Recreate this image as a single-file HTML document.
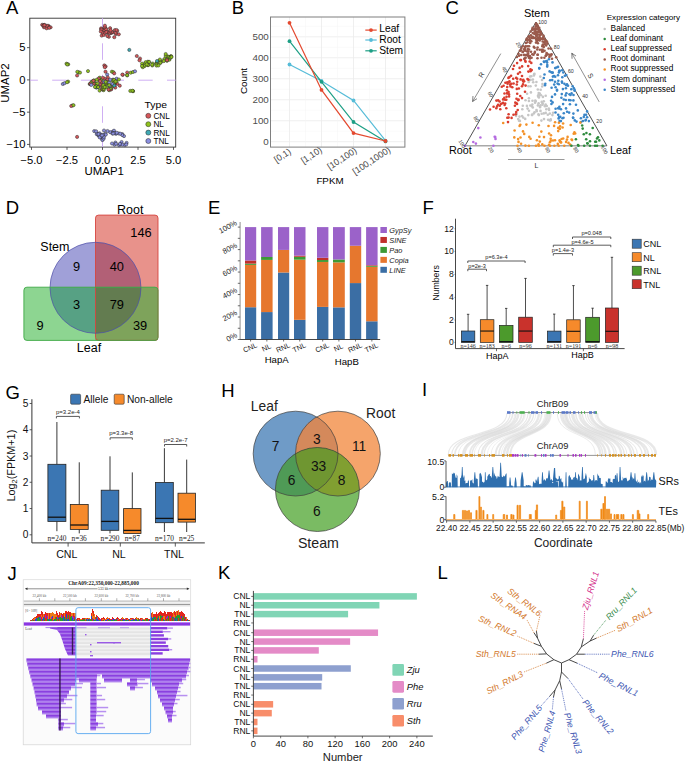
<!DOCTYPE html>
<html><head><meta charset="utf-8"><style>
html,body{margin:0;padding:0;background:#fff;}
svg{display:block;}
text{font-family:"Liberation Sans",sans-serif;}
</style></head><body>
<svg width="685" height="762" viewBox="0 0 685 762">
<text x="6.00" y="13.90" font-size="18.5" text-anchor="start" fill="#000" >A</text>
<text x="231.80" y="13.80" font-size="18.5" text-anchor="start" fill="#000" >B</text>
<text x="445.60" y="13.80" font-size="18.5" text-anchor="start" fill="#000" >C</text>
<text x="5.80" y="213.90" font-size="18.5" text-anchor="start" fill="#000" >D</text>
<text x="208.10" y="214.30" font-size="18.5" text-anchor="start" fill="#000" >E</text>
<text x="422.40" y="214.30" font-size="18.5" text-anchor="start" fill="#000" >F</text>
<text x="5.40" y="398.50" font-size="18.5" text-anchor="start" fill="#000" >G</text>
<text x="221.20" y="397.10" font-size="18.5" text-anchor="start" fill="#000" >H</text>
<text x="422.00" y="396.30" font-size="18.5" text-anchor="start" fill="#000" >I</text>
<text x="7.60" y="579.50" font-size="18.5" text-anchor="start" fill="#000" >J</text>
<text x="218.00" y="579.40" font-size="18.5" text-anchor="start" fill="#000" >K</text>
<text x="437.60" y="579.40" font-size="18.5" text-anchor="start" fill="#000" >L</text>
<rect x="29.8" y="18.2" width="145.89999999999998" height="128.9" fill="none" stroke="#333" stroke-width="0.9"/>
<line x1="29.80" y1="80.20" x2="175.70" y2="80.20" stroke="#c9a6f2" stroke-width="0.9" stroke-dasharray="14.4 14.3" stroke-dashoffset="6.3"/>
<line x1="102.50" y1="147.10" x2="102.50" y2="18.20" stroke="#c9a6f2" stroke-width="0.9" stroke-dasharray="16.5 15" stroke-dashoffset="7.2"/>
<g stroke="#2a2a2a" stroke-width="0.5">
<circle cx="48.5" cy="25.9" r="1.6" fill="#d5575a"/>
<circle cx="48.8" cy="27.2" r="1.6" fill="#d5575a"/>
<circle cx="42.2" cy="24.8" r="1.6" fill="#d5575a"/>
<circle cx="48.7" cy="26.8" r="1.6" fill="#d5575a"/>
<circle cx="46.6" cy="28.3" r="1.6" fill="#d5575a"/>
<circle cx="46.9" cy="25.7" r="1.6" fill="#d5575a"/>
<circle cx="44.4" cy="24.9" r="1.6" fill="#d5575a"/>
<circle cx="44.4" cy="25.7" r="1.6" fill="#d5575a"/>
<circle cx="50.6" cy="27.3" r="1.6" fill="#d5575a"/>
<circle cx="44.0" cy="27.3" r="1.6" fill="#d5575a"/>
<circle cx="43.3" cy="25.6" r="1.6" fill="#d5575a"/>
<circle cx="43.7" cy="25.3" r="1.6" fill="#d5575a"/>
<circle cx="49.2" cy="27.8" r="1.6" fill="#d5575a"/>
<circle cx="44.5" cy="25.2" r="1.6" fill="#d5575a"/>
<circle cx="110.1" cy="28.2" r="1.6" fill="#d5575a"/>
<circle cx="116.0" cy="34.0" r="1.6" fill="#d5575a"/>
<circle cx="103.7" cy="29.5" r="1.6" fill="#d5575a"/>
<circle cx="108.4" cy="32.9" r="1.6" fill="#d5575a"/>
<circle cx="112.6" cy="32.5" r="1.6" fill="#d5575a"/>
<circle cx="101.7" cy="35.6" r="1.6" fill="#d5575a"/>
<circle cx="118.8" cy="34.3" r="1.6" fill="#d5575a"/>
<circle cx="114.8" cy="30.1" r="1.6" fill="#d5575a"/>
<circle cx="104.3" cy="30.2" r="1.6" fill="#d5575a"/>
<circle cx="102.6" cy="32.7" r="1.6" fill="#d5575a"/>
<circle cx="101.5" cy="29.1" r="1.6" fill="#d5575a"/>
<circle cx="110.5" cy="32.8" r="1.6" fill="#d5575a"/>
<circle cx="114.3" cy="37.2" r="1.6" fill="#d5575a"/>
<circle cx="105.6" cy="28.3" r="1.6" fill="#d5575a"/>
<circle cx="103.8" cy="34.9" r="1.6" fill="#d5575a"/>
<circle cx="115.8" cy="32.7" r="1.6" fill="#d5575a"/>
<circle cx="107.4" cy="31.6" r="1.6" fill="#d5575a"/>
<circle cx="106.1" cy="29.3" r="1.6" fill="#d5575a"/>
<circle cx="117.2" cy="30.8" r="1.6" fill="#d5575a"/>
<circle cx="105.2" cy="32.9" r="1.6" fill="#d5575a"/>
<circle cx="101.1" cy="28.4" r="1.6" fill="#d5575a"/>
<circle cx="101.3" cy="29.7" r="1.6" fill="#d5575a"/>
<circle cx="104.7" cy="27.1" r="1.6" fill="#d5575a"/>
<circle cx="110.9" cy="33.1" r="1.6" fill="#d5575a"/>
<circle cx="116.5" cy="30.0" r="1.6" fill="#d5575a"/>
<circle cx="106.3" cy="32.0" r="1.6" fill="#d5575a"/>
<circle cx="108.9" cy="36.8" r="1.6" fill="#d5575a"/>
<circle cx="109.6" cy="32.6" r="1.6" fill="#d5575a"/>
<circle cx="100.8" cy="31.5" r="1.6" fill="#d5575a"/>
<circle cx="112.0" cy="32.0" r="1.6" fill="#d5575a"/>
<circle cx="104.9" cy="25.7" r="1.6" fill="#d5575a"/>
<circle cx="110.4" cy="31.4" r="1.6" fill="#d5575a"/>
<circle cx="110.5" cy="30.3" r="1.6" fill="#d5575a"/>
<circle cx="107.3" cy="36.0" r="1.6" fill="#d5575a"/>
<circle cx="129.3" cy="49.9" r="1.6" fill="#3fa9b4"/>
<circle cx="136.8" cy="56.0" r="1.6" fill="#d5575a"/>
<circle cx="140.0" cy="58.5" r="1.6" fill="#d5575a"/>
<circle cx="139.5" cy="60.3" r="1.6" fill="#d5575a"/>
<circle cx="156.4" cy="63.2" r="1.6" fill="#8fc21e"/>
<circle cx="148.2" cy="62.3" r="1.6" fill="#8fc21e"/>
<circle cx="170.6" cy="56.4" r="1.6" fill="#8fc21e"/>
<circle cx="169.4" cy="59.7" r="1.6" fill="#8fc21e"/>
<circle cx="164.7" cy="59.8" r="1.6" fill="#8fc21e"/>
<circle cx="144.7" cy="65.6" r="1.6" fill="#8fc21e"/>
<circle cx="167.4" cy="56.3" r="1.6" fill="#8fc21e"/>
<circle cx="152.7" cy="63.5" r="1.6" fill="#8fc21e"/>
<circle cx="148.7" cy="62.3" r="1.6" fill="#8fc21e"/>
<circle cx="161.1" cy="61.6" r="1.6" fill="#8fc21e"/>
<circle cx="160.4" cy="62.8" r="1.6" fill="#8fc21e"/>
<circle cx="147.9" cy="61.7" r="1.6" fill="#8fc21e"/>
<circle cx="149.2" cy="61.9" r="1.6" fill="#8fc21e"/>
<circle cx="148.0" cy="65.2" r="1.6" fill="#8fc21e"/>
<circle cx="156.8" cy="63.3" r="1.6" fill="#8fc21e"/>
<circle cx="165.7" cy="56.0" r="1.6" fill="#8fc21e"/>
<circle cx="156.2" cy="64.4" r="1.6" fill="#8fc21e"/>
<circle cx="152.3" cy="65.5" r="1.6" fill="#8fc21e"/>
<circle cx="166.3" cy="59.4" r="1.6" fill="#8fc21e"/>
<circle cx="171.2" cy="56.2" r="1.6" fill="#8fc21e"/>
<circle cx="144.4" cy="65.0" r="1.6" fill="#8fc21e"/>
<circle cx="152.1" cy="64.7" r="1.6" fill="#8fc21e"/>
<circle cx="156.5" cy="65.6" r="1.6" fill="#8fc21e"/>
<circle cx="142.1" cy="63.6" r="1.6" fill="#8fc21e"/>
<circle cx="169.3" cy="57.2" r="1.6" fill="#8fc21e"/>
<circle cx="167.0" cy="60.8" r="1.6" fill="#8fc21e"/>
<circle cx="145.6" cy="62.2" r="1.6" fill="#8fc21e"/>
<circle cx="148.0" cy="65.1" r="1.6" fill="#8fc21e"/>
<circle cx="168.7" cy="56.9" r="1.6" fill="#8fc21e"/>
<circle cx="144.6" cy="64.5" r="1.6" fill="#8fc21e"/>
<circle cx="170.4" cy="57.5" r="1.6" fill="#8fc21e"/>
<circle cx="164.3" cy="59.1" r="1.6" fill="#8fc21e"/>
<circle cx="144.5" cy="66.0" r="1.6" fill="#8fc21e"/>
<circle cx="142.8" cy="67.2" r="1.6" fill="#8fc21e"/>
<circle cx="159.7" cy="60.7" r="1.6" fill="#8fc21e"/>
<circle cx="160.3" cy="62.7" r="1.6" fill="#8fc21e"/>
<circle cx="159.9" cy="59.5" r="1.6" fill="#8fc21e"/>
<circle cx="146.7" cy="64.3" r="1.6" fill="#8fc21e"/>
<circle cx="158.4" cy="65.5" r="1.6" fill="#8fc21e"/>
<circle cx="163.8" cy="61.1" r="1.6" fill="#8fc21e"/>
<circle cx="142.0" cy="66.0" r="1.6" fill="#8fc21e"/>
<circle cx="157.0" cy="61.0" r="1.6" fill="#3fa9b4"/>
<circle cx="167.0" cy="60.2" r="1.6" fill="#d5575a"/>
<circle cx="165.7" cy="54.0" r="1.6" fill="#8fc21e"/>
<circle cx="170.5" cy="57.5" r="1.6" fill="#8fc21e"/>
<circle cx="171.5" cy="57.0" r="1.6" fill="#8fc21e"/>
<circle cx="122.8" cy="74.8" r="1.6" fill="#d5575a"/>
<circle cx="127.2" cy="72.5" r="1.6" fill="#d5575a"/>
<circle cx="127.2" cy="75.3" r="1.6" fill="#8fc21e"/>
<circle cx="130.7" cy="72.7" r="1.6" fill="#8fc21e"/>
<circle cx="133.0" cy="72.0" r="1.6" fill="#8fc21e"/>
<circle cx="135.0" cy="71.3" r="1.6" fill="#8b8fe0"/>
<circle cx="130.3" cy="90.9" r="1.6" fill="#8fc21e"/>
<circle cx="133.0" cy="91.1" r="1.6" fill="#8fc21e"/>
<circle cx="133.0" cy="91.2" r="1.6" fill="#8fc21e"/>
<circle cx="132.5" cy="90.7" r="1.6" fill="#8fc21e"/>
<circle cx="66.5" cy="63.7" r="1.6" fill="#8fc21e"/>
<circle cx="68.2" cy="64.3" r="1.6" fill="#8fc21e"/>
<circle cx="67.2" cy="64.5" r="1.6" fill="#8fc21e"/>
<circle cx="78.6" cy="72.3" r="1.6" fill="#8fc21e"/>
<circle cx="80.0" cy="72.6" r="1.6" fill="#8fc21e"/>
<circle cx="77.3" cy="71.8" r="1.6" fill="#8fc21e"/>
<circle cx="77.1" cy="75.5" r="1.6" fill="#d5575a"/>
<circle cx="88.0" cy="71.1" r="1.6" fill="#8fc21e"/>
<circle cx="62.8" cy="84.0" r="1.6" fill="#8b8fe0"/>
<circle cx="64.5" cy="83.2" r="1.6" fill="#8b8fe0"/>
<circle cx="68.1" cy="81.6" r="1.6" fill="#8fc21e"/>
<circle cx="67.0" cy="82.2" r="1.6" fill="#8fc21e"/>
<circle cx="72.4" cy="105.5" r="1.6" fill="#8fc21e"/>
<circle cx="71.2" cy="106.0" r="1.6" fill="#d5575a"/>
<circle cx="73.5" cy="105.2" r="1.6" fill="#8fc21e"/>
<circle cx="77.1" cy="136.9" r="1.6" fill="#d5575a"/>
<circle cx="104.3" cy="65.4" r="1.6" fill="#d5575a"/>
<circle cx="105.6" cy="66.4" r="1.6" fill="#d5575a"/>
<circle cx="104.8" cy="67.2" r="1.6" fill="#d5575a"/>
<circle cx="105.5" cy="71.7" r="1.6" fill="#d5575a"/>
<circle cx="107.2" cy="74.6" r="1.6" fill="#8b8fe0"/>
<circle cx="107.8" cy="77.5" r="1.6" fill="#d5575a"/>
<circle cx="104.5" cy="78.5" r="1.6" fill="#d5575a"/>
<circle cx="111.9" cy="71.7" r="1.6" fill="#8fc21e"/>
<circle cx="113.4" cy="72.2" r="1.6" fill="#8fc21e"/>
<circle cx="114.2" cy="73.4" r="1.6" fill="#d5575a"/>
<circle cx="122.4" cy="74.6" r="1.6" fill="#d5575a"/>
<circle cx="127.1" cy="75.2" r="1.6" fill="#8fc21e"/>
<circle cx="116.6" cy="78.7" r="1.6" fill="#8b8fe0"/>
<circle cx="118.9" cy="79.5" r="1.6" fill="#8fc21e"/>
<circle cx="119.8" cy="85.7" r="1.6" fill="#d5575a"/>
<circle cx="113.9" cy="82.2" r="1.6" fill="#8fc21e"/>
<circle cx="106.2" cy="84.2" r="1.6" fill="#8fc21e"/>
<circle cx="109.2" cy="90.2" r="1.6" fill="#8fc21e"/>
<circle cx="103.4" cy="82.1" r="1.6" fill="#8b8fe0"/>
<circle cx="105.3" cy="81.4" r="1.6" fill="#8b8fe0"/>
<circle cx="96.0" cy="84.3" r="1.6" fill="#8fc21e"/>
<circle cx="106.3" cy="83.1" r="1.6" fill="#8fc21e"/>
<circle cx="99.7" cy="77.7" r="1.6" fill="#8fc21e"/>
<circle cx="102.7" cy="77.8" r="1.6" fill="#d5575a"/>
<circle cx="111.3" cy="89.1" r="1.6" fill="#d5575a"/>
<circle cx="113.1" cy="79.6" r="1.6" fill="#8b8fe0"/>
<circle cx="111.2" cy="86.8" r="1.6" fill="#8fc21e"/>
<circle cx="117.3" cy="83.8" r="1.6" fill="#d5575a"/>
<circle cx="89.7" cy="84.0" r="1.6" fill="#8fc21e"/>
<circle cx="96.8" cy="87.4" r="1.6" fill="#8fc21e"/>
<circle cx="109.5" cy="88.9" r="1.6" fill="#8fc21e"/>
<circle cx="103.6" cy="90.2" r="1.6" fill="#8fc21e"/>
<circle cx="101.4" cy="83.2" r="1.6" fill="#d5575a"/>
<circle cx="114.5" cy="84.7" r="1.6" fill="#8b8fe0"/>
<circle cx="101.0" cy="80.2" r="1.6" fill="#8fc21e"/>
<circle cx="102.3" cy="85.3" r="1.6" fill="#8b8fe0"/>
<circle cx="96.2" cy="87.5" r="1.6" fill="#3fa9b4"/>
<circle cx="95.5" cy="84.3" r="1.6" fill="#8fc21e"/>
<circle cx="112.3" cy="80.3" r="1.6" fill="#8fc21e"/>
<circle cx="99.6" cy="90.6" r="1.6" fill="#8fc21e"/>
<circle cx="94.4" cy="83.8" r="1.6" fill="#d5575a"/>
<circle cx="92.0" cy="81.6" r="1.6" fill="#8fc21e"/>
<circle cx="107.5" cy="79.7" r="1.6" fill="#d5575a"/>
<circle cx="96.5" cy="84.0" r="1.6" fill="#8fc21e"/>
<circle cx="113.6" cy="84.8" r="1.6" fill="#8fc21e"/>
<circle cx="105.0" cy="87.4" r="1.6" fill="#8fc21e"/>
<circle cx="114.1" cy="79.9" r="1.6" fill="#8fc21e"/>
<circle cx="97.5" cy="86.5" r="1.6" fill="#8fc21e"/>
<circle cx="100.5" cy="84.9" r="1.6" fill="#d5575a"/>
<circle cx="114.2" cy="83.3" r="1.6" fill="#8fc21e"/>
<circle cx="114.2" cy="86.3" r="1.6" fill="#8fc21e"/>
<circle cx="102.8" cy="89.5" r="1.6" fill="#8fc21e"/>
<circle cx="110.9" cy="89.5" r="1.6" fill="#d5575a"/>
<circle cx="90.2" cy="84.0" r="1.6" fill="#d5575a"/>
<circle cx="106.4" cy="87.4" r="1.6" fill="#8fc21e"/>
<circle cx="114.3" cy="82.7" r="1.6" fill="#8fc21e"/>
<circle cx="99.1" cy="80.3" r="1.6" fill="#8fc21e"/>
<circle cx="94.0" cy="80.9" r="1.6" fill="#8fc21e"/>
<circle cx="101.8" cy="89.0" r="1.6" fill="#d5575a"/>
<circle cx="110.4" cy="88.4" r="1.6" fill="#8fc21e"/>
<circle cx="97.3" cy="83.6" r="1.6" fill="#8fc21e"/>
<circle cx="95.9" cy="86.3" r="1.6" fill="#8fc21e"/>
<circle cx="108.6" cy="89.6" r="1.6" fill="#d5575a"/>
<circle cx="107.2" cy="82.5" r="1.6" fill="#8fc21e"/>
<circle cx="98.6" cy="78.6" r="1.6" fill="#d5575a"/>
<circle cx="91.2" cy="82.5" r="1.6" fill="#8fc21e"/>
<circle cx="102.7" cy="88.8" r="1.6" fill="#8fc21e"/>
<circle cx="115.3" cy="87.6" r="1.6" fill="#d5575a"/>
<circle cx="112.5" cy="84.0" r="1.6" fill="#8b8fe0"/>
<circle cx="101.9" cy="86.4" r="1.6" fill="#d5575a"/>
<circle cx="100.1" cy="81.1" r="1.6" fill="#d5575a"/>
<circle cx="103.8" cy="88.7" r="1.6" fill="#8fc21e"/>
<circle cx="116.3" cy="81.7" r="1.6" fill="#8fc21e"/>
<circle cx="108.4" cy="82.3" r="1.6" fill="#8fc21e"/>
<circle cx="103.4" cy="86.7" r="1.6" fill="#8fc21e"/>
<circle cx="115.6" cy="81.5" r="1.6" fill="#8fc21e"/>
<circle cx="103.1" cy="86.6" r="1.6" fill="#8fc21e"/>
<circle cx="90.4" cy="83.8" r="1.6" fill="#d5575a"/>
<circle cx="96.1" cy="86.1" r="1.6" fill="#8fc21e"/>
<circle cx="93.9" cy="80.4" r="1.6" fill="#8fc21e"/>
<circle cx="103.3" cy="85.1" r="1.6" fill="#8fc21e"/>
<circle cx="109.9" cy="86.0" r="1.6" fill="#8fc21e"/>
<circle cx="114.3" cy="85.6" r="1.6" fill="#3fa9b4"/>
<circle cx="96.8" cy="79.7" r="1.6" fill="#8fc21e"/>
<circle cx="105.7" cy="81.8" r="1.6" fill="#8fc21e"/>
<circle cx="98.2" cy="87.1" r="1.6" fill="#3fa9b4"/>
<circle cx="109.3" cy="82.6" r="1.6" fill="#8b8fe0"/>
<circle cx="98.1" cy="87.1" r="1.6" fill="#8fc21e"/>
<circle cx="109.8" cy="86.0" r="1.6" fill="#8b8fe0"/>
<circle cx="95.0" cy="87.0" r="1.6" fill="#8fc21e"/>
<circle cx="109.2" cy="85.2" r="1.6" fill="#8fc21e"/>
<circle cx="110.2" cy="79.7" r="1.6" fill="#8b8fe0"/>
<circle cx="104.7" cy="87.0" r="1.6" fill="#8fc21e"/>
<circle cx="91.2" cy="84.9" r="1.6" fill="#8b8fe0"/>
<circle cx="93.4" cy="80.8" r="1.6" fill="#d5575a"/>
<circle cx="94.2" cy="131.1" r="1.6" fill="#8b8fe0"/>
<circle cx="97.9" cy="134.3" r="1.6" fill="#8b8fe0"/>
<circle cx="97.6" cy="133.8" r="1.6" fill="#8b8fe0"/>
<circle cx="101.2" cy="137.4" r="1.6" fill="#8b8fe0"/>
<circle cx="102.0" cy="137.7" r="1.6" fill="#8b8fe0"/>
<circle cx="96.8" cy="134.2" r="1.6" fill="#8b8fe0"/>
<circle cx="102.3" cy="139.6" r="1.6" fill="#8b8fe0"/>
<circle cx="98.4" cy="135.1" r="1.6" fill="#8b8fe0"/>
<circle cx="96.1" cy="131.3" r="1.6" fill="#8b8fe0"/>
<circle cx="102.5" cy="140.0" r="1.6" fill="#8b8fe0"/>
<circle cx="99.4" cy="136.3" r="1.6" fill="#8b8fe0"/>
<circle cx="103.7" cy="138.6" r="1.6" fill="#8b8fe0"/>
<circle cx="101.7" cy="135.7" r="1.6" fill="#8b8fe0"/>
<circle cx="99.3" cy="135.7" r="1.6" fill="#8b8fe0"/>
<circle cx="103.6" cy="135.7" r="1.6" fill="#8b8fe0"/>
<circle cx="103.8" cy="136.9" r="1.6" fill="#8b8fe0"/>
<circle cx="99.6" cy="133.3" r="1.6" fill="#8b8fe0"/>
<circle cx="105.3" cy="133.8" r="1.6" fill="#8b8fe0"/>
<circle cx="101.2" cy="135.1" r="1.6" fill="#8b8fe0"/>
<circle cx="99.7" cy="137.4" r="1.6" fill="#8b8fe0"/>
<circle cx="105.8" cy="134.6" r="1.6" fill="#8b8fe0"/>
<circle cx="102.9" cy="134.8" r="1.6" fill="#8b8fe0"/>
<circle cx="102.0" cy="135.4" r="1.6" fill="#8b8fe0"/>
<circle cx="98.5" cy="134.0" r="1.6" fill="#8b8fe0"/>
<circle cx="112.7" cy="131.7" r="1.6" fill="#8b8fe0"/>
<circle cx="114.0" cy="130.7" r="1.6" fill="#8b8fe0"/>
<circle cx="116.0" cy="133.8" r="1.6" fill="#8b8fe0"/>
<circle cx="110.2" cy="132.2" r="1.6" fill="#8b8fe0"/>
<circle cx="112.5" cy="133.6" r="1.6" fill="#8b8fe0"/>
<circle cx="122.3" cy="134.1" r="1.6" fill="#8b8fe0"/>
<circle cx="114.6" cy="133.0" r="1.6" fill="#8b8fe0"/>
<circle cx="114.5" cy="133.1" r="1.6" fill="#8b8fe0"/>
<circle cx="124.0" cy="136.1" r="1.6" fill="#8b8fe0"/>
<circle cx="118.7" cy="133.5" r="1.6" fill="#8b8fe0"/>
<circle cx="113.1" cy="133.5" r="1.6" fill="#8b8fe0"/>
<circle cx="116.8" cy="132.8" r="1.6" fill="#8b8fe0"/>
<circle cx="122.2" cy="135.0" r="1.6" fill="#8b8fe0"/>
<circle cx="120.2" cy="133.7" r="1.6" fill="#8b8fe0"/>
<circle cx="121.6" cy="142.0" r="1.6" fill="#8b8fe0"/>
<circle cx="119.1" cy="145.2" r="1.6" fill="#8b8fe0"/>
<circle cx="124.7" cy="145.0" r="1.6" fill="#8b8fe0"/>
<circle cx="126.6" cy="142.9" r="1.6" fill="#8b8fe0"/>
<circle cx="115.4" cy="142.5" r="1.6" fill="#8b8fe0"/>
<circle cx="120.8" cy="144.4" r="1.6" fill="#8b8fe0"/>
<circle cx="126.2" cy="144.5" r="1.6" fill="#8b8fe0"/>
<circle cx="122.4" cy="144.7" r="1.6" fill="#8b8fe0"/>
<circle cx="119.9" cy="143.9" r="1.6" fill="#8b8fe0"/>
<circle cx="114.5" cy="144.7" r="1.6" fill="#8b8fe0"/>
<circle cx="112.0" cy="143.5" r="1.6" fill="#8b8fe0"/>
<circle cx="116.0" cy="143.8" r="1.6" fill="#8b8fe0"/>
<circle cx="104.0" cy="130.5" r="1.6" fill="#8b8fe0"/>
<circle cx="107.5" cy="131.0" r="1.6" fill="#8b8fe0"/>
</g>
<line x1="31.50" y1="147.10" x2="31.50" y2="149.90" stroke="#333" stroke-width="0.8" />
<text x="0" y="0" font-size="10.2" text-anchor="middle" fill="#000" transform="translate(31.50,163.60) scale(1.1,1)" >−5.0</text>
<line x1="67.00" y1="147.10" x2="67.00" y2="149.90" stroke="#333" stroke-width="0.8" />
<text x="0" y="0" font-size="10.2" text-anchor="middle" fill="#000" transform="translate(67.00,163.60) scale(1.1,1)" >−2.5</text>
<line x1="102.50" y1="147.10" x2="102.50" y2="149.90" stroke="#333" stroke-width="0.8" />
<text x="0" y="0" font-size="10.2" text-anchor="middle" fill="#000" transform="translate(102.50,163.60) scale(1.1,1)" >0.0</text>
<line x1="138.00" y1="147.10" x2="138.00" y2="149.90" stroke="#333" stroke-width="0.8" />
<text x="0" y="0" font-size="10.2" text-anchor="middle" fill="#000" transform="translate(138.00,163.60) scale(1.1,1)" >2.5</text>
<line x1="173.50" y1="147.10" x2="173.50" y2="149.90" stroke="#333" stroke-width="0.8" />
<text x="0" y="0" font-size="10.2" text-anchor="middle" fill="#000" transform="translate(173.50,163.60) scale(1.1,1)" >5.0</text>
<line x1="27.00" y1="47.64" x2="29.80" y2="47.64" stroke="#333" stroke-width="0.8" />
<text x="0" y="0" font-size="10.2" text-anchor="end" fill="#000" transform="translate(25.60,51.24) scale(1.1,1)" >5</text>
<line x1="27.00" y1="79.90" x2="29.80" y2="79.90" stroke="#333" stroke-width="0.8" />
<text x="0" y="0" font-size="10.2" text-anchor="end" fill="#000" transform="translate(25.60,83.50) scale(1.1,1)" >0</text>
<line x1="27.00" y1="112.16" x2="29.80" y2="112.16" stroke="#333" stroke-width="0.8" />
<text x="0" y="0" font-size="10.2" text-anchor="end" fill="#000" transform="translate(25.60,115.76) scale(1.1,1)" >−5</text>
<line x1="27.00" y1="144.42" x2="29.80" y2="144.42" stroke="#333" stroke-width="0.8" />
<text x="0" y="0" font-size="10.2" text-anchor="end" fill="#000" transform="translate(25.60,148.02) scale(1.1,1)" >−10</text>
<text x="0" y="0" font-size="10.4" text-anchor="middle" fill="#000" transform="translate(104.20,174.80) scale(1.1,1)" >UMAP1</text>
<text x="0.00" y="0.00" font-size="10.4" text-anchor="middle" fill="#000" transform="translate(9.0,83) rotate(-90) scale(1.1,1)">UMAP2</text>
<text x="0" y="0" font-size="9.8" text-anchor="start" fill="#000" transform="translate(144.60,107.90) scale(1.06,1)" >Type</text>
<circle cx="148.3" cy="115.8" r="2.5" fill="#d5575a" stroke="#222" stroke-width="0.5"/>
<text x="153.40" y="118.70" font-size="8.2" text-anchor="start" fill="#000" >CNL</text>
<circle cx="148.3" cy="124.2" r="2.5" fill="#8fc21e" stroke="#222" stroke-width="0.5"/>
<text x="153.40" y="127.10" font-size="8.2" text-anchor="start" fill="#000" >NL</text>
<circle cx="148.3" cy="132.6" r="2.5" fill="#3fa9b4" stroke="#222" stroke-width="0.5"/>
<text x="153.40" y="135.50" font-size="8.2" text-anchor="start" fill="#000" >RNL</text>
<circle cx="148.3" cy="141.0" r="2.5" fill="#8b8fe0" stroke="#222" stroke-width="0.5"/>
<text x="153.40" y="143.90" font-size="8.2" text-anchor="start" fill="#000" >TNL</text>
<rect x="270.50" y="17.00" width="134.40" height="130.10" fill="#fff" />
<line x1="270.50" y1="131.21" x2="404.90" y2="131.21" stroke="#f4f4f4" stroke-width="0.5" />
<line x1="270.50" y1="110.23" x2="404.90" y2="110.23" stroke="#f4f4f4" stroke-width="0.5" />
<line x1="270.50" y1="89.25" x2="404.90" y2="89.25" stroke="#f4f4f4" stroke-width="0.5" />
<line x1="270.50" y1="68.27" x2="404.90" y2="68.27" stroke="#f4f4f4" stroke-width="0.5" />
<line x1="270.50" y1="47.29" x2="404.90" y2="47.29" stroke="#f4f4f4" stroke-width="0.5" />
<line x1="270.50" y1="26.31" x2="404.90" y2="26.31" stroke="#f4f4f4" stroke-width="0.5" />
<line x1="270.50" y1="141.70" x2="404.90" y2="141.70" stroke="#ebebeb" stroke-width="0.8" />
<line x1="270.50" y1="120.72" x2="404.90" y2="120.72" stroke="#ebebeb" stroke-width="0.8" />
<line x1="270.50" y1="99.74" x2="404.90" y2="99.74" stroke="#ebebeb" stroke-width="0.8" />
<line x1="270.50" y1="78.76" x2="404.90" y2="78.76" stroke="#ebebeb" stroke-width="0.8" />
<line x1="270.50" y1="57.78" x2="404.90" y2="57.78" stroke="#ebebeb" stroke-width="0.8" />
<line x1="270.50" y1="36.80" x2="404.90" y2="36.80" stroke="#ebebeb" stroke-width="0.8" />
<line x1="305.50" y1="17.00" x2="305.50" y2="147.10" stroke="#f4f4f4" stroke-width="0.5" />
<line x1="337.50" y1="17.00" x2="337.50" y2="147.10" stroke="#f4f4f4" stroke-width="0.5" />
<line x1="369.50" y1="17.00" x2="369.50" y2="147.10" stroke="#f4f4f4" stroke-width="0.5" />
<line x1="289.50" y1="17.00" x2="289.50" y2="147.10" stroke="#ebebeb" stroke-width="0.8" />
<line x1="321.50" y1="17.00" x2="321.50" y2="147.10" stroke="#ebebeb" stroke-width="0.8" />
<line x1="353.50" y1="17.00" x2="353.50" y2="147.10" stroke="#ebebeb" stroke-width="0.8" />
<line x1="385.50" y1="17.00" x2="385.50" y2="147.10" stroke="#ebebeb" stroke-width="0.8" />
<rect x="270.5" y="17.0" width="134.39999999999998" height="130.1" fill="none" stroke="#7f7f7f" stroke-width="1"/>
<polyline points="289.5,64.5 321.5,81.0 353.5,100.5 385.5,140.6" fill="none" stroke="#56bcd8" stroke-width="1.2"/>
<circle cx="289.5" cy="64.5" r="1.9" fill="#56bcd8"/>
<circle cx="321.5" cy="81.0" r="1.9" fill="#56bcd8"/>
<circle cx="353.5" cy="100.5" r="1.9" fill="#56bcd8"/>
<circle cx="385.5" cy="140.6" r="1.9" fill="#56bcd8"/>
<polyline points="289.5,41.2 321.5,81.8 353.5,122.0 385.5,141.4" fill="none" stroke="#1d9f85" stroke-width="1.2"/>
<circle cx="289.5" cy="41.2" r="1.9" fill="#1d9f85"/>
<circle cx="321.5" cy="81.8" r="1.9" fill="#1d9f85"/>
<circle cx="353.5" cy="122.0" r="1.9" fill="#1d9f85"/>
<circle cx="385.5" cy="141.4" r="1.9" fill="#1d9f85"/>
<polyline points="289.5,22.8 321.5,89.9 353.5,133.1 385.5,141.0" fill="none" stroke="#e4492f" stroke-width="1.2"/>
<circle cx="289.5" cy="22.8" r="1.9" fill="#e4492f"/>
<circle cx="321.5" cy="89.9" r="1.9" fill="#e4492f"/>
<circle cx="353.5" cy="133.1" r="1.9" fill="#e4492f"/>
<circle cx="385.5" cy="141.0" r="1.9" fill="#e4492f"/>
<text x="268.80" y="145.20" font-size="9.8" text-anchor="end" fill="#4d4d4d" >0</text>
<text x="268.80" y="124.22" font-size="9.8" text-anchor="end" fill="#4d4d4d" >100</text>
<text x="268.80" y="103.24" font-size="9.8" text-anchor="end" fill="#4d4d4d" >200</text>
<text x="268.80" y="82.26" font-size="9.8" text-anchor="end" fill="#4d4d4d" >300</text>
<text x="268.80" y="61.28" font-size="9.8" text-anchor="end" fill="#4d4d4d" >400</text>
<text x="268.80" y="40.30" font-size="9.8" text-anchor="end" fill="#4d4d4d" >500</text>
<text x="0.00" y="0.00" font-size="9" text-anchor="end" fill="#4d4d4d" transform="translate(291.7,153.1) rotate(-33)">[0,1)</text>
<text x="0.00" y="0.00" font-size="9" text-anchor="end" fill="#4d4d4d" transform="translate(322.7,151.5) rotate(-33)">[1,10)</text>
<text x="0.00" y="0.00" font-size="9" text-anchor="end" fill="#4d4d4d" transform="translate(357.5,152.1) rotate(-33)">[10,100)</text>
<text x="0.00" y="0.00" font-size="9" text-anchor="end" fill="#4d4d4d" transform="translate(391.2,151.5) rotate(-33)">[100,1000)</text>
<text x="330.00" y="184.10" font-size="9.8" text-anchor="middle" fill="#000" >FPKM</text>
<text x="0.00" y="0.00" font-size="9.8" text-anchor="middle" fill="#000" transform="translate(247.2,81) rotate(-90)">Count</text>
<line x1="365.30" y1="30.10" x2="376.70" y2="30.10" stroke="#e4492f" stroke-width="1.2" />
<circle cx="371" cy="30.1" r="1.9" fill="#e4492f"/>
<text x="379.30" y="32.10" font-size="10.2" text-anchor="start" fill="#000" >Leaf</text>
<line x1="365.30" y1="40.00" x2="376.70" y2="40.00" stroke="#56bcd8" stroke-width="1.2" />
<circle cx="371" cy="40.0" r="1.9" fill="#56bcd8"/>
<text x="379.30" y="42.90" font-size="10.2" text-anchor="start" fill="#000" >Root</text>
<line x1="365.30" y1="50.80" x2="376.70" y2="50.80" stroke="#1d9f85" stroke-width="1.2" />
<circle cx="371" cy="50.8" r="1.9" fill="#1d9f85"/>
<text x="379.30" y="54.00" font-size="10.2" text-anchor="start" fill="#000" >Stem</text>
<line x1="465.00" y1="145.80" x2="606.90" y2="145.80" stroke="#a8a8a8" stroke-width="1.5" />
<line x1="536.00" y1="22.00" x2="465.00" y2="145.80" stroke="#222" stroke-width="0.8" />
<line x1="536.00" y1="22.00" x2="606.90" y2="145.80" stroke="#222" stroke-width="0.8" />
<circle cx="545.7" cy="112.9" r="1.3" fill="#c6c6c6"/>
<circle cx="536.4" cy="82.0" r="1.3" fill="#c6c6c6"/>
<circle cx="528.9" cy="101.0" r="1.3" fill="#c6c6c6"/>
<circle cx="533.8" cy="113.5" r="1.3" fill="#c6c6c6"/>
<circle cx="525.2" cy="118.9" r="1.3" fill="#c6c6c6"/>
<circle cx="544.0" cy="119.1" r="1.3" fill="#c6c6c6"/>
<circle cx="546.3" cy="109.2" r="1.3" fill="#c6c6c6"/>
<circle cx="535.7" cy="101.2" r="1.3" fill="#c6c6c6"/>
<circle cx="531.9" cy="106.2" r="1.3" fill="#c6c6c6"/>
<circle cx="548.1" cy="119.7" r="1.3" fill="#c6c6c6"/>
<circle cx="532.5" cy="100.8" r="1.3" fill="#c6c6c6"/>
<circle cx="538.6" cy="95.2" r="1.3" fill="#c6c6c6"/>
<circle cx="542.6" cy="103.3" r="1.3" fill="#c6c6c6"/>
<circle cx="549.1" cy="110.0" r="1.3" fill="#c6c6c6"/>
<circle cx="516.1" cy="116.0" r="1.3" fill="#c6c6c6"/>
<circle cx="534.5" cy="112.2" r="1.3" fill="#c6c6c6"/>
<circle cx="516.8" cy="114.0" r="1.3" fill="#c6c6c6"/>
<circle cx="530.6" cy="79.9" r="1.3" fill="#c6c6c6"/>
<circle cx="542.0" cy="80.0" r="1.3" fill="#c6c6c6"/>
<circle cx="549.7" cy="120.4" r="1.3" fill="#c6c6c6"/>
<circle cx="548.8" cy="108.6" r="1.3" fill="#c6c6c6"/>
<circle cx="522.1" cy="116.1" r="1.3" fill="#c6c6c6"/>
<circle cx="522.8" cy="105.8" r="1.3" fill="#c6c6c6"/>
<circle cx="540.1" cy="106.9" r="1.3" fill="#c6c6c6"/>
<circle cx="541.4" cy="120.6" r="1.3" fill="#c6c6c6"/>
<circle cx="538.4" cy="114.4" r="1.3" fill="#c6c6c6"/>
<circle cx="541.7" cy="101.9" r="1.3" fill="#c6c6c6"/>
<circle cx="538.2" cy="96.4" r="1.3" fill="#c6c6c6"/>
<circle cx="552.4" cy="115.1" r="1.3" fill="#c6c6c6"/>
<circle cx="538.6" cy="103.3" r="1.3" fill="#c6c6c6"/>
<circle cx="530.1" cy="76.5" r="1.3" fill="#c6c6c6"/>
<circle cx="543.8" cy="113.4" r="1.3" fill="#c6c6c6"/>
<circle cx="537.9" cy="105.4" r="1.3" fill="#c6c6c6"/>
<circle cx="519.9" cy="120.9" r="1.3" fill="#c6c6c6"/>
<circle cx="545.7" cy="95.8" r="1.3" fill="#c6c6c6"/>
<circle cx="530.3" cy="105.5" r="1.3" fill="#c6c6c6"/>
<circle cx="535.3" cy="100.5" r="1.3" fill="#c6c6c6"/>
<circle cx="542.2" cy="86.5" r="1.3" fill="#c6c6c6"/>
<circle cx="533.2" cy="82.2" r="1.3" fill="#c6c6c6"/>
<circle cx="535.1" cy="102.8" r="1.3" fill="#c6c6c6"/>
<circle cx="546.8" cy="106.0" r="1.3" fill="#c6c6c6"/>
<circle cx="538.7" cy="93.1" r="1.3" fill="#c6c6c6"/>
<circle cx="538.9" cy="97.4" r="1.3" fill="#c6c6c6"/>
<circle cx="542.6" cy="104.8" r="1.3" fill="#c6c6c6"/>
<circle cx="543.8" cy="101.3" r="1.3" fill="#c6c6c6"/>
<circle cx="545.6" cy="104.6" r="1.3" fill="#c6c6c6"/>
<circle cx="534.1" cy="74.6" r="1.3" fill="#c6c6c6"/>
<circle cx="532.8" cy="107.5" r="1.3" fill="#c6c6c6"/>
<circle cx="519.0" cy="120.8" r="1.3" fill="#c6c6c6"/>
<circle cx="530.5" cy="86.3" r="1.3" fill="#c6c6c6"/>
<circle cx="540.5" cy="110.9" r="1.3" fill="#c6c6c6"/>
<circle cx="540.5" cy="105.3" r="1.3" fill="#c6c6c6"/>
<circle cx="522.3" cy="109.3" r="1.3" fill="#c6c6c6"/>
<circle cx="526.9" cy="105.9" r="1.3" fill="#c6c6c6"/>
<circle cx="547.8" cy="114.7" r="1.3" fill="#c6c6c6"/>
<circle cx="533.9" cy="75.5" r="1.3" fill="#c6c6c6"/>
<circle cx="540.3" cy="76.6" r="1.3" fill="#c6c6c6"/>
<circle cx="540.0" cy="107.1" r="1.3" fill="#c6c6c6"/>
<circle cx="545.8" cy="105.9" r="1.3" fill="#c6c6c6"/>
<circle cx="523.2" cy="117.6" r="1.3" fill="#c6c6c6"/>
<circle cx="537.8" cy="89.5" r="1.3" fill="#c6c6c6"/>
<circle cx="539.1" cy="95.3" r="1.3" fill="#c6c6c6"/>
<circle cx="518.2" cy="119.0" r="1.3" fill="#c6c6c6"/>
<circle cx="534.4" cy="73.8" r="1.3" fill="#c6c6c6"/>
<circle cx="542.9" cy="96.9" r="1.3" fill="#c6c6c6"/>
<circle cx="532.0" cy="114.9" r="1.3" fill="#c6c6c6"/>
<circle cx="536.7" cy="111.3" r="1.3" fill="#c6c6c6"/>
<circle cx="541.0" cy="95.2" r="1.3" fill="#c6c6c6"/>
<circle cx="531.3" cy="76.3" r="1.3" fill="#c6c6c6"/>
<circle cx="538.9" cy="115.1" r="1.3" fill="#c6c6c6"/>
<circle cx="550.7" cy="120.3" r="1.3" fill="#c6c6c6"/>
<circle cx="550.7" cy="119.3" r="1.3" fill="#c6c6c6"/>
<circle cx="544.9" cy="106.3" r="1.3" fill="#c6c6c6"/>
<circle cx="519.5" cy="116.6" r="1.3" fill="#c6c6c6"/>
<circle cx="549.8" cy="113.6" r="1.3" fill="#c6c6c6"/>
<circle cx="541.7" cy="113.8" r="1.3" fill="#c6c6c6"/>
<circle cx="553.1" cy="112.8" r="1.3" fill="#c6c6c6"/>
<circle cx="528.3" cy="115.1" r="1.3" fill="#c6c6c6"/>
<circle cx="539.8" cy="93.6" r="1.3" fill="#c6c6c6"/>
<circle cx="530.9" cy="92.4" r="1.3" fill="#c6c6c6"/>
<circle cx="536.5" cy="110.1" r="1.3" fill="#c6c6c6"/>
<circle cx="532.9" cy="79.6" r="1.3" fill="#c6c6c6"/>
<circle cx="532.3" cy="104.5" r="1.3" fill="#c6c6c6"/>
<circle cx="538.1" cy="95.5" r="1.3" fill="#c6c6c6"/>
<circle cx="540.7" cy="89.7" r="1.3" fill="#c6c6c6"/>
<circle cx="528.7" cy="81.9" r="1.3" fill="#c6c6c6"/>
<circle cx="532.1" cy="114.9" r="1.3" fill="#c6c6c6"/>
<circle cx="528.9" cy="98.3" r="1.3" fill="#c6c6c6"/>
<circle cx="527.1" cy="93.8" r="1.3" fill="#c6c6c6"/>
<circle cx="527.6" cy="108.6" r="1.3" fill="#c6c6c6"/>
<circle cx="525.5" cy="100.3" r="1.3" fill="#c6c6c6"/>
<circle cx="535.8" cy="85.6" r="1.3" fill="#c6c6c6"/>
<circle cx="528.4" cy="86.2" r="1.3" fill="#c6c6c6"/>
<circle cx="542.5" cy="84.0" r="1.3" fill="#c6c6c6"/>
<circle cx="529.0" cy="110.8" r="1.3" fill="#c6c6c6"/>
<circle cx="539.4" cy="31.0" r="1.3" fill="#9a5a4c"/>
<circle cx="543.2" cy="38.9" r="1.3" fill="#9a5a4c"/>
<circle cx="534.5" cy="28.8" r="1.3" fill="#9a5a4c"/>
<circle cx="552.0" cy="58.7" r="1.3" fill="#9a5a4c"/>
<circle cx="536.3" cy="32.2" r="1.3" fill="#9a5a4c"/>
<circle cx="538.3" cy="38.6" r="1.3" fill="#9a5a4c"/>
<circle cx="526.4" cy="54.9" r="1.3" fill="#9a5a4c"/>
<circle cx="524.9" cy="47.0" r="1.3" fill="#9a5a4c"/>
<circle cx="521.2" cy="55.0" r="1.3" fill="#9a5a4c"/>
<circle cx="539.0" cy="39.1" r="1.3" fill="#9a5a4c"/>
<circle cx="541.5" cy="57.8" r="1.3" fill="#9a5a4c"/>
<circle cx="522.6" cy="52.0" r="1.3" fill="#9a5a4c"/>
<circle cx="540.4" cy="38.3" r="1.3" fill="#9a5a4c"/>
<circle cx="530.0" cy="58.4" r="1.3" fill="#9a5a4c"/>
<circle cx="536.8" cy="31.9" r="1.3" fill="#9a5a4c"/>
<circle cx="547.3" cy="43.6" r="1.3" fill="#9a5a4c"/>
<circle cx="525.7" cy="57.7" r="1.3" fill="#9a5a4c"/>
<circle cx="527.4" cy="42.3" r="1.3" fill="#9a5a4c"/>
<circle cx="524.3" cy="59.0" r="1.3" fill="#9a5a4c"/>
<circle cx="518.5" cy="53.7" r="1.3" fill="#9a5a4c"/>
<circle cx="531.5" cy="37.6" r="1.3" fill="#9a5a4c"/>
<circle cx="531.0" cy="51.7" r="1.3" fill="#9a5a4c"/>
<circle cx="537.5" cy="58.2" r="1.3" fill="#9a5a4c"/>
<circle cx="537.4" cy="32.2" r="1.3" fill="#9a5a4c"/>
<circle cx="527.6" cy="55.2" r="1.3" fill="#9a5a4c"/>
<circle cx="545.4" cy="40.6" r="1.3" fill="#9a5a4c"/>
<circle cx="532.3" cy="54.3" r="1.3" fill="#9a5a4c"/>
<circle cx="522.9" cy="51.7" r="1.3" fill="#9a5a4c"/>
<circle cx="542.1" cy="51.7" r="1.3" fill="#9a5a4c"/>
<circle cx="534.6" cy="53.1" r="1.3" fill="#9a5a4c"/>
<circle cx="516.9" cy="57.0" r="1.3" fill="#9a5a4c"/>
<circle cx="531.8" cy="38.1" r="1.3" fill="#9a5a4c"/>
<circle cx="537.2" cy="49.5" r="1.3" fill="#9a5a4c"/>
<circle cx="529.0" cy="49.5" r="1.3" fill="#9a5a4c"/>
<circle cx="525.9" cy="43.0" r="1.3" fill="#9a5a4c"/>
<circle cx="525.1" cy="46.9" r="1.3" fill="#9a5a4c"/>
<circle cx="524.1" cy="49.2" r="1.3" fill="#9a5a4c"/>
<circle cx="539.5" cy="36.9" r="1.3" fill="#9a5a4c"/>
<circle cx="546.8" cy="53.9" r="1.3" fill="#9a5a4c"/>
<circle cx="528.4" cy="51.6" r="1.3" fill="#9a5a4c"/>
<circle cx="527.7" cy="46.2" r="1.3" fill="#9a5a4c"/>
<circle cx="525.0" cy="49.3" r="1.3" fill="#9a5a4c"/>
<circle cx="532.9" cy="37.9" r="1.3" fill="#9a5a4c"/>
<circle cx="543.3" cy="45.9" r="1.3" fill="#9a5a4c"/>
<circle cx="551.0" cy="55.5" r="1.3" fill="#9a5a4c"/>
<circle cx="530.9" cy="35.4" r="1.3" fill="#9a5a4c"/>
<circle cx="533.8" cy="46.9" r="1.3" fill="#9a5a4c"/>
<circle cx="551.6" cy="54.2" r="1.3" fill="#9a5a4c"/>
<circle cx="542.7" cy="49.9" r="1.3" fill="#9a5a4c"/>
<circle cx="533.5" cy="54.7" r="1.3" fill="#9a5a4c"/>
<circle cx="546.2" cy="41.0" r="1.3" fill="#9a5a4c"/>
<circle cx="544.6" cy="50.7" r="1.3" fill="#9a5a4c"/>
<circle cx="546.6" cy="53.0" r="1.3" fill="#9a5a4c"/>
<circle cx="525.9" cy="46.2" r="1.3" fill="#9a5a4c"/>
<circle cx="526.5" cy="39.6" r="1.3" fill="#9a5a4c"/>
<circle cx="526.9" cy="38.6" r="1.3" fill="#9a5a4c"/>
<circle cx="539.9" cy="35.0" r="1.3" fill="#9a5a4c"/>
<circle cx="527.2" cy="51.4" r="1.3" fill="#9a5a4c"/>
<circle cx="548.6" cy="48.5" r="1.3" fill="#9a5a4c"/>
<circle cx="540.3" cy="39.3" r="1.3" fill="#9a5a4c"/>
<circle cx="544.7" cy="42.5" r="1.3" fill="#9a5a4c"/>
<circle cx="537.9" cy="43.3" r="1.3" fill="#9a5a4c"/>
<circle cx="522.8" cy="46.1" r="1.3" fill="#9a5a4c"/>
<circle cx="541.8" cy="49.8" r="1.3" fill="#9a5a4c"/>
<circle cx="519.9" cy="50.7" r="1.3" fill="#9a5a4c"/>
<circle cx="542.8" cy="44.9" r="1.3" fill="#9a5a4c"/>
<circle cx="545.2" cy="44.2" r="1.3" fill="#9a5a4c"/>
<circle cx="528.5" cy="56.0" r="1.3" fill="#9a5a4c"/>
<circle cx="528.7" cy="56.3" r="1.3" fill="#9a5a4c"/>
<circle cx="531.6" cy="57.7" r="1.3" fill="#9a5a4c"/>
<circle cx="545.8" cy="55.7" r="1.3" fill="#9a5a4c"/>
<circle cx="537.5" cy="40.1" r="1.3" fill="#9a5a4c"/>
<circle cx="537.8" cy="54.8" r="1.3" fill="#9a5a4c"/>
<circle cx="528.2" cy="53.8" r="1.3" fill="#9a5a4c"/>
<circle cx="546.0" cy="55.6" r="1.3" fill="#9a5a4c"/>
<circle cx="534.9" cy="51.9" r="1.3" fill="#9a5a4c"/>
<circle cx="537.7" cy="28.2" r="1.3" fill="#9a5a4c"/>
<circle cx="528.9" cy="57.7" r="1.3" fill="#9a5a4c"/>
<circle cx="532.7" cy="36.9" r="1.3" fill="#9a5a4c"/>
<circle cx="538.2" cy="31.9" r="1.3" fill="#9a5a4c"/>
<circle cx="536.0" cy="42.6" r="1.3" fill="#9a5a4c"/>
<circle cx="534.6" cy="47.7" r="1.3" fill="#9a5a4c"/>
<circle cx="543.2" cy="51.5" r="1.3" fill="#9a5a4c"/>
<circle cx="544.7" cy="39.3" r="1.3" fill="#9a5a4c"/>
<circle cx="527.8" cy="49.0" r="1.3" fill="#9a5a4c"/>
<circle cx="547.8" cy="54.4" r="1.3" fill="#9a5a4c"/>
<circle cx="529.1" cy="46.2" r="1.3" fill="#9a5a4c"/>
<circle cx="532.2" cy="29.5" r="1.3" fill="#9a5a4c"/>
<circle cx="537.5" cy="54.8" r="1.3" fill="#9a5a4c"/>
<circle cx="528.8" cy="36.8" r="1.3" fill="#9a5a4c"/>
<circle cx="535.1" cy="29.2" r="1.3" fill="#9a5a4c"/>
<circle cx="524.7" cy="58.2" r="1.3" fill="#9a5a4c"/>
<circle cx="538.9" cy="29.0" r="1.3" fill="#9a5a4c"/>
<circle cx="524.8" cy="49.9" r="1.3" fill="#9a5a4c"/>
<circle cx="533.9" cy="38.0" r="1.3" fill="#9a5a4c"/>
<circle cx="539.7" cy="40.5" r="1.3" fill="#9a5a4c"/>
<circle cx="521.4" cy="47.9" r="1.3" fill="#9a5a4c"/>
<circle cx="540.8" cy="33.3" r="1.3" fill="#9a5a4c"/>
<circle cx="544.4" cy="57.7" r="1.3" fill="#9a5a4c"/>
<circle cx="525.1" cy="50.8" r="1.3" fill="#9a5a4c"/>
<circle cx="556.2" cy="57.3" r="1.3" fill="#9a5a4c"/>
<circle cx="530.2" cy="43.0" r="1.3" fill="#9a5a4c"/>
<circle cx="537.6" cy="47.5" r="1.3" fill="#9a5a4c"/>
<circle cx="520.9" cy="50.3" r="1.3" fill="#9a5a4c"/>
<circle cx="549.4" cy="56.9" r="1.3" fill="#9a5a4c"/>
<circle cx="534.4" cy="33.9" r="1.3" fill="#9a5a4c"/>
<circle cx="550.0" cy="54.9" r="1.3" fill="#9a5a4c"/>
<circle cx="543.8" cy="47.1" r="1.3" fill="#9a5a4c"/>
<circle cx="539.8" cy="49.7" r="1.3" fill="#9a5a4c"/>
<circle cx="519.0" cy="55.7" r="1.3" fill="#9a5a4c"/>
<circle cx="529.9" cy="56.0" r="1.3" fill="#9a5a4c"/>
<circle cx="536.7" cy="28.8" r="1.3" fill="#9a5a4c"/>
<circle cx="523.9" cy="54.9" r="1.3" fill="#9a5a4c"/>
<circle cx="528.0" cy="39.8" r="1.3" fill="#9a5a4c"/>
<circle cx="525.2" cy="55.3" r="1.3" fill="#9a5a4c"/>
<circle cx="542.3" cy="46.3" r="1.3" fill="#9a5a4c"/>
<circle cx="538.7" cy="39.8" r="1.3" fill="#9a5a4c"/>
<circle cx="551.1" cy="48.8" r="1.3" fill="#9a5a4c"/>
<circle cx="547.0" cy="41.7" r="1.3" fill="#9a5a4c"/>
<circle cx="543.2" cy="37.3" r="1.3" fill="#9a5a4c"/>
<circle cx="527.1" cy="39.8" r="1.3" fill="#9a5a4c"/>
<circle cx="546.2" cy="45.5" r="1.3" fill="#9a5a4c"/>
<circle cx="532.8" cy="29.8" r="1.3" fill="#9a5a4c"/>
<circle cx="543.0" cy="44.7" r="1.3" fill="#9a5a4c"/>
<circle cx="544.2" cy="42.4" r="1.3" fill="#9a5a4c"/>
<circle cx="539.2" cy="27.8" r="1.3" fill="#9a5a4c"/>
<circle cx="538.0" cy="34.6" r="1.3" fill="#9a5a4c"/>
<circle cx="537.2" cy="26.3" r="1.3" fill="#9a5a4c"/>
<circle cx="531.3" cy="41.2" r="1.3" fill="#9a5a4c"/>
<circle cx="537.0" cy="41.4" r="1.3" fill="#9a5a4c"/>
<circle cx="540.6" cy="31.7" r="1.3" fill="#9a5a4c"/>
<circle cx="536.6" cy="36.3" r="1.3" fill="#9a5a4c"/>
<circle cx="537.1" cy="26.0" r="1.3" fill="#9a5a4c"/>
<circle cx="535.6" cy="31.8" r="1.3" fill="#9a5a4c"/>
<circle cx="536.2" cy="24.1" r="1.3" fill="#9a5a4c"/>
<circle cx="535.5" cy="33.6" r="1.3" fill="#9a5a4c"/>
<circle cx="536.8" cy="34.4" r="1.3" fill="#9a5a4c"/>
<circle cx="541.9" cy="38.9" r="1.3" fill="#9a5a4c"/>
<circle cx="537.4" cy="25.6" r="1.3" fill="#9a5a4c"/>
<circle cx="535.0" cy="37.8" r="1.3" fill="#9a5a4c"/>
<circle cx="535.4" cy="29.7" r="1.3" fill="#9a5a4c"/>
<circle cx="532.6" cy="27.9" r="1.3" fill="#9a5a4c"/>
<circle cx="540.7" cy="32.5" r="1.3" fill="#9a5a4c"/>
<circle cx="536.1" cy="23.6" r="1.3" fill="#9a5a4c"/>
<circle cx="529.9" cy="40.1" r="1.3" fill="#9a5a4c"/>
<circle cx="530.0" cy="40.9" r="1.3" fill="#9a5a4c"/>
<circle cx="537.9" cy="37.9" r="1.3" fill="#9a5a4c"/>
<circle cx="536.7" cy="38.6" r="1.3" fill="#9a5a4c"/>
<circle cx="539.2" cy="30.9" r="1.3" fill="#9a5a4c"/>
<circle cx="538.0" cy="38.9" r="1.3" fill="#9a5a4c"/>
<circle cx="541.6" cy="34.4" r="1.3" fill="#9a5a4c"/>
<circle cx="536.0" cy="33.8" r="1.3" fill="#9a5a4c"/>
<circle cx="538.0" cy="31.8" r="1.3" fill="#9a5a4c"/>
<circle cx="537.4" cy="25.6" r="1.3" fill="#9a5a4c"/>
<circle cx="540.0" cy="32.0" r="1.3" fill="#9a5a4c"/>
<circle cx="528.9" cy="36.2" r="1.3" fill="#9a5a4c"/>
<circle cx="536.3" cy="35.2" r="1.3" fill="#9a5a4c"/>
<circle cx="539.3" cy="37.8" r="1.3" fill="#9a5a4c"/>
<circle cx="537.7" cy="28.9" r="1.3" fill="#9a5a4c"/>
<circle cx="534.8" cy="31.6" r="1.3" fill="#9a5a4c"/>
<circle cx="543.5" cy="35.7" r="1.3" fill="#9a5a4c"/>
<circle cx="532.8" cy="33.1" r="1.3" fill="#9a5a4c"/>
<circle cx="536.1" cy="39.7" r="1.3" fill="#9a5a4c"/>
<circle cx="542.7" cy="41.5" r="1.3" fill="#9a5a4c"/>
<circle cx="530.7" cy="31.5" r="1.3" fill="#9a5a4c"/>
<circle cx="533.3" cy="37.8" r="1.3" fill="#9a5a4c"/>
<circle cx="535.5" cy="26.7" r="1.3" fill="#9a5a4c"/>
<circle cx="535.8" cy="24.7" r="1.3" fill="#9a5a4c"/>
<circle cx="529.6" cy="38.1" r="1.3" fill="#9a5a4c"/>
<circle cx="534.9" cy="29.1" r="1.3" fill="#9a5a4c"/>
<circle cx="503.1" cy="102.7" r="1.3" fill="#d93d2f"/>
<circle cx="522.0" cy="76.0" r="1.3" fill="#d93d2f"/>
<circle cx="516.5" cy="98.7" r="1.3" fill="#d93d2f"/>
<circle cx="510.2" cy="84.7" r="1.3" fill="#d93d2f"/>
<circle cx="507.3" cy="82.4" r="1.3" fill="#d93d2f"/>
<circle cx="516.2" cy="77.9" r="1.3" fill="#d93d2f"/>
<circle cx="509.1" cy="96.4" r="1.3" fill="#d93d2f"/>
<circle cx="515.7" cy="114.3" r="1.3" fill="#d93d2f"/>
<circle cx="506.9" cy="90.3" r="1.3" fill="#d93d2f"/>
<circle cx="520.3" cy="60.1" r="1.3" fill="#d93d2f"/>
<circle cx="523.0" cy="84.4" r="1.3" fill="#d93d2f"/>
<circle cx="498.2" cy="100.4" r="1.3" fill="#d93d2f"/>
<circle cx="508.6" cy="114.2" r="1.3" fill="#d93d2f"/>
<circle cx="506.6" cy="96.7" r="1.3" fill="#d93d2f"/>
<circle cx="507.2" cy="87.1" r="1.3" fill="#d93d2f"/>
<circle cx="500.3" cy="109.3" r="1.3" fill="#d93d2f"/>
<circle cx="509.0" cy="94.3" r="1.3" fill="#d93d2f"/>
<circle cx="503.6" cy="85.7" r="1.3" fill="#d93d2f"/>
<circle cx="519.6" cy="67.9" r="1.3" fill="#d93d2f"/>
<circle cx="502.5" cy="103.3" r="1.3" fill="#d93d2f"/>
<circle cx="518.9" cy="88.5" r="1.3" fill="#d93d2f"/>
<circle cx="513.6" cy="83.5" r="1.3" fill="#d93d2f"/>
<circle cx="518.2" cy="100.3" r="1.3" fill="#d93d2f"/>
<circle cx="529.7" cy="61.5" r="1.3" fill="#d93d2f"/>
<circle cx="520.6" cy="79.4" r="1.3" fill="#d93d2f"/>
<circle cx="511.1" cy="75.7" r="1.3" fill="#d93d2f"/>
<circle cx="507.3" cy="117.8" r="1.3" fill="#d93d2f"/>
<circle cx="531.3" cy="62.9" r="1.3" fill="#d93d2f"/>
<circle cx="505.1" cy="99.7" r="1.3" fill="#d93d2f"/>
<circle cx="513.2" cy="78.8" r="1.3" fill="#d93d2f"/>
<circle cx="503.1" cy="99.4" r="1.3" fill="#d93d2f"/>
<circle cx="506.3" cy="99.8" r="1.3" fill="#d93d2f"/>
<circle cx="518.5" cy="99.5" r="1.3" fill="#d93d2f"/>
<circle cx="510.5" cy="86.5" r="1.3" fill="#d93d2f"/>
<circle cx="507.6" cy="83.7" r="1.3" fill="#d93d2f"/>
<circle cx="530.4" cy="69.4" r="1.3" fill="#d93d2f"/>
<circle cx="505.4" cy="82.8" r="1.3" fill="#d93d2f"/>
<circle cx="499.6" cy="101.5" r="1.3" fill="#d93d2f"/>
<circle cx="504.3" cy="97.8" r="1.3" fill="#d93d2f"/>
<circle cx="525.6" cy="61.8" r="1.3" fill="#d93d2f"/>
<circle cx="496.4" cy="100.6" r="1.3" fill="#d93d2f"/>
<circle cx="527.5" cy="79.1" r="1.3" fill="#d93d2f"/>
<circle cx="493.6" cy="106.8" r="1.3" fill="#d93d2f"/>
<circle cx="514.0" cy="65.8" r="1.3" fill="#d93d2f"/>
<circle cx="528.2" cy="66.1" r="1.3" fill="#d93d2f"/>
<circle cx="516.2" cy="112.1" r="1.3" fill="#d93d2f"/>
<circle cx="517.2" cy="93.8" r="1.3" fill="#d93d2f"/>
<circle cx="530.5" cy="71.3" r="1.3" fill="#d93d2f"/>
<circle cx="522.0" cy="86.2" r="1.3" fill="#d93d2f"/>
<circle cx="522.0" cy="98.1" r="1.3" fill="#d93d2f"/>
<circle cx="518.0" cy="73.8" r="1.3" fill="#d93d2f"/>
<circle cx="523.3" cy="81.6" r="1.3" fill="#d93d2f"/>
<circle cx="507.1" cy="93.4" r="1.3" fill="#d93d2f"/>
<circle cx="508.6" cy="92.0" r="1.3" fill="#d93d2f"/>
<circle cx="512.3" cy="87.2" r="1.3" fill="#d93d2f"/>
<circle cx="531.7" cy="70.1" r="1.3" fill="#d93d2f"/>
<circle cx="499.8" cy="105.8" r="1.3" fill="#d93d2f"/>
<circle cx="516.8" cy="84.5" r="1.3" fill="#d93d2f"/>
<circle cx="490.0" cy="109.5" r="1.3" fill="#d93d2f"/>
<circle cx="507.5" cy="92.8" r="1.3" fill="#d93d2f"/>
<circle cx="525.6" cy="85.6" r="1.3" fill="#d93d2f"/>
<circle cx="517.2" cy="81.7" r="1.3" fill="#d93d2f"/>
<circle cx="501.8" cy="86.7" r="1.3" fill="#d93d2f"/>
<circle cx="522.1" cy="66.4" r="1.3" fill="#d93d2f"/>
<circle cx="522.8" cy="80.5" r="1.3" fill="#d93d2f"/>
<circle cx="517.0" cy="103.9" r="1.3" fill="#d93d2f"/>
<circle cx="514.9" cy="105.7" r="1.3" fill="#d93d2f"/>
<circle cx="504.5" cy="93.5" r="1.3" fill="#d93d2f"/>
<circle cx="517.1" cy="63.1" r="1.3" fill="#d93d2f"/>
<circle cx="505.2" cy="103.6" r="1.3" fill="#d93d2f"/>
<circle cx="511.6" cy="117.9" r="1.3" fill="#d93d2f"/>
<circle cx="528.4" cy="71.6" r="1.3" fill="#d93d2f"/>
<circle cx="509.4" cy="81.2" r="1.3" fill="#d93d2f"/>
<circle cx="516.8" cy="88.9" r="1.3" fill="#d93d2f"/>
<circle cx="511.4" cy="83.7" r="1.3" fill="#d93d2f"/>
<circle cx="523.3" cy="79.7" r="1.3" fill="#d93d2f"/>
<circle cx="525.2" cy="60.7" r="1.3" fill="#d93d2f"/>
<circle cx="508.0" cy="122.1" r="1.3" fill="#d93d2f"/>
<circle cx="504.6" cy="105.0" r="1.3" fill="#d93d2f"/>
<circle cx="513.5" cy="114.8" r="1.3" fill="#d93d2f"/>
<circle cx="517.7" cy="110.0" r="1.3" fill="#d93d2f"/>
<circle cx="519.9" cy="72.3" r="1.3" fill="#d93d2f"/>
<circle cx="508.6" cy="117.6" r="1.3" fill="#d93d2f"/>
<circle cx="515.3" cy="102.6" r="1.3" fill="#d93d2f"/>
<circle cx="524.1" cy="81.3" r="1.3" fill="#d93d2f"/>
<circle cx="506.3" cy="108.3" r="1.3" fill="#d93d2f"/>
<circle cx="513.0" cy="69.0" r="1.3" fill="#d93d2f"/>
<circle cx="496.3" cy="108.2" r="1.3" fill="#d93d2f"/>
<circle cx="525.0" cy="91.8" r="1.3" fill="#d93d2f"/>
<circle cx="497.1" cy="106.4" r="1.3" fill="#d93d2f"/>
<circle cx="500.9" cy="104.0" r="1.3" fill="#d93d2f"/>
<circle cx="516.2" cy="103.2" r="1.3" fill="#d93d2f"/>
<circle cx="498.1" cy="104.8" r="1.3" fill="#d93d2f"/>
<circle cx="509.3" cy="82.5" r="1.3" fill="#d93d2f"/>
<circle cx="517.2" cy="78.8" r="1.3" fill="#d93d2f"/>
<circle cx="521.0" cy="60.1" r="1.3" fill="#d93d2f"/>
<circle cx="528.5" cy="79.8" r="1.3" fill="#d93d2f"/>
<circle cx="508.4" cy="77.9" r="1.3" fill="#d93d2f"/>
<circle cx="520.3" cy="96.0" r="1.3" fill="#d93d2f"/>
<circle cx="509.5" cy="77.1" r="1.3" fill="#d93d2f"/>
<circle cx="547.3" cy="65.0" r="1.3" fill="#3a86c8"/>
<circle cx="558.2" cy="114.8" r="1.3" fill="#3a86c8"/>
<circle cx="544.5" cy="74.5" r="1.3" fill="#3a86c8"/>
<circle cx="566.3" cy="75.0" r="1.3" fill="#3a86c8"/>
<circle cx="572.7" cy="86.2" r="1.3" fill="#3a86c8"/>
<circle cx="548.9" cy="59.2" r="1.3" fill="#3a86c8"/>
<circle cx="565.9" cy="88.2" r="1.3" fill="#3a86c8"/>
<circle cx="566.0" cy="108.4" r="1.3" fill="#3a86c8"/>
<circle cx="556.5" cy="67.5" r="1.3" fill="#3a86c8"/>
<circle cx="551.6" cy="87.7" r="1.3" fill="#3a86c8"/>
<circle cx="558.9" cy="72.4" r="1.3" fill="#3a86c8"/>
<circle cx="582.9" cy="121.0" r="1.3" fill="#3a86c8"/>
<circle cx="569.1" cy="112.6" r="1.3" fill="#3a86c8"/>
<circle cx="558.0" cy="75.3" r="1.3" fill="#3a86c8"/>
<circle cx="584.4" cy="114.9" r="1.3" fill="#3a86c8"/>
<circle cx="569.0" cy="100.1" r="1.3" fill="#3a86c8"/>
<circle cx="571.6" cy="93.4" r="1.3" fill="#3a86c8"/>
<circle cx="574.8" cy="120.4" r="1.3" fill="#3a86c8"/>
<circle cx="576.5" cy="121.6" r="1.3" fill="#3a86c8"/>
<circle cx="567.0" cy="84.2" r="1.3" fill="#3a86c8"/>
<circle cx="562.2" cy="70.3" r="1.3" fill="#3a86c8"/>
<circle cx="573.4" cy="100.4" r="1.3" fill="#3a86c8"/>
<circle cx="539.2" cy="68.0" r="1.3" fill="#3a86c8"/>
<circle cx="559.3" cy="108.4" r="1.3" fill="#3a86c8"/>
<circle cx="580.9" cy="118.2" r="1.3" fill="#3a86c8"/>
<circle cx="554.2" cy="84.6" r="1.3" fill="#3a86c8"/>
<circle cx="562.5" cy="118.2" r="1.3" fill="#3a86c8"/>
<circle cx="558.8" cy="84.2" r="1.3" fill="#3a86c8"/>
<circle cx="561.9" cy="81.5" r="1.3" fill="#3a86c8"/>
<circle cx="561.8" cy="94.1" r="1.3" fill="#3a86c8"/>
<circle cx="547.2" cy="66.6" r="1.3" fill="#3a86c8"/>
<circle cx="541.0" cy="64.2" r="1.3" fill="#3a86c8"/>
<circle cx="557.6" cy="83.6" r="1.3" fill="#3a86c8"/>
<circle cx="570.5" cy="95.0" r="1.3" fill="#3a86c8"/>
<circle cx="562.1" cy="82.7" r="1.3" fill="#3a86c8"/>
<circle cx="545.3" cy="83.7" r="1.3" fill="#3a86c8"/>
<circle cx="586.1" cy="114.8" r="1.3" fill="#3a86c8"/>
<circle cx="543.8" cy="78.0" r="1.3" fill="#3a86c8"/>
<circle cx="555.0" cy="81.7" r="1.3" fill="#3a86c8"/>
<circle cx="558.0" cy="108.3" r="1.3" fill="#3a86c8"/>
<circle cx="573.5" cy="95.0" r="1.3" fill="#3a86c8"/>
<circle cx="569.5" cy="94.3" r="1.3" fill="#3a86c8"/>
<circle cx="571.3" cy="89.3" r="1.3" fill="#3a86c8"/>
<circle cx="587.1" cy="111.4" r="1.3" fill="#3a86c8"/>
<circle cx="559.4" cy="106.7" r="1.3" fill="#3a86c8"/>
<circle cx="563.8" cy="113.2" r="1.3" fill="#3a86c8"/>
<circle cx="569.9" cy="104.2" r="1.3" fill="#3a86c8"/>
<circle cx="555.2" cy="76.7" r="1.3" fill="#3a86c8"/>
<circle cx="585.9" cy="119.8" r="1.3" fill="#3a86c8"/>
<circle cx="551.1" cy="100.8" r="1.3" fill="#3a86c8"/>
<circle cx="563.3" cy="72.5" r="1.3" fill="#3a86c8"/>
<circle cx="561.4" cy="97.7" r="1.3" fill="#3a86c8"/>
<circle cx="561.0" cy="109.3" r="1.3" fill="#3a86c8"/>
<circle cx="566.2" cy="85.2" r="1.3" fill="#3a86c8"/>
<circle cx="546.8" cy="61.1" r="1.3" fill="#3a86c8"/>
<circle cx="559.6" cy="121.0" r="1.3" fill="#3a86c8"/>
<circle cx="562.9" cy="89.1" r="1.3" fill="#3a86c8"/>
<circle cx="563.1" cy="104.1" r="1.3" fill="#3a86c8"/>
<circle cx="552.6" cy="102.4" r="1.3" fill="#3a86c8"/>
<circle cx="549.6" cy="71.4" r="1.3" fill="#3a86c8"/>
<circle cx="555.5" cy="112.5" r="1.3" fill="#3a86c8"/>
<circle cx="544.2" cy="62.0" r="1.3" fill="#3a86c8"/>
<circle cx="545.0" cy="85.2" r="1.3" fill="#3a86c8"/>
<circle cx="552.2" cy="80.1" r="1.3" fill="#3a86c8"/>
<circle cx="570.5" cy="100.2" r="1.3" fill="#3a86c8"/>
<circle cx="574.6" cy="90.0" r="1.3" fill="#3a86c8"/>
<circle cx="555.6" cy="108.7" r="1.3" fill="#3a86c8"/>
<circle cx="583.8" cy="117.0" r="1.3" fill="#3a86c8"/>
<circle cx="552.5" cy="62.4" r="1.3" fill="#3a86c8"/>
<circle cx="585.5" cy="120.5" r="1.3" fill="#3a86c8"/>
<circle cx="552.4" cy="72.7" r="1.3" fill="#3a86c8"/>
<circle cx="573.9" cy="88.3" r="1.3" fill="#3a86c8"/>
<circle cx="565.6" cy="95.4" r="1.3" fill="#3a86c8"/>
<circle cx="565.8" cy="100.0" r="1.3" fill="#3a86c8"/>
<circle cx="573.2" cy="118.0" r="1.3" fill="#3a86c8"/>
<circle cx="566.4" cy="93.2" r="1.3" fill="#3a86c8"/>
<circle cx="574.6" cy="90.8" r="1.3" fill="#3a86c8"/>
<circle cx="563.8" cy="99.5" r="1.3" fill="#3a86c8"/>
<circle cx="546.0" cy="61.2" r="1.3" fill="#3a86c8"/>
<circle cx="543.9" cy="61.5" r="1.3" fill="#3a86c8"/>
<circle cx="555.0" cy="94.4" r="1.3" fill="#3a86c8"/>
<circle cx="559.1" cy="117.0" r="1.3" fill="#3a86c8"/>
<circle cx="564.9" cy="75.8" r="1.3" fill="#3a86c8"/>
<circle cx="539.3" cy="68.6" r="1.3" fill="#3a86c8"/>
<circle cx="576.0" cy="104.8" r="1.3" fill="#3a86c8"/>
<circle cx="554.0" cy="76.0" r="1.3" fill="#3a86c8"/>
<circle cx="587.1" cy="117.3" r="1.3" fill="#3a86c8"/>
<circle cx="558.6" cy="118.4" r="1.3" fill="#3a86c8"/>
<circle cx="573.4" cy="113.6" r="1.3" fill="#3a86c8"/>
<circle cx="577.8" cy="110.4" r="1.3" fill="#3a86c8"/>
<circle cx="562.3" cy="77.2" r="1.3" fill="#3a86c8"/>
<circle cx="588.9" cy="121.1" r="1.3" fill="#3a86c8"/>
<circle cx="557.0" cy="89.8" r="1.3" fill="#3a86c8"/>
<circle cx="558.0" cy="66.9" r="1.3" fill="#3a86c8"/>
<circle cx="560.3" cy="116.9" r="1.3" fill="#3a86c8"/>
<circle cx="552.7" cy="72.5" r="1.3" fill="#3a86c8"/>
<circle cx="551.4" cy="104.0" r="1.3" fill="#3a86c8"/>
<circle cx="558.3" cy="80.8" r="1.3" fill="#3a86c8"/>
<circle cx="552.0" cy="96.9" r="1.3" fill="#3a86c8"/>
<circle cx="573.0" cy="117.6" r="1.3" fill="#3a86c8"/>
<circle cx="555.2" cy="68.1" r="1.3" fill="#3a86c8"/>
<circle cx="552.9" cy="76.6" r="1.3" fill="#3a86c8"/>
<circle cx="555.6" cy="87.3" r="1.3" fill="#3a86c8"/>
<circle cx="563.5" cy="117.8" r="1.3" fill="#3a86c8"/>
<circle cx="551.3" cy="72.3" r="1.3" fill="#3a86c8"/>
<circle cx="550.1" cy="80.3" r="1.3" fill="#3a86c8"/>
<circle cx="568.0" cy="85.8" r="1.3" fill="#3a86c8"/>
<circle cx="547.1" cy="62.6" r="1.3" fill="#3a86c8"/>
<circle cx="559.7" cy="70.9" r="1.3" fill="#3a86c8"/>
<circle cx="564.4" cy="83.7" r="1.3" fill="#3a86c8"/>
<circle cx="567.1" cy="111.7" r="1.3" fill="#3a86c8"/>
<circle cx="559.2" cy="70.8" r="1.3" fill="#3a86c8"/>
<circle cx="557.0" cy="90.6" r="1.3" fill="#3a86c8"/>
<circle cx="581.1" cy="122.1" r="1.3" fill="#3a86c8"/>
<circle cx="560.9" cy="121.1" r="1.3" fill="#3a86c8"/>
<circle cx="563.2" cy="138.5" r="1.3" fill="#f39128"/>
<circle cx="539.8" cy="141.6" r="1.3" fill="#f39128"/>
<circle cx="557.8" cy="143.9" r="1.3" fill="#f39128"/>
<circle cx="567.0" cy="139.6" r="1.3" fill="#f39128"/>
<circle cx="560.6" cy="142.2" r="1.3" fill="#f39128"/>
<circle cx="559.4" cy="128.6" r="1.3" fill="#f39128"/>
<circle cx="560.1" cy="126.2" r="1.3" fill="#f39128"/>
<circle cx="548.5" cy="126.0" r="1.3" fill="#f39128"/>
<circle cx="532.6" cy="122.7" r="1.3" fill="#f39128"/>
<circle cx="541.3" cy="131.6" r="1.3" fill="#f39128"/>
<circle cx="555.0" cy="140.2" r="1.3" fill="#f39128"/>
<circle cx="554.1" cy="125.9" r="1.3" fill="#f39128"/>
<circle cx="523.0" cy="131.4" r="1.3" fill="#f39128"/>
<circle cx="561.1" cy="142.4" r="1.3" fill="#f39128"/>
<circle cx="558.2" cy="131.1" r="1.3" fill="#f39128"/>
<circle cx="561.6" cy="139.0" r="1.3" fill="#f39128"/>
<circle cx="563.1" cy="123.5" r="1.3" fill="#f39128"/>
<circle cx="550.8" cy="140.8" r="1.3" fill="#f39128"/>
<circle cx="526.4" cy="124.6" r="1.3" fill="#f39128"/>
<circle cx="514.3" cy="137.4" r="1.3" fill="#f39128"/>
<circle cx="572.1" cy="140.1" r="1.3" fill="#f39128"/>
<circle cx="538.5" cy="144.4" r="1.3" fill="#f39128"/>
<circle cx="521.1" cy="143.8" r="1.3" fill="#f39128"/>
<circle cx="559.9" cy="128.7" r="1.3" fill="#f39128"/>
<circle cx="570.1" cy="144.6" r="1.3" fill="#f39128"/>
<circle cx="549.9" cy="142.2" r="1.3" fill="#f39128"/>
<circle cx="575.2" cy="133.5" r="1.3" fill="#f39128"/>
<circle cx="558.9" cy="122.8" r="1.3" fill="#f39128"/>
<circle cx="549.1" cy="133.5" r="1.3" fill="#f39128"/>
<circle cx="580.3" cy="122.6" r="1.3" fill="#f39128"/>
<circle cx="551.0" cy="135.2" r="1.3" fill="#f39128"/>
<circle cx="542.3" cy="144.4" r="1.3" fill="#f39128"/>
<circle cx="518.1" cy="139.1" r="1.3" fill="#f39128"/>
<circle cx="524.2" cy="133.9" r="1.3" fill="#f39128"/>
<circle cx="529.3" cy="136.9" r="1.3" fill="#f39128"/>
<circle cx="536.9" cy="140.2" r="1.3" fill="#f39128"/>
<circle cx="574.4" cy="132.4" r="1.3" fill="#f39128"/>
<circle cx="573.7" cy="133.8" r="1.3" fill="#f39128"/>
<circle cx="562.6" cy="127.5" r="1.3" fill="#f39128"/>
<circle cx="539.4" cy="136.7" r="1.3" fill="#f39128"/>
<circle cx="568.5" cy="142.9" r="1.3" fill="#f39128"/>
<circle cx="567.6" cy="136.9" r="1.3" fill="#f39128"/>
<circle cx="550.7" cy="138.8" r="1.3" fill="#f39128"/>
<circle cx="519.6" cy="125.9" r="1.3" fill="#f39128"/>
<circle cx="558.2" cy="127.9" r="1.3" fill="#f39128"/>
<circle cx="571.6" cy="139.5" r="1.3" fill="#f39128"/>
<circle cx="514.6" cy="130.5" r="1.3" fill="#f39128"/>
<circle cx="559.9" cy="141.0" r="1.3" fill="#f39128"/>
<circle cx="544.0" cy="137.1" r="1.3" fill="#f39128"/>
<circle cx="570.7" cy="125.0" r="1.3" fill="#f39128"/>
<circle cx="555.1" cy="122.3" r="1.3" fill="#f39128"/>
<circle cx="520.5" cy="137.5" r="1.3" fill="#f39128"/>
<circle cx="549.0" cy="144.9" r="1.3" fill="#f39128"/>
<circle cx="525.4" cy="145.6" r="1.3" fill="#f39128"/>
<circle cx="559.6" cy="140.4" r="1.3" fill="#f39128"/>
<circle cx="538.8" cy="125.2" r="1.3" fill="#f39128"/>
<circle cx="520.3" cy="124.7" r="1.3" fill="#f39128"/>
<circle cx="503.2" cy="123.0" r="1.3" fill="#f39128"/>
<circle cx="553.0" cy="140.5" r="1.3" fill="#f39128"/>
<circle cx="530.6" cy="138.8" r="1.3" fill="#f39128"/>
<circle cx="518.5" cy="141.9" r="1.3" fill="#f39128"/>
<circle cx="566.1" cy="141.9" r="1.3" fill="#f39128"/>
<circle cx="517.5" cy="145.8" r="1.3" fill="#f39128"/>
<circle cx="528.9" cy="145.8" r="1.3" fill="#f39128"/>
<circle cx="536.0" cy="145.8" r="1.3" fill="#f39128"/>
<circle cx="538.8" cy="145.8" r="1.3" fill="#f39128"/>
<circle cx="544.5" cy="145.8" r="1.3" fill="#f39128"/>
<circle cx="550.1" cy="145.8" r="1.3" fill="#f39128"/>
<circle cx="554.4" cy="145.8" r="1.3" fill="#f39128"/>
<circle cx="558.7" cy="145.8" r="1.3" fill="#f39128"/>
<circle cx="564.3" cy="145.8" r="1.3" fill="#f39128"/>
<circle cx="575.9" cy="139.3" r="1.3" fill="#2e8b3d"/>
<circle cx="598.0" cy="137.3" r="1.3" fill="#2e8b3d"/>
<circle cx="590.0" cy="141.3" r="1.3" fill="#2e8b3d"/>
<circle cx="587.6" cy="143.5" r="1.3" fill="#2e8b3d"/>
<circle cx="586.2" cy="139.2" r="1.3" fill="#2e8b3d"/>
<circle cx="583.8" cy="134.3" r="1.3" fill="#2e8b3d"/>
<circle cx="587.3" cy="143.2" r="1.3" fill="#2e8b3d"/>
<circle cx="599.3" cy="140.4" r="1.3" fill="#2e8b3d"/>
<circle cx="586.4" cy="133.0" r="1.3" fill="#2e8b3d"/>
<circle cx="578.0" cy="145.1" r="1.3" fill="#2e8b3d"/>
<circle cx="582.7" cy="128.6" r="1.3" fill="#2e8b3d"/>
<circle cx="589.9" cy="134.2" r="1.3" fill="#2e8b3d"/>
<circle cx="595.2" cy="141.8" r="1.3" fill="#2e8b3d"/>
<circle cx="592.7" cy="128.0" r="1.3" fill="#2e8b3d"/>
<circle cx="596.1" cy="141.7" r="1.3" fill="#2e8b3d"/>
<circle cx="595.1" cy="145.8" r="1.3" fill="#2e8b3d"/>
<circle cx="597.0" cy="138.5" r="1.3" fill="#2e8b3d"/>
<circle cx="582.2" cy="125.5" r="1.3" fill="#2e8b3d"/>
<circle cx="571.4" cy="145.8" r="1.3" fill="#2e8b3d"/>
<circle cx="578.5" cy="145.8" r="1.3" fill="#2e8b3d"/>
<circle cx="584.2" cy="145.8" r="1.3" fill="#2e8b3d"/>
<circle cx="589.9" cy="145.8" r="1.3" fill="#2e8b3d"/>
<circle cx="597.0" cy="145.8" r="1.3" fill="#2e8b3d"/>
<circle cx="602.6" cy="145.8" r="1.3" fill="#2e8b3d"/>
<circle cx="475.9" cy="143.6" r="1.3" fill="#b56ce0"/>
<circle cx="495.5" cy="138.9" r="1.3" fill="#b56ce0"/>
<circle cx="478.3" cy="128.1" r="1.3" fill="#b56ce0"/>
<circle cx="494.7" cy="136.8" r="1.3" fill="#b56ce0"/>
<circle cx="473.3" cy="142.0" r="1.3" fill="#b56ce0"/>
<circle cx="480.4" cy="137.5" r="1.3" fill="#b56ce0"/>
<circle cx="495.2" cy="137.1" r="1.3" fill="#b56ce0"/>
<circle cx="493.4" cy="145.8" r="1.3" fill="#b56ce0"/>
<circle cx="465.0" cy="145.8" r="1.3" fill="#b56ce0"/>
<text x="536.80" y="16.70" font-size="11" text-anchor="middle" fill="#000" >Stem</text>
<text x="460.40" y="154.00" font-size="10.8" text-anchor="middle" fill="#000" >Root</text>
<text x="620.50" y="154.00" font-size="10.8" text-anchor="middle" fill="#000" >Leaf</text>
<text x="0.00" y="0.00" font-size="5.2" text-anchor="middle" fill="#333" transform="translate(517.3,45.8) rotate(60)">20</text><text x="599.22" y="122.84" font-size="5.2" text-anchor="middle" fill="#333" >20</text><text x="0.00" y="0.00" font-size="5.2" text-anchor="middle" fill="#333" transform="translate(489.4,150.8) rotate(60)">20</text><text x="0.00" y="0.00" font-size="5.2" text-anchor="middle" fill="#333" transform="translate(503.1,70.5) rotate(60)">40</text><text x="585.04" y="98.08" font-size="5.2" text-anchor="middle" fill="#333" >40</text><text x="0.00" y="0.00" font-size="5.2" text-anchor="middle" fill="#333" transform="translate(517.8,150.8) rotate(60)">40</text><text x="0.00" y="0.00" font-size="5.2" text-anchor="middle" fill="#333" transform="translate(488.9,95.3) rotate(60)">60</text><text x="570.86" y="73.32" font-size="5.2" text-anchor="middle" fill="#333" >60</text><text x="0.00" y="0.00" font-size="5.2" text-anchor="middle" fill="#333" transform="translate(546.1,150.8) rotate(60)">60</text><text x="0.00" y="0.00" font-size="5.2" text-anchor="middle" fill="#333" transform="translate(474.7,120.0) rotate(60)">80</text><text x="556.68" y="48.56" font-size="5.2" text-anchor="middle" fill="#333" >80</text><text x="0.00" y="0.00" font-size="5.2" text-anchor="middle" fill="#333" transform="translate(574.5,150.8) rotate(60)">80</text><text x="0.00" y="0.00" font-size="5.2" text-anchor="middle" fill="#333" transform="translate(460.5,144.8) rotate(60)">100</text><text x="542.50" y="23.80" font-size="5.2" text-anchor="middle" fill="#333" >100</text><text x="0.00" y="0.00" font-size="5.2" text-anchor="middle" fill="#333" transform="translate(602.9,150.8) rotate(60)">100</text>
<defs><marker id="ah" markerWidth="6" markerHeight="6" refX="5" refY="3" orient="auto" markerUnits="userSpaceOnUse"><path d="M0,0.5 L5,3 L0,5.5" fill="none" stroke="#444" stroke-width="0.6"/></marker></defs>
<line x1="500.80" y1="53.60" x2="472.60" y2="101.50" stroke="#444" stroke-width="0.6" marker-end="url(#ah)"/>
<line x1="599.20" y1="101.90" x2="571.80" y2="53.20" stroke="#444" stroke-width="0.6" marker-end="url(#ah)"/>
<line x1="508.00" y1="159.50" x2="564.50" y2="159.50" stroke="#555" stroke-width="0.6" />
<text x="0.00" y="0.00" font-size="7" text-anchor="middle" fill="#333" transform="translate(483.5,76) rotate(-60)">R</text>
<text x="0.00" y="0.00" font-size="7" text-anchor="middle" fill="#333" transform="translate(588.5,77) rotate(60)">S</text>
<text x="536.50" y="167.50" font-size="7" text-anchor="middle" fill="#333" >L</text>
<text x="606.70" y="20.20" font-size="8.1" text-anchor="start" fill="#000" >Expression category</text>
<circle cx="604.7" cy="29.0" r="1.25" fill="#c6c6c6"/>
<text x="610.60" y="30.90" font-size="8.3" text-anchor="start" fill="#000" >Balanced</text>
<circle cx="604.7" cy="39.1" r="1.25" fill="#2e8b3d"/>
<text x="610.60" y="41.03" font-size="8.3" text-anchor="start" fill="#000" >Leaf dominant</text>
<circle cx="604.7" cy="49.3" r="1.25" fill="#d93d2f"/>
<text x="610.60" y="51.16" font-size="8.3" text-anchor="start" fill="#000" >Leaf suppressed</text>
<circle cx="604.7" cy="59.4" r="1.25" fill="#9a5a4c"/>
<text x="610.60" y="61.29" font-size="8.3" text-anchor="start" fill="#000" >Root dominant</text>
<circle cx="604.7" cy="69.5" r="1.25" fill="#f39128"/>
<text x="610.60" y="71.42" font-size="8.3" text-anchor="start" fill="#000" >Root suppressed</text>
<circle cx="604.7" cy="79.7" r="1.25" fill="#b56ce0"/>
<text x="610.60" y="81.55" font-size="8.3" text-anchor="start" fill="#000" >Stem dominant</text>
<circle cx="604.7" cy="89.8" r="1.25" fill="#3a86c8"/>
<text x="610.60" y="91.68" font-size="8.3" text-anchor="start" fill="#000" >Stem suppressed</text>
<defs><clipPath id="dStem"><circle cx="95.5" cy="287.8" r="45.5"/></clipPath><clipPath id="dRoot"><rect x="95.5" y="215.1" width="62.5" height="125.3" rx="3"/></clipPath><clipPath id="dLeaf"><rect x="23.9" y="287.2" width="134.1" height="53.2" rx="3"/></clipPath></defs>
<rect x="95.5" y="215.1" width="62.5" height="125.3" rx="3" fill="#e8928b"/>
<circle cx="95.5" cy="287.8" r="45.5" fill="#a0a0d8"/>
<g clip-path="url(#dStem)"><rect x="95.5" y="215.1" width="62.5" height="125.3" fill="#b26076"/></g>
<rect x="23.9" y="287.2" width="134.1" height="53.2" rx="3" fill="#8dd591"/>
<g clip-path="url(#dLeaf)"><rect x="95.5" y="215.1" width="62.5" height="125.3" fill="#7ea35b"/><circle cx="95.5" cy="287.8" r="45.5" fill="#57a184"/></g>
<g clip-path="url(#dLeaf)"><g clip-path="url(#dStem)"><rect x="95.5" y="215.1" width="62.5" height="125.3" fill="#637c50"/></g></g>
<rect x="95.5" y="215.1" width="62.5" height="125.3" rx="3" fill="none" stroke="#d6453f" stroke-width="0.9"/>
<circle cx="95.5" cy="287.8" r="45.5" fill="none" stroke="#4f4fa8" stroke-width="0.7"/>
<rect x="23.9" y="287.2" width="134.1" height="53.2" rx="3" fill="none" stroke="#3ea846" stroke-width="0.9"/>
<text x="141.00" y="236.90" font-size="12.8" text-anchor="middle" fill="#000" >146</text>
<text x="76.50" y="271.40" font-size="12.8" text-anchor="middle" fill="#000" >9</text>
<text x="116.80" y="271.40" font-size="12.8" text-anchor="middle" fill="#000" >40</text>
<text x="76.50" y="308.50" font-size="12.8" text-anchor="middle" fill="#000" >3</text>
<text x="116.80" y="308.50" font-size="12.8" text-anchor="middle" fill="#000" >79</text>
<text x="40.00" y="329.50" font-size="12.8" text-anchor="middle" fill="#000" >9</text>
<text x="140.10" y="329.50" font-size="12.8" text-anchor="middle" fill="#000" >39</text>
<text x="130.20" y="213.50" font-size="12.5" text-anchor="middle" fill="#000" >Root</text>
<text x="54.90" y="250.50" font-size="12.5" text-anchor="middle" fill="#000" >Stem</text>
<text x="89.00" y="352.20" font-size="12.5" text-anchor="middle" fill="#000" >Leaf</text>
<rect x="245.00" y="307.24" width="11.20" height="32.26" fill="#3b6ea4" />
<rect x="245.00" y="264.87" width="11.20" height="42.37" fill="#e6772e" />
<rect x="245.00" y="263.63" width="11.20" height="1.24" fill="#3d9a35" />
<rect x="245.00" y="260.48" width="11.20" height="3.15" fill="#c0302b" />
<rect x="245.00" y="227.10" width="11.20" height="33.38" fill="#9b62c9" />
<rect x="261.10" y="312.07" width="11.50" height="27.43" fill="#3b6ea4" />
<rect x="261.10" y="259.92" width="11.50" height="52.15" fill="#e6772e" />
<rect x="261.10" y="257.00" width="11.50" height="2.92" fill="#3d9a35" />
<rect x="261.10" y="227.10" width="11.50" height="29.90" fill="#9b62c9" />
<rect x="278.00" y="272.51" width="11.20" height="66.99" fill="#3b6ea4" />
<rect x="278.00" y="249.92" width="11.20" height="22.59" fill="#e6772e" />
<rect x="278.00" y="227.10" width="11.20" height="22.82" fill="#9b62c9" />
<rect x="294.00" y="319.83" width="11.50" height="19.67" fill="#3b6ea4" />
<rect x="294.00" y="259.70" width="11.50" height="60.13" fill="#e6772e" />
<rect x="294.00" y="256.77" width="11.50" height="2.92" fill="#3d9a35" />
<rect x="294.00" y="255.65" width="11.50" height="1.12" fill="#c0302b" />
<rect x="294.00" y="227.10" width="11.50" height="28.55" fill="#9b62c9" />
<rect x="317.00" y="306.90" width="11.40" height="32.60" fill="#3b6ea4" />
<rect x="317.00" y="261.94" width="11.40" height="44.96" fill="#e6772e" />
<rect x="317.00" y="260.03" width="11.40" height="1.91" fill="#3d9a35" />
<rect x="317.00" y="257.79" width="11.40" height="2.25" fill="#c0302b" />
<rect x="317.00" y="227.10" width="11.40" height="30.69" fill="#9b62c9" />
<rect x="333.00" y="307.35" width="11.80" height="32.15" fill="#3b6ea4" />
<rect x="333.00" y="262.39" width="11.80" height="44.96" fill="#e6772e" />
<rect x="333.00" y="259.47" width="11.80" height="2.92" fill="#3d9a35" />
<rect x="333.00" y="227.10" width="11.80" height="32.37" fill="#9b62c9" />
<rect x="349.80" y="283.08" width="11.40" height="56.42" fill="#3b6ea4" />
<rect x="349.80" y="245.76" width="11.40" height="37.32" fill="#e6772e" />
<rect x="349.80" y="227.10" width="11.40" height="18.66" fill="#9b62c9" />
<rect x="366.10" y="321.29" width="11.50" height="18.21" fill="#3b6ea4" />
<rect x="366.10" y="266.78" width="11.50" height="54.51" fill="#e6772e" />
<rect x="366.10" y="265.88" width="11.50" height="0.90" fill="#3d9a35" />
<rect x="366.10" y="265.20" width="11.50" height="0.67" fill="#c0302b" />
<rect x="366.10" y="227.10" width="11.50" height="38.10" fill="#9b62c9" />
<line x1="240.10" y1="222.00" x2="240.10" y2="339.50" stroke="#9a9a9a" stroke-width="1.1" />
<line x1="240.10" y1="339.50" x2="380.20" y2="339.50" stroke="#333" stroke-width="0.9" />
<line x1="237.80" y1="339.50" x2="240.10" y2="339.50" stroke="#333" stroke-width="0.7" />
<line x1="237.80" y1="328.26" x2="240.10" y2="328.26" stroke="#333" stroke-width="0.7" />
<line x1="237.80" y1="317.02" x2="240.10" y2="317.02" stroke="#333" stroke-width="0.7" />
<line x1="237.80" y1="305.78" x2="240.10" y2="305.78" stroke="#333" stroke-width="0.7" />
<line x1="237.80" y1="294.54" x2="240.10" y2="294.54" stroke="#333" stroke-width="0.7" />
<line x1="237.80" y1="283.30" x2="240.10" y2="283.30" stroke="#333" stroke-width="0.7" />
<line x1="237.80" y1="272.06" x2="240.10" y2="272.06" stroke="#333" stroke-width="0.7" />
<line x1="237.80" y1="260.82" x2="240.10" y2="260.82" stroke="#333" stroke-width="0.7" />
<line x1="237.80" y1="249.58" x2="240.10" y2="249.58" stroke="#333" stroke-width="0.7" />
<line x1="237.80" y1="238.34" x2="240.10" y2="238.34" stroke="#333" stroke-width="0.7" />
<line x1="237.80" y1="227.10" x2="240.10" y2="227.10" stroke="#333" stroke-width="0.7" />
<text x="0.00" y="0.00" font-size="7.6" text-anchor="end" fill="#222" transform="translate(237.6,336.9) rotate(-28)">0%</text>
<text x="0.00" y="0.00" font-size="7.6" text-anchor="end" fill="#222" transform="translate(237.6,314.4) rotate(-28)">20%</text>
<text x="0.00" y="0.00" font-size="7.6" text-anchor="end" fill="#222" transform="translate(237.6,291.9) rotate(-28)">40%</text>
<text x="0.00" y="0.00" font-size="7.6" text-anchor="end" fill="#222" transform="translate(237.6,269.5) rotate(-28)">60%</text>
<text x="0.00" y="0.00" font-size="7.6" text-anchor="end" fill="#222" transform="translate(237.6,247.0) rotate(-28)">80%</text>
<text x="0.00" y="0.00" font-size="7.6" text-anchor="end" fill="#222" transform="translate(237.6,224.5) rotate(-28)">100%</text>
<line x1="250.60" y1="339.50" x2="250.60" y2="341.50" stroke="#333" stroke-width="0.7" />
<text x="0.00" y="0.00" font-size="7.2" text-anchor="middle" fill="#222" transform="translate(251.1,349.8) rotate(-25)">CNL</text>
<line x1="266.85" y1="339.50" x2="266.85" y2="341.50" stroke="#333" stroke-width="0.7" />
<text x="0.00" y="0.00" font-size="7.2" text-anchor="middle" fill="#222" transform="translate(267.4,349.8) rotate(-25)">NL</text>
<line x1="283.60" y1="339.50" x2="283.60" y2="341.50" stroke="#333" stroke-width="0.7" />
<text x="0.00" y="0.00" font-size="7.2" text-anchor="middle" fill="#222" transform="translate(284.1,349.8) rotate(-25)">RNL</text>
<line x1="299.75" y1="339.50" x2="299.75" y2="341.50" stroke="#333" stroke-width="0.7" />
<text x="0.00" y="0.00" font-size="7.2" text-anchor="middle" fill="#222" transform="translate(300.2,349.8) rotate(-25)">TNL</text>
<line x1="322.70" y1="339.50" x2="322.70" y2="341.50" stroke="#333" stroke-width="0.7" />
<text x="0.00" y="0.00" font-size="7.2" text-anchor="middle" fill="#222" transform="translate(323.2,349.8) rotate(-25)">CNL</text>
<line x1="338.90" y1="339.50" x2="338.90" y2="341.50" stroke="#333" stroke-width="0.7" />
<text x="0.00" y="0.00" font-size="7.2" text-anchor="middle" fill="#222" transform="translate(339.4,349.8) rotate(-25)">NL</text>
<line x1="355.50" y1="339.50" x2="355.50" y2="341.50" stroke="#333" stroke-width="0.7" />
<text x="0.00" y="0.00" font-size="7.2" text-anchor="middle" fill="#222" transform="translate(356.0,349.8) rotate(-25)">RNL</text>
<line x1="371.85" y1="339.50" x2="371.85" y2="341.50" stroke="#333" stroke-width="0.7" />
<text x="0.00" y="0.00" font-size="7.2" text-anchor="middle" fill="#222" transform="translate(372.4,349.8) rotate(-25)">TNL</text>
<text x="276.70" y="363.30" font-size="9.6" text-anchor="middle" fill="#000" >HapA</text>
<text x="346.80" y="364.90" font-size="9.6" text-anchor="middle" fill="#000" >HapB</text>
<rect x="380.40" y="227.00" width="6.50" height="6.00" fill="#9b62c9" />
<text x="389.30" y="232.70" font-size="7.4" text-anchor="start" fill="#222" font-style="italic">GypSy</text>
<rect x="380.40" y="236.95" width="6.50" height="6.00" fill="#c0302b" />
<text x="389.30" y="242.65" font-size="7.4" text-anchor="start" fill="#222" font-style="italic">SINE</text>
<rect x="380.40" y="246.90" width="6.50" height="6.00" fill="#3d9a35" />
<text x="389.30" y="252.60" font-size="7.4" text-anchor="start" fill="#222" font-style="italic">Pao</text>
<rect x="380.40" y="256.85" width="6.50" height="6.00" fill="#e6772e" />
<text x="389.30" y="262.55" font-size="7.4" text-anchor="start" fill="#222" font-style="italic">Copia</text>
<rect x="380.40" y="266.80" width="6.50" height="6.00" fill="#3b6ea4" />
<text x="389.30" y="272.50" font-size="7.4" text-anchor="start" fill="#222" font-style="italic">LINE</text>
<line x1="468.10" y1="314.30" x2="468.10" y2="331.00" stroke="#222" stroke-width="0.8" />
<line x1="466.90" y1="314.30" x2="469.30" y2="314.30" stroke="#222" stroke-width="0.8" />
<rect x="461.4" y="331.00" width="13.40" height="11.40" fill="#3b76b3" stroke="#222" stroke-width="0.7"/>
<line x1="461.40" y1="341.60" x2="474.80" y2="341.60" stroke="#111" stroke-width="1.1" />
<line x1="487.10" y1="285.40" x2="487.10" y2="319.70" stroke="#222" stroke-width="0.8" />
<line x1="485.90" y1="285.40" x2="488.30" y2="285.40" stroke="#222" stroke-width="0.8" />
<rect x="480.3" y="319.70" width="13.60" height="22.70" fill="#f68a2b" stroke="#222" stroke-width="0.7"/>
<line x1="480.30" y1="331.05" x2="493.90" y2="331.05" stroke="#111" stroke-width="1.1" />
<line x1="506.20" y1="308.40" x2="506.20" y2="325.40" stroke="#222" stroke-width="0.8" />
<line x1="505.00" y1="308.40" x2="507.40" y2="308.40" stroke="#222" stroke-width="0.8" />
<rect x="499.4" y="325.40" width="13.60" height="17.00" fill="#4c9a2c" stroke="#222" stroke-width="0.7"/>
<line x1="499.40" y1="341.60" x2="513.00" y2="341.60" stroke="#111" stroke-width="1.1" />
<line x1="525.50" y1="278.40" x2="525.50" y2="317.20" stroke="#222" stroke-width="0.8" />
<line x1="524.30" y1="278.40" x2="526.70" y2="278.40" stroke="#222" stroke-width="0.8" />
<rect x="518.7" y="317.20" width="13.60" height="25.20" fill="#c9322c" stroke="#222" stroke-width="0.7"/>
<line x1="518.70" y1="331.05" x2="532.30" y2="331.05" stroke="#111" stroke-width="1.1" />
<line x1="554.20" y1="314.10" x2="554.20" y2="331.10" stroke="#222" stroke-width="0.8" />
<line x1="553.00" y1="314.10" x2="555.40" y2="314.10" stroke="#222" stroke-width="0.8" />
<rect x="547.4" y="331.10" width="13.60" height="11.30" fill="#3b76b3" stroke="#222" stroke-width="0.7"/>
<line x1="547.40" y1="341.60" x2="561.00" y2="341.60" stroke="#111" stroke-width="1.1" />
<line x1="573.45" y1="285.60" x2="573.45" y2="319.80" stroke="#222" stroke-width="0.8" />
<line x1="572.25" y1="285.60" x2="574.65" y2="285.60" stroke="#222" stroke-width="0.8" />
<rect x="566.7" y="319.80" width="13.50" height="22.60" fill="#f68a2b" stroke="#222" stroke-width="0.7"/>
<line x1="566.70" y1="331.30" x2="580.20" y2="331.30" stroke="#111" stroke-width="1.1" />
<line x1="592.60" y1="308.20" x2="592.60" y2="317.30" stroke="#222" stroke-width="0.8" />
<line x1="591.40" y1="308.20" x2="593.80" y2="308.20" stroke="#222" stroke-width="0.8" />
<rect x="585.7" y="317.30" width="13.80" height="25.10" fill="#4c9a2c" stroke="#222" stroke-width="0.7"/>
<line x1="585.70" y1="341.60" x2="599.50" y2="341.60" stroke="#111" stroke-width="1.1" />
<line x1="611.95" y1="257.30" x2="611.95" y2="308.00" stroke="#222" stroke-width="0.8" />
<line x1="610.75" y1="257.30" x2="613.15" y2="257.30" stroke="#222" stroke-width="0.8" />
<rect x="605.4" y="308.00" width="13.10" height="34.40" fill="#c9322c" stroke="#222" stroke-width="0.7"/>
<line x1="605.40" y1="331.30" x2="618.50" y2="331.30" stroke="#111" stroke-width="1.1" />
<line x1="455.50" y1="218.70" x2="455.50" y2="348.60" stroke="#333" stroke-width="0.9" />
<line x1="455.50" y1="348.60" x2="624.60" y2="348.60" stroke="#333" stroke-width="0.9" />
<line x1="454.60" y1="228.80" x2="455.50" y2="228.80" stroke="#333" stroke-width="0.7" />
<text x="453.90" y="231.80" font-size="8.6" text-anchor="end" fill="#111" >12</text>
<line x1="454.60" y1="251.40" x2="455.50" y2="251.40" stroke="#333" stroke-width="0.7" />
<text x="453.90" y="254.40" font-size="8.6" text-anchor="end" fill="#111" >10</text>
<line x1="454.60" y1="274.40" x2="455.50" y2="274.40" stroke="#333" stroke-width="0.7" />
<text x="453.90" y="277.40" font-size="8.6" text-anchor="end" fill="#111" >8</text>
<line x1="454.60" y1="297.40" x2="455.50" y2="297.40" stroke="#333" stroke-width="0.7" />
<text x="453.90" y="300.40" font-size="8.6" text-anchor="end" fill="#111" >4</text>
<line x1="454.60" y1="320.00" x2="455.50" y2="320.00" stroke="#333" stroke-width="0.7" />
<text x="453.90" y="323.00" font-size="8.6" text-anchor="end" fill="#111" >2</text>
<line x1="454.60" y1="342.40" x2="455.50" y2="342.40" stroke="#333" stroke-width="0.7" />
<text x="453.90" y="345.40" font-size="8.6" text-anchor="end" fill="#111" >0</text>
<line x1="496.50" y1="348.60" x2="496.50" y2="351.20" stroke="#333" stroke-width="0.7" />
<line x1="583.40" y1="348.60" x2="583.40" y2="351.20" stroke="#333" stroke-width="0.7" />
<text x="497.30" y="358.70" font-size="9.0" text-anchor="middle" fill="#000" >HapA</text>
<text x="582.60" y="357.80" font-size="9.0" text-anchor="middle" fill="#000" >HapB</text>
<text x="0.00" y="0.00" font-size="8.8" text-anchor="middle" fill="#111" transform="translate(438.5,283) rotate(-90)">Numbers</text>
<text x="468.1" y="347.6" font-size="6.0" text-anchor="middle" fill="#333" style="font-family:'Liberation Serif',serif">n=146</text>
<text x="487.1" y="347.6" font-size="6.0" text-anchor="middle" fill="#333" style="font-family:'Liberation Serif',serif">n=183</text>
<text x="506.2" y="347.6" font-size="6.0" text-anchor="middle" fill="#333" style="font-family:'Liberation Serif',serif">n=6</text>
<text x="525.5" y="347.6" font-size="6.0" text-anchor="middle" fill="#333" style="font-family:'Liberation Serif',serif">n=96</text>
<text x="554.2" y="347.6" font-size="6.0" text-anchor="middle" fill="#333" style="font-family:'Liberation Serif',serif">n=131</text>
<text x="573.5" y="347.6" font-size="6.0" text-anchor="middle" fill="#333" style="font-family:'Liberation Serif',serif">n=191</text>
<text x="592.6" y="347.6" font-size="6.0" text-anchor="middle" fill="#333" style="font-family:'Liberation Serif',serif">n=6</text>
<text x="612.0" y="347.6" font-size="6.0" text-anchor="middle" fill="#333" style="font-family:'Liberation Serif',serif">n=98</text>
<path d="M467.8,271.2 L467.8,269.2 L486.5,269.2 L486.5,271.2" fill="none" stroke="#333" stroke-width="0.8"/>
<text x="477.15" y="267.60" font-size="5.6" text-anchor="middle" fill="#222" >p=2e-3</text>
<path d="M467.8,263.0 L467.8,261.0 L525.1,261.0 L525.1,263.0" fill="none" stroke="#333" stroke-width="0.8"/>
<text x="496.45" y="259.10" font-size="5.6" text-anchor="middle" fill="#222" >p=6.3e-4</text>
<path d="M553.3,255.6 L553.3,253.6 L572.5,253.6 L572.5,255.6" fill="none" stroke="#333" stroke-width="0.8"/>
<text x="562.90" y="252.20" font-size="5.6" text-anchor="middle" fill="#222" >p=1.4e-3</text>
<path d="M553.3,247.2 L553.3,245.2 L610.8,245.2 L610.8,247.2" fill="none" stroke="#333" stroke-width="0.8"/>
<text x="582.60" y="243.80" font-size="5.6" text-anchor="middle" fill="#222" >p=4.6e-5</text>
<path d="M572.5,239.0 L572.5,237.0 L610.8,237.0 L610.8,239.0" fill="none" stroke="#333" stroke-width="0.8"/>
<text x="591.65" y="235.30" font-size="5.6" text-anchor="middle" fill="#222" >p=0.048</text>
<rect x="632.2" y="239.2" width="9.0" height="9.0" fill="#3b76b3" stroke="#333" stroke-width="0.6"/>
<text x="643.30" y="247.10" font-size="9.0" text-anchor="start" fill="#111" >CNL</text>
<rect x="632.2" y="252.7" width="9.0" height="9.0" fill="#f68a2b" stroke="#333" stroke-width="0.6"/>
<text x="643.30" y="260.60" font-size="9.0" text-anchor="start" fill="#111" >NL</text>
<rect x="632.2" y="266.2" width="9.0" height="9.0" fill="#4c9a2c" stroke="#333" stroke-width="0.6"/>
<text x="643.30" y="274.10" font-size="9.0" text-anchor="start" fill="#111" >RNL</text>
<rect x="632.2" y="279.7" width="9.0" height="9.0" fill="#c9322c" stroke="#333" stroke-width="0.6"/>
<text x="643.30" y="287.60" font-size="9.0" text-anchor="start" fill="#111" >TNL</text>
<line x1="56.90" y1="422.00" x2="56.90" y2="464.30" stroke="#222" stroke-width="0.9" />
<line x1="56.90" y1="521.40" x2="56.90" y2="531.20" stroke="#222" stroke-width="0.9" />
<rect x="47.9" y="464.30" width="18.00" height="57.10" fill="#3b76b3" stroke="#222" stroke-width="0.8"/>
<line x1="47.90" y1="517.20" x2="65.90" y2="517.20" stroke="#111" stroke-width="1.3" />
<line x1="79.25" y1="462.30" x2="79.25" y2="504.40" stroke="#222" stroke-width="0.9" />
<line x1="79.25" y1="529.40" x2="79.25" y2="533.40" stroke="#222" stroke-width="0.9" />
<rect x="70.3" y="504.40" width="17.90" height="25.00" fill="#f68a2b" stroke="#222" stroke-width="0.8"/>
<line x1="70.30" y1="525.00" x2="88.20" y2="525.00" stroke="#111" stroke-width="1.3" />
<line x1="110.00" y1="456.30" x2="110.00" y2="490.20" stroke="#222" stroke-width="0.9" />
<line x1="110.00" y1="530.30" x2="110.00" y2="533.40" stroke="#222" stroke-width="0.9" />
<rect x="101.2" y="490.20" width="17.60" height="40.10" fill="#3b76b3" stroke="#222" stroke-width="0.8"/>
<line x1="101.20" y1="521.40" x2="118.80" y2="521.40" stroke="#111" stroke-width="1.3" />
<line x1="132.30" y1="472.40" x2="132.30" y2="508.60" stroke="#222" stroke-width="0.9" />
<line x1="132.30" y1="533.60" x2="132.30" y2="533.60" stroke="#222" stroke-width="0.9" />
<rect x="123.6" y="508.60" width="17.40" height="25.00" fill="#f68a2b" stroke="#222" stroke-width="0.8"/>
<line x1="123.60" y1="530.40" x2="141.00" y2="530.40" stroke="#111" stroke-width="1.3" />
<line x1="164.40" y1="448.20" x2="164.40" y2="482.50" stroke="#222" stroke-width="0.9" />
<line x1="164.40" y1="522.70" x2="164.40" y2="532.00" stroke="#222" stroke-width="0.9" />
<rect x="155.5" y="482.50" width="17.80" height="40.20" fill="#3b76b3" stroke="#222" stroke-width="0.8"/>
<line x1="155.50" y1="518.40" x2="173.30" y2="518.40" stroke="#111" stroke-width="1.3" />
<line x1="186.70" y1="459.60" x2="186.70" y2="493.20" stroke="#222" stroke-width="0.9" />
<line x1="186.70" y1="522.10" x2="186.70" y2="532.00" stroke="#222" stroke-width="0.9" />
<rect x="178.0" y="493.20" width="17.40" height="28.90" fill="#f68a2b" stroke="#222" stroke-width="0.8"/>
<line x1="178.00" y1="519.30" x2="195.40" y2="519.30" stroke="#111" stroke-width="1.3" />
<line x1="31.90" y1="399.20" x2="31.90" y2="542.90" stroke="#333" stroke-width="1.0" />
<line x1="31.90" y1="542.90" x2="204.80" y2="542.90" stroke="#333" stroke-width="1.0" />
<line x1="29.60" y1="534.80" x2="31.90" y2="534.80" stroke="#333" stroke-width="0.8" />
<text x="28.30" y="538.40" font-size="10.2" text-anchor="end" fill="#111" >0</text>
<line x1="29.60" y1="508.54" x2="31.90" y2="508.54" stroke="#333" stroke-width="0.8" />
<text x="28.30" y="512.14" font-size="10.2" text-anchor="end" fill="#111" >1</text>
<line x1="29.60" y1="482.28" x2="31.90" y2="482.28" stroke="#333" stroke-width="0.8" />
<text x="28.30" y="485.88" font-size="10.2" text-anchor="end" fill="#111" >2</text>
<line x1="29.60" y1="456.02" x2="31.90" y2="456.02" stroke="#333" stroke-width="0.8" />
<text x="28.30" y="459.62" font-size="10.2" text-anchor="end" fill="#111" >3</text>
<line x1="29.60" y1="429.76" x2="31.90" y2="429.76" stroke="#333" stroke-width="0.8" />
<text x="28.30" y="433.36" font-size="10.2" text-anchor="end" fill="#111" >4</text>
<line x1="29.60" y1="403.50" x2="31.90" y2="403.50" stroke="#333" stroke-width="0.8" />
<text x="28.30" y="407.10" font-size="10.2" text-anchor="end" fill="#111" >5</text>
<line x1="68.10" y1="542.90" x2="68.10" y2="546.60" stroke="#333" stroke-width="0.8" />
<text x="66.80" y="557.60" font-size="10.6" text-anchor="middle" fill="#111" >CNL</text>
<line x1="120.30" y1="542.90" x2="120.30" y2="546.60" stroke="#333" stroke-width="0.8" />
<text x="119.00" y="557.60" font-size="10.6" text-anchor="middle" fill="#111" >NL</text>
<line x1="175.30" y1="542.90" x2="175.30" y2="546.60" stroke="#333" stroke-width="0.8" />
<text x="174.00" y="557.60" font-size="10.6" text-anchor="middle" fill="#111" >TNL</text>
<text x="56.9" y="541.0" font-size="7.4" text-anchor="middle" fill="#222" style="font-family:'Liberation Serif',serif">n=240</text>
<text x="79.2" y="541.0" font-size="7.4" text-anchor="middle" fill="#222" style="font-family:'Liberation Serif',serif">n=36</text>
<text x="110.0" y="541.0" font-size="7.4" text-anchor="middle" fill="#222" style="font-family:'Liberation Serif',serif">n=290</text>
<text x="132.3" y="541.0" font-size="7.4" text-anchor="middle" fill="#222" style="font-family:'Liberation Serif',serif">n=87</text>
<text x="164.4" y="541.0" font-size="7.4" text-anchor="middle" fill="#222" style="font-family:'Liberation Serif',serif">n=170</text>
<text x="186.7" y="541.0" font-size="7.4" text-anchor="middle" fill="#222" style="font-family:'Liberation Serif',serif">n=25</text>
<text x="0" y="0" font-size="10.8" text-anchor="middle" fill="#111" transform="translate(15.0,465.6) rotate(-90)">Log<tspan font-size="7.4" dy="2">2</tspan><tspan dy="-2">(FPKM+1)</tspan></text>
<path d="M56.4,418.4 L56.4,416.4 L79.4,416.4 L79.4,418.4" fill="none" stroke="#444" stroke-width="0.9"/>
<text x="67.90" y="413.70" font-size="6.0" text-anchor="middle" fill="#222" >p=3.2e-4</text>
<path d="M110.1,439.8 L110.1,437.8 L132.3,437.8 L132.3,439.8" fill="none" stroke="#444" stroke-width="0.9"/>
<text x="121.20" y="435.10" font-size="6.0" text-anchor="middle" fill="#222" >p=3.3e-8</text>
<path d="M164.5,446.5 L164.5,444.5 L186.7,444.5 L186.7,446.5" fill="none" stroke="#444" stroke-width="0.9"/>
<text x="175.60" y="441.80" font-size="6.0" text-anchor="middle" fill="#222" >p=2.2e-7</text>
<rect x="70.6" y="394.2" width="10.0" height="10.0" rx="1.2" fill="#3b76b3" stroke="#333" stroke-width="0.6"/>
<text x="83.50" y="402.80" font-size="10.2" text-anchor="start" fill="#111" >Allele</text>
<rect x="114.2" y="394.2" width="10.0" height="10.0" rx="1.2" fill="#f68a2b" stroke="#333" stroke-width="0.6"/>
<text x="126.90" y="402.80" font-size="10.2" text-anchor="start" fill="#111" >Non-allele</text>
<defs><clipPath id="hL"><circle cx="295.6" cy="453.6" r="42.4" fill="#000" /></clipPath><clipPath id="hR"><circle cx="337.9" cy="453.6" r="42.4" fill="#000" /></clipPath><clipPath id="hS"><circle cx="317.4" cy="489.5" r="42.0" fill="#000" /></clipPath></defs>
<circle cx="295.6" cy="453.6" r="42.4" fill="#6f9bc7" />
<circle cx="337.9" cy="453.6" r="42.4" fill="#f5a46b" />
<g clip-path="url(#hL)"><circle cx="337.9" cy="453.6" r="42.4" fill="#d4895b" /></g>
<circle cx="317.4" cy="489.5" r="42.0" fill="#7abb63" />
<g clip-path="url(#hL)"><circle cx="317.4" cy="489.5" r="42.0" fill="#4f9a56" /></g>
<g clip-path="url(#hR)"><circle cx="317.4" cy="489.5" r="42.0" fill="#819f31" /></g>
<g clip-path="url(#hL)"><g clip-path="url(#hR)"><circle cx="317.4" cy="489.5" r="42.0" fill="#6f9631" /></g></g>
<circle cx="295.6" cy="453.6" r="42.4" fill="none" stroke="#3d3d3d" stroke-width="0.7"/>
<circle cx="337.9" cy="453.6" r="42.4" fill="none" stroke="#3d3d3d" stroke-width="0.7"/>
<circle cx="317.4" cy="489.5" r="42.0" fill="none" stroke="#3d3d3d" stroke-width="0.7"/>
<text x="275.70" y="451.10" font-size="13.8" text-anchor="middle" fill="#111" >7</text>
<text x="316.80" y="443.80" font-size="13.8" text-anchor="middle" fill="#111" >3</text>
<text x="359.10" y="451.10" font-size="13.8" text-anchor="middle" fill="#111" >11</text>
<text x="318.60" y="471.40" font-size="13.8" text-anchor="middle" fill="#111" >33</text>
<text x="291.60" y="484.80" font-size="13.8" text-anchor="middle" fill="#111" >6</text>
<text x="341.60" y="484.80" font-size="13.8" text-anchor="middle" fill="#111" >8</text>
<text x="316.80" y="515.80" font-size="13.8" text-anchor="middle" fill="#111" >6</text>
<text x="264.30" y="411.00" font-size="13.8" text-anchor="middle" fill="#222" >Leaf</text>
<text x="380.70" y="417.90" font-size="13.8" text-anchor="middle" fill="#222" >Root</text>
<text x="318.40" y="547.80" font-size="14.2" text-anchor="middle" fill="#222" >Steam</text>
<g fill="none" stroke="#d9d9d9" stroke-opacity="0.6">
<path d="M506.9,413 C506.9,438 448.2,430 448.2,455" stroke-width="1.1"/>
<path d="M510.2,413 C510.2,438 451.7,430 451.7,455" stroke-width="1.2"/>
<path d="M512.7,413 C512.7,438 454.8,430 454.8,455" stroke-width="1.7"/>
<path d="M514.9,413 C514.9,438 458.4,430 458.4,455" stroke-width="0.8"/>
<path d="M516.1,413 C516.1,438 462.7,430 462.7,455" stroke-width="1.4"/>
<path d="M518.4,413 C518.4,438 464.4,430 464.4,455" stroke-width="2.4"/>
<path d="M521.8,413 C521.8,438 469.6,430 469.6,455" stroke-width="1.8"/>
<path d="M524.2,413 C524.2,438 472.0,430 472.0,455" stroke-width="1.4"/>
<path d="M525.4,413 C525.4,438 474.2,430 474.2,455" stroke-width="0.7"/>
<path d="M528.0,413 C528.0,438 478.1,430 478.1,455" stroke-width="1.1"/>
<path d="M530.7,413 C530.7,438 481.7,430 481.7,455" stroke-width="2.0"/>
<path d="M533.7,413 C533.7,438 484.1,430 484.1,455" stroke-width="1.3"/>
<path d="M535.9,413 C535.9,438 487.4,430 487.4,455" stroke-width="0.6"/>
<path d="M538.1,413 C538.1,438 491.1,430 491.1,455" stroke-width="0.7"/>
<path d="M539.2,413 C539.2,438 495.6,430 495.6,455" stroke-width="1.9"/>
<path d="M541.7,413 C541.7,438 498.9,430 498.9,455" stroke-width="1.7"/>
<path d="M545.0,413 C545.0,438 501.3,430 501.3,455" stroke-width="0.7"/>
<path d="M546.9,413 C546.9,438 504.0,430 504.0,455" stroke-width="2.5"/>
<path d="M549.0,413 C549.0,438 507.1,430 507.1,455" stroke-width="2.4"/>
<path d="M550.8,413 C550.8,438 510.3,430 510.3,455" stroke-width="1.9"/>
<path d="M557.3,413 C557.3,438 595.3,430 595.3,455" stroke-width="0.9"/>
<path d="M561.0,413 C561.0,438 600.4,430 600.4,455" stroke-width="2.4"/>
<path d="M562.8,413 C562.8,438 602.8,430 602.8,455" stroke-width="1.5"/>
<path d="M564.8,413 C564.8,438 605.6,430 605.6,455" stroke-width="2.3"/>
<path d="M566.3,413 C566.3,438 609.8,430 609.8,455" stroke-width="2.2"/>
<path d="M569.1,413 C569.1,438 614.2,430 614.2,455" stroke-width="1.4"/>
<path d="M571.5,413 C571.5,438 616.5,430 616.5,455" stroke-width="1.2"/>
<path d="M573.1,413 C573.1,438 621.3,430 621.3,455" stroke-width="2.4"/>
<path d="M575.7,413 C575.7,438 624.2,430 624.2,455" stroke-width="1.5"/>
<path d="M578.6,413 C578.6,438 626.9,430 626.9,455" stroke-width="0.9"/>
<path d="M580.0,413 C580.0,438 631.2,430 631.2,455" stroke-width="2.3"/>
<path d="M582.2,413 C582.2,438 634.0,430 634.0,455" stroke-width="1.5"/>
<path d="M585.2,413 C585.2,438 637.4,430 637.4,455" stroke-width="1.0"/>
<path d="M587.4,413 C587.4,438 642.1,430 642.1,455" stroke-width="1.3"/>
<path d="M589.9,413 C589.9,438 645.8,430 645.8,455" stroke-width="2.0"/>
<path d="M591.5,413 C591.5,438 648.3,430 648.3,455" stroke-width="1.8"/>
<path d="M594.9,413 C594.9,438 652.5,430 652.5,455" stroke-width="0.7"/>
<path d="M597.0,413 C597.0,438 656.0,430 656.0,455" stroke-width="2.4"/>
</g>
<text x="552.60" y="406.70" font-size="9.3" text-anchor="middle" fill="#222" >ChrB09</text>
<text x="552.60" y="448.50" font-size="9.3" text-anchor="middle" fill="#222" >ChrA09</text>
<line x1="507.00" y1="412.50" x2="597.00" y2="412.50" stroke="#8a8a8a" stroke-width="0.9" />
<line x1="448.40" y1="455.40" x2="656.00" y2="455.40" stroke="#8a8a8a" stroke-width="0.9" />
<rect x="507.00" y="411.20" width="3.50" height="2.60" fill="#5a78c8" />
<rect x="512.50" y="411.20" width="1.00" height="2.60" fill="#5a78c8" />
<rect x="516.50" y="411.20" width="0.70" height="2.60" fill="#4cb050" />
<rect x="519.50" y="411.20" width="5.20" height="2.60" fill="#4cb050" />
<rect x="528.50" y="411.20" width="1.00" height="2.60" fill="#4cb050" />
<rect x="531.00" y="411.20" width="3.50" height="2.60" fill="#5a78c8" />
<rect x="535.50" y="411.20" width="2.50" height="2.60" fill="#5a78c8" />
<rect x="541.00" y="411.20" width="1.00" height="2.60" fill="#5a78c8" />
<rect x="546.50" y="411.20" width="4.00" height="2.60" fill="#4cb050" />
<rect x="553.00" y="411.20" width="1.00" height="2.60" fill="#5a78c8" />
<rect x="558.00" y="411.20" width="1.00" height="2.60" fill="#4cb050" />
<rect x="561.50" y="411.20" width="3.50" height="2.60" fill="#5a78c8" />
<rect x="565.50" y="411.20" width="3.00" height="2.60" fill="#5a78c8" />
<rect x="569.50" y="411.20" width="1.50" height="2.60" fill="#5a78c8" />
<rect x="573.00" y="411.20" width="2.50" height="2.60" fill="#5a78c8" />
<rect x="578.00" y="411.20" width="0.80" height="2.60" fill="#5a78c8" />
<rect x="581.00" y="411.20" width="1.00" height="2.60" fill="#4cb050" />
<rect x="584.00" y="411.20" width="1.00" height="2.60" fill="#4cb050" />
<rect x="589.00" y="411.20" width="3.00" height="2.60" fill="#5a78c8" />
<rect x="593.50" y="411.20" width="3.00" height="2.60" fill="#5a78c8" />
<rect x="595.50" y="411.20" width="1.30" height="2.60" fill="#4cb050" />
<rect x="448.50" y="454.10" width="2.50" height="2.60" fill="#d4901e" />
<rect x="452.50" y="454.10" width="1.50" height="2.60" fill="#d4901e" />
<rect x="458.00" y="454.10" width="1.00" height="2.60" fill="#d4901e" />
<rect x="459.50" y="454.10" width="3.00" height="2.60" fill="#d4901e" />
<rect x="465.00" y="454.10" width="3.00" height="2.60" fill="#d4901e" />
<rect x="469.50" y="454.10" width="3.50" height="2.60" fill="#d4901e" />
<rect x="474.00" y="454.10" width="0.60" height="2.60" fill="#d4901e" />
<rect x="478.00" y="454.10" width="3.00" height="2.60" fill="#d4901e" />
<rect x="484.00" y="454.10" width="0.80" height="2.60" fill="#d4901e" />
<rect x="489.00" y="454.10" width="1.00" height="2.60" fill="#d4901e" />
<rect x="491.50" y="454.10" width="3.50" height="2.60" fill="#d4901e" />
<rect x="502.00" y="454.10" width="2.50" height="2.60" fill="#d4901e" />
<rect x="507.00" y="454.10" width="1.00" height="2.60" fill="#d4901e" />
<rect x="509.00" y="454.10" width="3.00" height="2.60" fill="#d4901e" />
<rect x="512.00" y="454.10" width="2.00" height="2.60" fill="#a832c6" />
<rect x="514.50" y="454.10" width="1.50" height="2.60" fill="#a832c6" />
<rect x="516.50" y="454.10" width="2.00" height="2.60" fill="#a832c6" />
<rect x="520.50" y="454.10" width="0.70" height="2.60" fill="#5a78c8" />
<rect x="522.00" y="454.10" width="1.00" height="2.60" fill="#a832c6" />
<rect x="524.50" y="454.10" width="2.00" height="2.60" fill="#5a78c8" />
<rect x="528.00" y="454.10" width="0.70" height="2.60" fill="#5a78c8" />
<rect x="534.50" y="454.10" width="1.80" height="2.60" fill="#a832c6" />
<rect x="541.00" y="454.10" width="1.00" height="2.60" fill="#a832c6" />
<rect x="543.00" y="454.10" width="1.50" height="2.60" fill="#5a78c8" />
<rect x="545.00" y="454.10" width="1.50" height="2.60" fill="#a832c6" />
<rect x="550.00" y="454.10" width="1.50" height="2.60" fill="#5a78c8" />
<rect x="552.00" y="454.10" width="1.80" height="2.60" fill="#5a78c8" />
<rect x="559.50" y="454.10" width="1.50" height="2.60" fill="#a832c6" />
<rect x="567.50" y="454.10" width="1.00" height="2.60" fill="#a832c6" />
<rect x="572.50" y="454.10" width="1.50" height="2.60" fill="#a832c6" />
<rect x="575.00" y="454.10" width="1.50" height="2.60" fill="#a832c6" />
<rect x="579.00" y="454.10" width="1.00" height="2.60" fill="#a832c6" />
<rect x="580.50" y="454.10" width="1.50" height="2.60" fill="#a832c6" />
<rect x="585.00" y="454.10" width="1.00" height="2.60" fill="#a832c6" />
<rect x="597.00" y="454.10" width="0.60" height="2.60" fill="#d4901e" />
<rect x="601.00" y="454.10" width="0.60" height="2.60" fill="#d4901e" />
<rect x="605.00" y="454.10" width="1.00" height="2.60" fill="#d4901e" />
<rect x="609.00" y="454.10" width="2.00" height="2.60" fill="#d4901e" />
<rect x="612.00" y="454.10" width="2.50" height="2.60" fill="#d4901e" />
<rect x="615.00" y="454.10" width="1.50" height="2.60" fill="#d4901e" />
<rect x="618.00" y="454.10" width="1.50" height="2.60" fill="#d4901e" />
<rect x="620.50" y="454.10" width="1.50" height="2.60" fill="#d4901e" />
<rect x="624.00" y="454.10" width="1.50" height="2.60" fill="#d4901e" />
<rect x="628.00" y="454.10" width="1.50" height="2.60" fill="#d4901e" />
<rect x="631.00" y="454.10" width="1.00" height="2.60" fill="#d4901e" />
<rect x="634.00" y="454.10" width="2.00" height="2.60" fill="#d4901e" />
<rect x="639.00" y="454.10" width="2.00" height="2.60" fill="#d4901e" />
<rect x="643.00" y="454.10" width="2.00" height="2.60" fill="#d4901e" />
<rect x="648.00" y="454.10" width="1.00" height="2.60" fill="#d4901e" />
<rect x="651.00" y="454.10" width="2.00" height="2.60" fill="#d4901e" />
<rect x="654.00" y="454.10" width="2.00" height="2.60" fill="#d4901e" />
<polygon points="446.1,487.2 446.1,482.8 447.0,481.1 447.9,481.2 448.1,487.2 448.6,487.2 448.8,483.3 449.8,482.0 450.9,482.8 451.1,487.2 451.7,487.2 451.9,473.3 452.9,474.3 453.8,472.6 454.8,473.5 455.7,477.8 456.6,477.7 456.6,473.9 457.1,475.5 457.5,475.7 457.7,487.2 459.9,487.2 460.1,477.8 460.8,478.3 461.4,474.8 461.4,478.1 461.9,467.1 462.6,467.1 463.1,478.1 463.1,474.7 463.8,478.1 464.5,474.8 464.5,480.9 465.0,480.4 465.4,480.6 465.4,483.6 466.5,483.1 467.7,482.9 467.7,481.5 468.3,480.9 468.9,479.6 469.1,487.2 469.9,487.2 470.1,480.6 471.3,480.5 472.4,479.2 472.4,482.0 473.1,483.6 473.8,483.1 473.8,480.5 474.5,472.3 475.2,472.3 475.9,480.5 475.9,478.2 476.8,478.7 477.7,479.0 477.9,487.2 479.2,487.2 479.4,474.0 480.3,472.8 481.2,474.2 482.0,477.3 482.0,482.2 482.9,481.4 483.8,483.0 484.7,481.2 484.7,480.5 484.9,472.3 485.6,472.3 485.9,480.5 485.9,479.6 486.6,480.4 487.3,479.1 487.3,476.8 488.2,475.2 489.1,473.8 489.9,474.5 489.9,476.2 490.8,476.1 491.7,478.2 491.7,478.1 492.5,467.1 493.2,467.1 494.0,478.1 494.0,472.6 495.0,475.4 496.1,476.8 496.1,475.7 496.9,479.3 497.8,475.8 498.7,476.7 499.6,477.0 499.6,476.2 500.3,462.7 501.0,462.7 501.7,476.2 501.7,476.5 502.8,477.2 503.9,475.0 503.9,475.9 504.8,476.4 505.7,474.0 506.6,473.3 506.6,486.4 507.4,486.5 508.3,486.3 509.2,486.4 509.2,482.9 509.7,477.6 510.4,477.6 511.0,482.9 511.0,485.5 511.8,485.4 512.7,485.7 512.9,487.2 514.3,487.2 514.5,482.9 515.2,477.6 515.9,477.6 516.6,482.9 516.8,487.2 520.4,487.2 520.6,480.5 521.8,472.3 522.5,472.3 523.7,480.5 523.7,486.2 524.8,486.4 525.8,486.4 525.8,484.7 526.7,485.3 527.5,485.5 528.3,485.1 529.1,485.2 529.9,485.4 530.7,485.5 530.9,487.2 532.7,487.2 532.9,482.8 533.7,481.1 534.6,483.2 535.5,483.0 535.5,478.9 536.4,481.1 537.2,477.9 537.2,482.5 537.8,476.7 538.5,476.7 539.0,482.5 539.0,484.3 539.9,483.7 540.7,483.7 541.6,483.8 541.6,480.5 542.1,472.3 542.8,472.3 543.4,480.5 543.4,481.1 544.2,479.0 545.1,480.2 546.0,480.8 546.0,477.9 546.9,478.7 547.7,477.8 547.7,479.7 548.7,470.6 549.4,470.6 550.4,479.7 550.4,480.6 551.2,479.0 552.1,480.1 553.0,481.4 553.0,478.5 554.0,467.9 554.7,467.9 555.6,478.5 555.6,477.5 556.5,478.5 557.4,479.5 558.3,479.2 559.1,477.5 560.0,480.4 551.8,482.2 552.8,483.2 553.9,481.0 553.9,478.5 554.4,467.9 555.1,467.9 555.6,478.5 555.6,481.1 556.7,481.7 557.9,481.2 558.1,487.2 558.6,487.2 558.8,475.8 559.6,475.9 560.5,479.4 561.4,477.9 561.4,481.1 562.3,482.8 563.1,481.2 563.3,487.2 565.2,487.2 565.4,480.5 565.7,472.3 566.4,472.3 566.6,480.5 566.8,487.2 568.2,487.2 568.4,477.1 569.3,474.8 570.1,476.7 571.0,478.0 571.0,479.9 572.1,478.9 573.1,480.3 573.1,477.7 574.0,477.4 574.9,476.6 574.9,480.5 575.2,472.3 575.9,472.3 576.3,480.5 576.3,477.8 577.2,478.3 578.0,480.4 578.0,473.6 578.9,474.9 579.8,476.9 579.8,480.7 580.7,480.3 581.5,480.6 581.5,478.1 582.1,467.1 582.8,467.1 583.3,478.1 583.3,479.6 584.2,478.5 585.0,478.8 585.0,477.0 585.9,472.7 586.8,477.0 586.8,483.2 587.8,482.5 588.9,481.3 588.9,476.8 589.8,479.0 590.6,478.9 590.6,479.3 591.8,480.9 592.9,479.8 592.9,481.7 593.4,474.9 594.1,474.9 594.7,481.7 594.7,481.7 595.6,480.0 596.4,479.9 597.3,481.1 597.3,473.3 598.2,475.6 599.1,476.1 599.1,478.0 599.9,477.8 600.8,478.3 600.8,483.4 601.7,484.0 602.6,483.9 602.8,487.2 605.5,487.2 605.7,481.3 606.8,481.8 607.8,483.2 607.8,479.9 608.7,477.9 609.6,478.7 610.4,478.6 610.4,482.1 611.6,482.1 612.7,483.0 612.7,479.5 613.8,478.8 614.8,479.1 614.8,475.9 615.5,474.7 616.2,475.7 616.2,480.9 616.7,473.2 617.4,473.2 618.0,480.9 618.0,481.7 618.6,481.9 619.2,480.8 619.2,478.1 619.7,467.1 620.4,467.1 621.0,478.1 621.0,480.9 621.8,479.7 622.7,480.7 622.7,476.6 623.6,479.0 624.5,477.5 624.5,478.2 625.3,478.0 626.2,477.4 627.1,479.8 627.1,481.6 628.0,480.8 628.8,480.4 629.7,479.4 629.7,480.5 630.7,472.3 631.4,472.3 632.3,480.5 632.3,476.4 633.2,478.4 634.1,478.8 634.1,480.9 634.6,473.2 635.3,473.2 635.8,480.9 635.8,480.3 636.7,481.9 637.6,479.1 637.6,483.2 638.5,481.9 639.3,481.6 639.3,483.7 640.2,482.1 641.1,483.7 641.1,475.2 642.0,477.2 642.9,474.8 643.7,476.6 643.7,481.8 644.6,480.6 645.5,481.7 645.5,480.5 646.3,472.3 647.0,472.3 647.8,480.5 647.8,481.6 648.4,479.4 649.0,480.9 649.0,476.5 649.9,477.3 650.7,477.2 650.7,481.0 651.6,479.2 652.5,480.1 652.5,480.5 653.5,472.3 654.2,472.3 655.1,480.5 655.1,479.6 655.7,479.4 656.3,481.2 656.0,487.2" fill="#2f6fae"/>
<line x1="446.10" y1="486.90" x2="656.00" y2="486.90" stroke="#2f6fae" stroke-width="0.8" />
<line x1="446.00" y1="460.90" x2="446.00" y2="487.20" stroke="#333" stroke-width="0.8" />
<line x1="444.00" y1="460.90" x2="446.00" y2="460.90" stroke="#333" stroke-width="0.7" />
<line x1="444.00" y1="487.20" x2="446.00" y2="487.20" stroke="#333" stroke-width="0.7" />
<text x="444.30" y="464.70" font-size="8.8" text-anchor="end" fill="#111" >10.5</text>
<text x="444.30" y="490.40" font-size="8.8" text-anchor="end" fill="#111" >0</text>
<text x="658.60" y="485.00" font-size="10.8" text-anchor="start" fill="#111" >SRs</text>
<polyline points="446.6,519.6 453.7,519.6 453.7,514.5 454.9,514.5 454.9,519.6 462.4,519.6 462.4,510.4 463.6,510.4 463.6,519.6 464.5,519.6 464.5,510.4 465.5,510.4 465.5,519.6 466.4,519.6 466.4,510.9 467.6,510.9 467.6,519.6 468.5,519.6 468.5,510.4 469.5,510.4 469.5,519.6 470.5,519.6 470.5,512.7 471.5,512.7 471.5,519.6 475.9,519.6 475.9,510.4 477.1,510.4 477.1,519.6 478.9,519.6 478.9,496.6 479.9,496.6 479.9,519.6 480.6,519.6 480.6,507.0 481.4,507.0 481.4,519.6 482.8,519.6 482.8,510.4 484.0,510.4 484.0,519.6 486.9,519.6 486.9,514.5 487.9,514.5 487.9,519.6 492.7,519.6 492.7,514.5 493.7,514.5 493.7,519.6 503.2,519.6 503.2,514.5 504.8,514.5 504.8,519.6 506.5,519.6 506.5,515.0 507.5,515.0 507.5,519.6 510.8,519.6 510.8,514.5 512.2,514.5 512.2,519.6 513.0,519.6 513.0,515.0 514.0,515.0 514.0,519.6 517.0,519.6 517.0,505.3 518.2,505.3 518.2,519.6 519.4,519.6 519.4,505.3 520.6,505.3 520.6,519.6 529.3,519.6 529.3,514.5 531.3,514.5 531.3,519.6 535.3,519.6 535.3,510.4 536.3,510.4 536.3,519.6 536.4,519.6 536.4,504.9 537.6,504.9 537.6,519.6 555.7,519.6 555.7,515.0 556.7,515.0 556.7,519.6 560.4,519.6 560.4,510.4 561.6,510.4 561.6,519.6 561.8,519.6 561.8,501.2 563.0,501.2 563.0,519.6 563.6,519.6 563.6,507.0 564.8,507.0 564.8,519.6 579.2,519.6 579.2,501.2 580.2,501.2 580.2,519.6 586.4,519.6 586.4,501.2 587.4,501.2 587.4,519.6 600.8,519.6 600.8,509.2 602.2,509.2 602.2,519.6 602.9,519.6 602.9,503.5 604.1,503.5 604.1,519.6 604.5,519.6 604.5,496.6 605.5,496.6 605.5,519.6 606.3,519.6 606.3,509.2 607.7,509.2 607.7,519.6 608.3,519.6 608.3,509.2 609.7,509.2 609.7,519.6 610.5,519.6 610.5,513.9 611.5,513.9 611.5,519.6 614.0,519.6 614.0,514.5 615.0,514.5 615.0,519.6 616.2,519.6 616.2,514.5 618.8,514.5 618.8,519.6 620.8,519.6 620.8,514.5 622.2,514.5 622.2,519.6 623.0,519.6 623.0,514.5 624.0,514.5 624.0,519.6 632.4,519.6 632.4,514.5 633.4,514.5 633.4,519.6 637.2,519.6 637.2,510.4 638.8,510.4 638.8,519.6 639.0,519.6 639.0,513.9 640.0,513.9 640.0,519.6 647.7,519.6 647.7,514.5 648.7,514.5 648.7,519.6 656,519.6" fill="#f08a17" stroke="#f08a17" stroke-width="0.7"/>
<line x1="446.00" y1="496.40" x2="446.00" y2="520.80" stroke="#333" stroke-width="0.8" />
<line x1="444.00" y1="496.60" x2="446.00" y2="496.60" stroke="#333" stroke-width="0.7" />
<line x1="444.00" y1="519.60" x2="446.00" y2="519.60" stroke="#333" stroke-width="0.7" />
<text x="444.30" y="499.60" font-size="8.8" text-anchor="end" fill="#111" >5.2</text>
<text x="444.30" y="522.60" font-size="8.8" text-anchor="end" fill="#111" >0</text>
<text x="658.60" y="515.30" font-size="10.8" text-anchor="start" fill="#111" >TEs</text>
<line x1="446.00" y1="520.80" x2="656.00" y2="520.80" stroke="#333" stroke-width="0.8" />
<line x1="446.60" y1="520.80" x2="446.60" y2="522.80" stroke="#333" stroke-width="0.7" />
<text x="446.60" y="530.60" font-size="8.4" text-anchor="middle" fill="#111" >22.40</text>
<line x1="469.86" y1="520.80" x2="469.86" y2="522.80" stroke="#333" stroke-width="0.7" />
<text x="469.86" y="530.60" font-size="8.4" text-anchor="middle" fill="#111" >22.45</text>
<line x1="493.12" y1="520.80" x2="493.12" y2="522.80" stroke="#333" stroke-width="0.7" />
<text x="493.12" y="530.60" font-size="8.4" text-anchor="middle" fill="#111" >22.50</text>
<line x1="516.38" y1="520.80" x2="516.38" y2="522.80" stroke="#333" stroke-width="0.7" />
<text x="516.38" y="530.60" font-size="8.4" text-anchor="middle" fill="#111" >22.55</text>
<line x1="539.64" y1="520.80" x2="539.64" y2="522.80" stroke="#333" stroke-width="0.7" />
<text x="539.64" y="530.60" font-size="8.4" text-anchor="middle" fill="#111" >22.60</text>
<line x1="562.90" y1="520.80" x2="562.90" y2="522.80" stroke="#333" stroke-width="0.7" />
<text x="562.90" y="530.60" font-size="8.4" text-anchor="middle" fill="#111" >22.65</text>
<line x1="586.16" y1="520.80" x2="586.16" y2="522.80" stroke="#333" stroke-width="0.7" />
<text x="586.16" y="530.60" font-size="8.4" text-anchor="middle" fill="#111" >22.70</text>
<line x1="609.42" y1="520.80" x2="609.42" y2="522.80" stroke="#333" stroke-width="0.7" />
<text x="609.42" y="530.60" font-size="8.4" text-anchor="middle" fill="#111" >22.75</text>
<line x1="632.68" y1="520.80" x2="632.68" y2="522.80" stroke="#333" stroke-width="0.7" />
<text x="632.68" y="530.60" font-size="8.4" text-anchor="middle" fill="#111" >22.80</text>
<line x1="655.94" y1="520.80" x2="655.94" y2="522.80" stroke="#333" stroke-width="0.7" />
<text x="655.94" y="530.60" font-size="8.4" text-anchor="middle" fill="#111" >22.85</text>
<text x="667.00" y="530.60" font-size="8.4" text-anchor="start" fill="#111" >(Mb)</text>
<text x="563.30" y="547.30" font-size="12.0" text-anchor="middle" fill="#222" >Coordinate</text>
<defs><pattern id="rd" patternUnits="userSpaceOnUse" x="0" y="658.3" width="4" height="4"><rect width="4" height="4" fill="#b48ef0"/><rect y="0" width="4" height="2.5" fill="#8a3fe0"/></pattern><pattern id="rd2" patternUnits="userSpaceOnUse" x="0" y="627" width="4" height="3.6"><rect width="4" height="3.6" fill="#b184ee"/><rect y="0" width="4" height="2.4" fill="#8a3fe0"/></pattern><pattern id="gr" patternUnits="userSpaceOnUse" x="0" y="627" width="4" height="3.6"><rect width="4" height="3.6" fill="#fafafa"/><rect y="0.3" width="4" height="2.6" fill="#e4e4e4"/></pattern></defs>
<defs><clipPath id="jclip"><rect x="23.6" y="580" width="166.8" height="164.5"/></clipPath></defs>
<rect x="23.2" y="579.8" width="167.5" height="165" fill="#fbfbfb" stroke="#d4d4d4" stroke-width="0.7"/>
<g clip-path="url(#jclip)">
<rect x="23.6" y="580.2" width="166.7" height="26" fill="#ffffff"/>
<text x="103.5" y="585.2" font-size="5.4" font-weight="bold" text-anchor="middle" fill="#222" style="font-family:'Liberation Serif',serif">ChrA09:22,350,000-22,885,000</text>
<line x1="26.00" y1="588.80" x2="97.50" y2="588.80" stroke="#444" stroke-width="0.6" />
<line x1="109.00" y1="588.80" x2="188.50" y2="588.80" stroke="#444" stroke-width="0.6" />
<path d="M24.8,588.8 L27.5,587.5 L27.5,590.1 Z" fill="#333"/><path d="M189.5,588.8 L186.8,587.5 L186.8,590.1 Z" fill="#333"/>
<text x="103.3" y="590.3" font-size="3.8" text-anchor="middle" fill="#333" style="font-family:'Liberation Serif',serif">533 kb</text>
<text x="39.4" y="597.0" font-size="3.4" text-anchor="middle" fill="#555" style="font-family:'Liberation Serif',serif">22,400 kb</text>
<text x="69.9" y="597.0" font-size="3.4" text-anchor="middle" fill="#555" style="font-family:'Liberation Serif',serif">22,500 kb</text>
<text x="101.3" y="597.0" font-size="3.4" text-anchor="middle" fill="#555" style="font-family:'Liberation Serif',serif">22,600 kb</text>
<text x="132.2" y="597.0" font-size="3.4" text-anchor="middle" fill="#555" style="font-family:'Liberation Serif',serif">22,700 kb</text>
<text x="163.5" y="597.0" font-size="3.4" text-anchor="middle" fill="#555" style="font-family:'Liberation Serif',serif">22,800 kb</text>
<line x1="39.40" y1="598.20" x2="39.40" y2="601.00" stroke="#666" stroke-width="0.5" />
<line x1="54.80" y1="598.20" x2="54.80" y2="601.00" stroke="#666" stroke-width="0.5" />
<line x1="69.90" y1="598.20" x2="69.90" y2="601.00" stroke="#666" stroke-width="0.5" />
<line x1="85.40" y1="598.20" x2="85.40" y2="601.00" stroke="#666" stroke-width="0.5" />
<line x1="101.30" y1="598.20" x2="101.30" y2="601.00" stroke="#666" stroke-width="0.5" />
<line x1="116.80" y1="598.20" x2="116.80" y2="601.00" stroke="#666" stroke-width="0.5" />
<line x1="132.20" y1="598.20" x2="132.20" y2="601.00" stroke="#666" stroke-width="0.5" />
<line x1="147.80" y1="598.20" x2="147.80" y2="601.00" stroke="#666" stroke-width="0.5" />
<line x1="163.50" y1="598.20" x2="163.50" y2="601.00" stroke="#666" stroke-width="0.5" />
<line x1="179.00" y1="598.20" x2="179.00" y2="601.00" stroke="#666" stroke-width="0.5" />
<line x1="23.60" y1="601.10" x2="190.30" y2="601.10" stroke="#777" stroke-width="0.6" />
<line x1="23.60" y1="603.10" x2="190.30" y2="603.10" stroke="#cfcfcf" stroke-width="0.8" />
<line x1="23.60" y1="604.70" x2="190.30" y2="604.70" stroke="#9a9a9a" stroke-width="1.3" />
<line x1="23.60" y1="606.30" x2="190.30" y2="606.30" stroke="#e2e2e2" stroke-width="0.6" />
<rect x="23.60" y="606.90" width="166.70" height="15.30" fill="#ffffff" />
<text x="25.3" y="611.6" font-size="3.4" fill="#444" style="font-family:'Liberation Serif',serif">[0 - 109]</text>
<g shape-rendering="crispEdges"><rect x="30.00" y="620.41" width="0.60" height="0.15" fill="#e2261e" /><rect x="30.00" y="620.57" width="0.60" height="0.12" fill="#2a9a2a" /><rect x="30.00" y="620.69" width="0.60" height="0.11" fill="#2a9a2a" /><rect x="30.60" y="619.82" width="0.60" height="0.46" fill="#ee7a18" /><rect x="30.60" y="620.28" width="0.60" height="0.28" fill="#ee7a18" /><rect x="30.60" y="620.57" width="0.60" height="0.23" fill="#e2261e" /><rect x="31.20" y="619.63" width="0.60" height="0.45" fill="#e2261e" /><rect x="31.20" y="620.08" width="0.60" height="0.35" fill="#2a44d0" /><rect x="31.20" y="620.43" width="0.60" height="0.37" fill="#2a9a2a" /><rect x="31.80" y="619.19" width="0.60" height="0.81" fill="#e2261e" /><rect x="31.80" y="620.00" width="0.60" height="0.36" fill="#8a2bd0" /><rect x="31.80" y="620.36" width="0.60" height="0.44" fill="#2a9a2a" /><rect x="32.40" y="618.56" width="0.60" height="0.86" fill="#e2261e" /><rect x="32.40" y="619.43" width="0.60" height="0.66" fill="#e2261e" /><rect x="32.40" y="620.09" width="0.60" height="0.71" fill="#e2261e" /><rect x="33.00" y="617.90" width="0.60" height="1.04" fill="#e2261e" /><rect x="33.00" y="618.94" width="0.60" height="1.03" fill="#ee7a18" /><rect x="33.00" y="619.97" width="0.60" height="0.83" fill="#2a9a2a" /><rect x="33.60" y="618.01" width="0.60" height="1.17" fill="#e2261e" /><rect x="33.60" y="619.18" width="0.60" height="1.02" fill="#2a44d0" /><rect x="33.60" y="620.20" width="0.60" height="0.60" fill="#2a9a2a" /><rect x="34.20" y="616.92" width="0.60" height="1.56" fill="#ee7a18" /><rect x="34.20" y="618.48" width="0.60" height="1.06" fill="#ee7a18" /><rect x="34.20" y="619.54" width="0.60" height="1.26" fill="#e2261e" /><rect x="34.80" y="617.01" width="0.60" height="1.60" fill="#e2261e" /><rect x="34.80" y="618.61" width="0.60" height="0.96" fill="#2a9a2a" /><rect x="34.80" y="619.57" width="0.60" height="1.23" fill="#e2261e" /><rect x="35.40" y="616.95" width="0.60" height="1.22" fill="#e2261e" /><rect x="35.40" y="618.17" width="0.60" height="1.23" fill="#ee7a18" /><rect x="35.40" y="619.40" width="0.60" height="1.40" fill="#2a44d0" /><rect x="36.00" y="615.87" width="0.60" height="2.24" fill="#e2261e" /><rect x="36.00" y="618.12" width="0.60" height="1.16" fill="#2a44d0" /><rect x="36.00" y="619.28" width="0.60" height="1.52" fill="#2a44d0" /><rect x="36.60" y="615.71" width="0.60" height="2.29" fill="#e2261e" /><rect x="36.60" y="618.00" width="0.60" height="1.33" fill="#2a9a2a" /><rect x="36.60" y="619.33" width="0.60" height="1.47" fill="#2a9a2a" /><rect x="37.20" y="614.44" width="0.60" height="2.19" fill="#e2261e" /><rect x="37.20" y="616.62" width="0.60" height="1.82" fill="#e2261e" /><rect x="37.20" y="618.44" width="0.60" height="2.36" fill="#2a9a2a" /><rect x="37.80" y="614.77" width="0.60" height="3.30" fill="#e2261e" /><rect x="37.80" y="618.07" width="0.60" height="2.37" fill="#2a44d0" /><rect x="37.80" y="620.44" width="0.60" height="0.36" fill="#e2261e" /><rect x="38.40" y="614.17" width="0.60" height="3.10" fill="#e2261e" /><rect x="38.40" y="617.26" width="0.60" height="2.57" fill="#2a9a2a" /><rect x="38.40" y="619.83" width="0.60" height="0.97" fill="#2a9a2a" /><rect x="39.00" y="613.85" width="0.60" height="2.79" fill="#e2261e" /><rect x="39.00" y="616.64" width="0.60" height="2.42" fill="#2a44d0" /><rect x="39.00" y="619.06" width="0.60" height="1.74" fill="#2a9a2a" /><rect x="39.60" y="612.61" width="0.60" height="3.80" fill="#e2261e" /><rect x="39.60" y="616.42" width="0.60" height="1.69" fill="#2a9a2a" /><rect x="39.60" y="618.11" width="0.60" height="2.69" fill="#e2261e" /><rect x="40.20" y="614.35" width="0.60" height="2.48" fill="#e2261e" /><rect x="40.20" y="616.83" width="0.60" height="2.45" fill="#8a2bd0" /><rect x="40.20" y="619.28" width="0.60" height="1.52" fill="#2a9a2a" /><rect x="40.80" y="613.32" width="0.60" height="4.04" fill="#ee7a18" /><rect x="40.80" y="617.36" width="0.60" height="2.28" fill="#e2261e" /><rect x="40.80" y="619.64" width="0.60" height="1.16" fill="#2a9a2a" /><rect x="41.40" y="611.38" width="0.60" height="3.69" fill="#e2261e" /><rect x="41.40" y="615.07" width="0.60" height="2.17" fill="#ee7a18" /><rect x="41.40" y="617.24" width="0.60" height="3.56" fill="#e2261e" /><rect x="42.00" y="612.44" width="0.60" height="4.39" fill="#e2261e" /><rect x="42.00" y="616.84" width="0.60" height="2.47" fill="#ee7a18" /><rect x="42.00" y="619.30" width="0.60" height="1.50" fill="#2a44d0" /><rect x="42.60" y="613.84" width="0.60" height="3.34" fill="#e2261e" /><rect x="42.60" y="617.18" width="0.60" height="1.93" fill="#e2261e" /><rect x="42.60" y="619.11" width="0.60" height="1.69" fill="#2a44d0" /><rect x="43.20" y="613.55" width="0.60" height="3.34" fill="#ee7a18" /><rect x="43.20" y="616.89" width="0.60" height="2.68" fill="#2a44d0" /><rect x="43.20" y="619.58" width="0.60" height="1.22" fill="#e2261e" /><rect x="43.80" y="613.17" width="0.60" height="3.84" fill="#e2261e" /><rect x="43.80" y="617.01" width="0.60" height="1.74" fill="#e2261e" /><rect x="43.80" y="618.74" width="0.60" height="2.06" fill="#e2261e" /><rect x="44.40" y="613.76" width="0.60" height="2.16" fill="#e2261e" /><rect x="44.40" y="615.91" width="0.60" height="2.04" fill="#e2261e" /><rect x="44.40" y="617.95" width="0.60" height="2.85" fill="#2a9a2a" /><rect x="45.00" y="611.97" width="0.60" height="2.93" fill="#e2261e" /><rect x="45.00" y="614.90" width="0.60" height="2.72" fill="#8a2bd0" /><rect x="45.00" y="617.61" width="0.60" height="3.19" fill="#e2261e" /><rect x="45.60" y="611.49" width="0.60" height="4.24" fill="#ee7a18" /><rect x="45.60" y="615.73" width="0.60" height="2.20" fill="#2a9a2a" /><rect x="45.60" y="617.93" width="0.60" height="2.87" fill="#2a9a2a" /><rect x="46.20" y="612.79" width="0.60" height="3.41" fill="#e2261e" /><rect x="46.20" y="616.21" width="0.60" height="2.80" fill="#e2261e" /><rect x="46.20" y="619.00" width="0.60" height="1.80" fill="#e2261e" /><rect x="46.80" y="613.73" width="0.60" height="2.23" fill="#e2261e" /><rect x="46.80" y="615.96" width="0.60" height="2.49" fill="#2a9a2a" /><rect x="46.80" y="618.46" width="0.60" height="2.34" fill="#2a44d0" /><rect x="47.40" y="612.85" width="0.60" height="3.59" fill="#e2261e" /><rect x="47.40" y="616.44" width="0.60" height="2.78" fill="#8a2bd0" /><rect x="47.40" y="619.21" width="0.60" height="1.59" fill="#2a9a2a" /><rect x="48.00" y="613.44" width="0.60" height="3.86" fill="#ee7a18" /><rect x="48.00" y="617.31" width="0.60" height="1.91" fill="#ee7a18" /><rect x="48.00" y="619.21" width="0.60" height="1.59" fill="#2a9a2a" /><rect x="48.60" y="612.27" width="0.60" height="2.69" fill="#e2261e" /><rect x="48.60" y="614.96" width="0.60" height="2.72" fill="#ee7a18" /><rect x="48.60" y="617.68" width="0.60" height="3.12" fill="#2a44d0" /><rect x="49.20" y="612.73" width="0.60" height="3.68" fill="#e2261e" /><rect x="49.20" y="616.41" width="0.60" height="2.84" fill="#e2261e" /><rect x="49.20" y="619.25" width="0.60" height="1.55" fill="#2a44d0" /><rect x="49.80" y="611.90" width="0.60" height="3.46" fill="#ee7a18" /><rect x="49.80" y="615.36" width="0.60" height="2.35" fill="#e2261e" /><rect x="49.80" y="617.71" width="0.60" height="3.09" fill="#2a9a2a" /><rect x="50.40" y="613.31" width="0.60" height="3.42" fill="#ee7a18" /><rect x="50.40" y="616.73" width="0.60" height="2.71" fill="#ee7a18" /><rect x="50.40" y="619.44" width="0.60" height="1.36" fill="#2a9a2a" /><rect x="51.00" y="613.42" width="0.60" height="3.52" fill="#ee7a18" /><rect x="51.00" y="616.94" width="0.60" height="2.17" fill="#8a2bd0" /><rect x="51.00" y="619.11" width="0.60" height="1.69" fill="#2a9a2a" /><rect x="51.60" y="613.72" width="0.60" height="2.21" fill="#e2261e" /><rect x="51.60" y="615.93" width="0.60" height="2.03" fill="#2a44d0" /><rect x="51.60" y="617.96" width="0.60" height="2.84" fill="#e2261e" /><rect x="52.20" y="611.98" width="0.60" height="3.65" fill="#ee7a18" /><rect x="52.20" y="615.63" width="0.60" height="2.18" fill="#2a44d0" /><rect x="52.20" y="617.81" width="0.60" height="2.99" fill="#e2261e" /><rect x="52.80" y="612.84" width="0.60" height="4.21" fill="#e2261e" /><rect x="52.80" y="617.05" width="0.60" height="2.63" fill="#8a2bd0" /><rect x="52.80" y="619.68" width="0.60" height="1.12" fill="#2a9a2a" /><rect x="53.40" y="612.77" width="0.60" height="3.85" fill="#ee7a18" /><rect x="53.40" y="616.62" width="0.60" height="3.04" fill="#ee7a18" /><rect x="53.40" y="619.65" width="0.60" height="1.15" fill="#2a44d0" /><rect x="54.00" y="613.98" width="0.60" height="3.61" fill="#ee7a18" /><rect x="54.00" y="617.59" width="0.60" height="1.89" fill="#ee7a18" /><rect x="54.00" y="619.48" width="0.60" height="1.32" fill="#2a9a2a" /><rect x="54.60" y="614.38" width="0.60" height="2.25" fill="#e2261e" /><rect x="54.60" y="616.63" width="0.60" height="2.41" fill="#e2261e" /><rect x="54.60" y="619.04" width="0.60" height="1.76" fill="#2a9a2a" /><rect x="55.20" y="614.12" width="0.60" height="2.51" fill="#ee7a18" /><rect x="55.20" y="616.63" width="0.60" height="2.60" fill="#e2261e" /><rect x="55.20" y="619.23" width="0.60" height="1.57" fill="#2a9a2a" /><rect x="55.80" y="612.12" width="0.60" height="3.05" fill="#e2261e" /><rect x="55.80" y="615.17" width="0.60" height="2.32" fill="#2a44d0" /><rect x="55.80" y="617.49" width="0.60" height="3.31" fill="#2a9a2a" /><rect x="56.40" y="611.23" width="0.60" height="3.64" fill="#e2261e" /><rect x="56.40" y="614.87" width="0.60" height="2.40" fill="#ee7a18" /><rect x="56.40" y="617.27" width="0.60" height="3.53" fill="#2a9a2a" /><rect x="57.00" y="613.18" width="0.60" height="3.60" fill="#e2261e" /><rect x="57.00" y="616.78" width="0.60" height="2.62" fill="#8a2bd0" /><rect x="57.00" y="619.39" width="0.60" height="1.41" fill="#e2261e" /><rect x="57.60" y="613.58" width="0.60" height="3.00" fill="#e2261e" /><rect x="57.60" y="616.58" width="0.60" height="2.40" fill="#8a2bd0" /><rect x="57.60" y="618.98" width="0.60" height="1.82" fill="#2a44d0" /><rect x="58.20" y="614.50" width="0.60" height="3.42" fill="#e2261e" /><rect x="58.20" y="617.93" width="0.60" height="1.53" fill="#2a44d0" /><rect x="58.20" y="619.46" width="0.60" height="1.34" fill="#2a9a2a" /><rect x="58.80" y="614.23" width="0.60" height="2.93" fill="#ee7a18" /><rect x="58.80" y="617.15" width="0.60" height="1.84" fill="#8a2bd0" /><rect x="58.80" y="618.99" width="0.60" height="1.81" fill="#2a9a2a" /><rect x="59.40" y="611.64" width="0.60" height="4.91" fill="#e2261e" /><rect x="59.40" y="616.54" width="0.60" height="2.10" fill="#2a9a2a" /><rect x="59.40" y="618.65" width="0.60" height="2.15" fill="#e2261e" /><rect x="60.00" y="612.51" width="0.60" height="2.49" fill="#ee7a18" /><rect x="60.00" y="615.00" width="0.60" height="1.93" fill="#ee7a18" /><rect x="60.00" y="616.94" width="0.60" height="3.86" fill="#2a9a2a" /><rect x="60.60" y="612.93" width="0.60" height="3.18" fill="#e2261e" /><rect x="60.60" y="616.11" width="0.60" height="2.96" fill="#2a9a2a" /><rect x="60.60" y="619.08" width="0.60" height="1.72" fill="#e2261e" /><rect x="61.20" y="612.54" width="0.60" height="2.51" fill="#e2261e" /><rect x="61.20" y="615.05" width="0.60" height="2.61" fill="#8a2bd0" /><rect x="61.20" y="617.67" width="0.60" height="3.13" fill="#2a9a2a" /><rect x="61.80" y="614.39" width="0.60" height="2.72" fill="#ee7a18" /><rect x="61.80" y="617.11" width="0.60" height="1.96" fill="#8a2bd0" /><rect x="61.80" y="619.07" width="0.60" height="1.73" fill="#2a44d0" /><rect x="62.40" y="613.77" width="0.60" height="2.38" fill="#e2261e" /><rect x="62.40" y="616.15" width="0.60" height="1.81" fill="#e2261e" /><rect x="62.40" y="617.96" width="0.60" height="2.84" fill="#2a9a2a" /><rect x="63.00" y="613.38" width="0.60" height="2.41" fill="#e2261e" /><rect x="63.00" y="615.79" width="0.60" height="2.71" fill="#2a44d0" /><rect x="63.00" y="618.50" width="0.60" height="2.30" fill="#2a44d0" /><rect x="63.60" y="613.21" width="0.60" height="2.35" fill="#ee7a18" /><rect x="63.60" y="615.56" width="0.60" height="2.27" fill="#2a9a2a" /><rect x="63.60" y="617.83" width="0.60" height="2.97" fill="#2a9a2a" /><rect x="64.20" y="612.92" width="0.60" height="4.20" fill="#ee7a18" /><rect x="64.20" y="617.12" width="0.60" height="2.43" fill="#2a9a2a" /><rect x="64.20" y="619.54" width="0.60" height="1.26" fill="#2a9a2a" /><rect x="64.80" y="611.14" width="0.60" height="4.16" fill="#e2261e" /><rect x="64.80" y="615.31" width="0.60" height="2.08" fill="#2a9a2a" /><rect x="64.80" y="617.39" width="0.60" height="3.41" fill="#2a9a2a" /><rect x="65.40" y="610.77" width="0.60" height="4.53" fill="#e2261e" /><rect x="65.40" y="615.30" width="0.60" height="3.28" fill="#e2261e" /><rect x="65.40" y="618.58" width="0.60" height="2.22" fill="#2a44d0" /><rect x="66.00" y="610.99" width="0.60" height="3.34" fill="#e2261e" /><rect x="66.00" y="614.33" width="0.60" height="3.63" fill="#2a44d0" /><rect x="66.00" y="617.96" width="0.60" height="2.84" fill="#2a9a2a" /><rect x="66.60" y="611.79" width="0.60" height="4.45" fill="#e2261e" /><rect x="66.60" y="616.25" width="0.60" height="3.43" fill="#2a44d0" /><rect x="66.60" y="619.67" width="0.60" height="1.13" fill="#e2261e" /><rect x="67.20" y="612.14" width="0.60" height="3.60" fill="#e2261e" /><rect x="67.20" y="615.74" width="0.60" height="2.94" fill="#e2261e" /><rect x="67.20" y="618.68" width="0.60" height="2.12" fill="#2a44d0" /><rect x="67.80" y="612.55" width="0.60" height="3.02" fill="#ee7a18" /><rect x="67.80" y="615.57" width="0.60" height="1.69" fill="#2a9a2a" /><rect x="67.80" y="617.26" width="0.60" height="3.54" fill="#2a9a2a" /><rect x="68.40" y="611.19" width="0.60" height="4.17" fill="#e2261e" /><rect x="68.40" y="615.36" width="0.60" height="3.62" fill="#2a9a2a" /><rect x="68.40" y="618.98" width="0.60" height="1.82" fill="#2a44d0" /><rect x="69.00" y="611.91" width="0.60" height="4.31" fill="#e2261e" /><rect x="69.00" y="616.22" width="0.60" height="3.35" fill="#e2261e" /><rect x="69.00" y="619.57" width="0.60" height="1.23" fill="#2a9a2a" /><rect x="69.60" y="613.04" width="0.60" height="2.67" fill="#e2261e" /><rect x="69.60" y="615.71" width="0.60" height="2.39" fill="#ee7a18" /><rect x="69.60" y="618.10" width="0.60" height="2.70" fill="#2a9a2a" /><rect x="70.20" y="612.05" width="0.60" height="4.62" fill="#e2261e" /><rect x="70.20" y="616.67" width="0.60" height="3.42" fill="#2a9a2a" /><rect x="70.20" y="620.09" width="0.60" height="0.71" fill="#2a9a2a" /><rect x="70.80" y="612.97" width="0.60" height="3.39" fill="#e2261e" /><rect x="70.80" y="616.36" width="0.60" height="2.14" fill="#e2261e" /><rect x="70.80" y="618.51" width="0.60" height="2.29" fill="#2a9a2a" /><rect x="71.40" y="612.86" width="0.60" height="3.23" fill="#ee7a18" /><rect x="71.40" y="616.08" width="0.60" height="2.61" fill="#2a9a2a" /><rect x="71.40" y="618.69" width="0.60" height="2.11" fill="#2a9a2a" /><rect x="72.00" y="613.41" width="0.60" height="3.01" fill="#ee7a18" /><rect x="72.00" y="616.42" width="0.60" height="2.04" fill="#8a2bd0" /><rect x="72.00" y="618.46" width="0.60" height="2.34" fill="#2a44d0" /><rect x="72.60" y="614.46" width="0.60" height="3.26" fill="#e2261e" /><rect x="72.60" y="617.72" width="0.60" height="1.53" fill="#ee7a18" /><rect x="72.60" y="619.25" width="0.60" height="1.55" fill="#e2261e" /><rect x="73.20" y="613.18" width="0.60" height="3.69" fill="#e2261e" /><rect x="73.20" y="616.87" width="0.60" height="2.64" fill="#8a2bd0" /><rect x="73.20" y="619.51" width="0.60" height="1.29" fill="#2a9a2a" /><rect x="73.80" y="613.37" width="0.60" height="2.24" fill="#e2261e" /><rect x="73.80" y="615.60" width="0.60" height="2.47" fill="#ee7a18" /><rect x="73.80" y="618.08" width="0.60" height="2.72" fill="#e2261e" /><rect x="74.40" y="613.08" width="0.60" height="2.75" fill="#ee7a18" /><rect x="74.40" y="615.84" width="0.60" height="2.68" fill="#e2261e" /><rect x="74.40" y="618.51" width="0.60" height="2.29" fill="#2a9a2a" /><rect x="75.00" y="612.53" width="0.60" height="4.19" fill="#ee7a18" /><rect x="75.00" y="616.72" width="0.60" height="2.48" fill="#2a44d0" /><rect x="75.00" y="619.20" width="0.60" height="1.60" fill="#e2261e" /><rect x="75.60" y="618.69" width="0.60" height="0.87" fill="#e2261e" /><rect x="75.60" y="619.56" width="0.60" height="0.73" fill="#2a44d0" /><rect x="75.60" y="620.28" width="0.60" height="0.52" fill="#2a9a2a" /><rect x="76.20" y="618.91" width="0.60" height="0.69" fill="#e2261e" /><rect x="76.20" y="619.60" width="0.60" height="0.67" fill="#2a9a2a" /><rect x="76.20" y="620.27" width="0.60" height="0.53" fill="#2a44d0" /><rect x="76.80" y="618.42" width="0.60" height="0.76" fill="#e2261e" /><rect x="76.80" y="619.18" width="0.60" height="0.62" fill="#2a9a2a" /><rect x="76.80" y="619.80" width="0.60" height="1.00" fill="#2a44d0" /><rect x="77.40" y="618.48" width="0.60" height="1.06" fill="#e2261e" /><rect x="77.40" y="619.53" width="0.60" height="0.77" fill="#2a9a2a" /><rect x="77.40" y="620.30" width="0.60" height="0.50" fill="#e2261e" /><rect x="78.00" y="617.61" width="0.60" height="1.35" fill="#e2261e" /><rect x="78.00" y="618.96" width="0.60" height="0.66" fill="#ee7a18" /><rect x="78.00" y="619.62" width="0.60" height="1.18" fill="#2a44d0" /><rect x="78.60" y="618.07" width="0.60" height="1.39" fill="#e2261e" /><rect x="78.60" y="619.47" width="0.60" height="0.70" fill="#8a2bd0" /><rect x="78.60" y="620.17" width="0.60" height="0.63" fill="#2a9a2a" /><rect x="79.20" y="618.16" width="0.60" height="1.37" fill="#e2261e" /><rect x="79.20" y="619.54" width="0.60" height="0.87" fill="#2a9a2a" /><rect x="79.20" y="620.41" width="0.60" height="0.39" fill="#e2261e" /><rect x="79.80" y="618.31" width="0.60" height="1.08" fill="#ee7a18" /><rect x="79.80" y="619.39" width="0.60" height="0.77" fill="#e2261e" /><rect x="79.80" y="620.16" width="0.60" height="0.64" fill="#2a44d0" /><rect x="80.40" y="618.90" width="0.60" height="0.76" fill="#ee7a18" /><rect x="80.40" y="619.66" width="0.60" height="0.55" fill="#ee7a18" /><rect x="80.40" y="620.21" width="0.60" height="0.59" fill="#2a9a2a" /><rect x="81.00" y="618.88" width="0.60" height="0.69" fill="#ee7a18" /><rect x="81.00" y="619.57" width="0.60" height="0.71" fill="#2a9a2a" /><rect x="81.00" y="620.28" width="0.60" height="0.52" fill="#2a9a2a" /><rect x="81.60" y="618.74" width="0.60" height="0.70" fill="#e2261e" /><rect x="81.60" y="619.44" width="0.60" height="0.42" fill="#2a44d0" /><rect x="81.60" y="619.86" width="0.60" height="0.94" fill="#2a44d0" /><rect x="82.20" y="618.37" width="0.60" height="1.31" fill="#e2261e" /><rect x="82.20" y="619.68" width="0.60" height="0.71" fill="#2a9a2a" /><rect x="82.20" y="620.39" width="0.60" height="0.41" fill="#2a9a2a" /><rect x="82.80" y="617.74" width="0.60" height="1.57" fill="#e2261e" /><rect x="82.80" y="619.31" width="0.60" height="0.75" fill="#2a9a2a" /><rect x="82.80" y="620.05" width="0.60" height="0.75" fill="#2a9a2a" /><rect x="83.40" y="617.58" width="0.60" height="1.07" fill="#e2261e" /><rect x="83.40" y="618.64" width="0.60" height="0.72" fill="#ee7a18" /><rect x="83.40" y="619.37" width="0.60" height="1.43" fill="#2a9a2a" /><rect x="84.00" y="618.18" width="0.60" height="0.95" fill="#e2261e" /><rect x="84.00" y="619.12" width="0.60" height="0.84" fill="#2a9a2a" /><rect x="84.00" y="619.96" width="0.60" height="0.84" fill="#2a9a2a" /><rect x="84.60" y="618.32" width="0.60" height="1.23" fill="#e2261e" /><rect x="84.60" y="619.55" width="0.60" height="0.96" fill="#8a2bd0" /><rect x="84.60" y="620.51" width="0.60" height="0.29" fill="#2a44d0" /><rect x="85.20" y="618.44" width="0.60" height="1.19" fill="#ee7a18" /><rect x="85.20" y="619.62" width="0.60" height="0.80" fill="#e2261e" /><rect x="85.20" y="620.42" width="0.60" height="0.38" fill="#e2261e" /><rect x="85.80" y="619.08" width="0.60" height="0.69" fill="#ee7a18" /><rect x="85.80" y="619.77" width="0.60" height="0.62" fill="#2a9a2a" /><rect x="85.80" y="620.39" width="0.60" height="0.41" fill="#2a9a2a" /><rect x="86.40" y="618.44" width="0.60" height="0.75" fill="#ee7a18" /><rect x="86.40" y="619.20" width="0.60" height="0.93" fill="#2a44d0" /><rect x="86.40" y="620.12" width="0.60" height="0.68" fill="#2a9a2a" /><rect x="87.00" y="618.40" width="0.60" height="0.94" fill="#e2261e" /><rect x="87.00" y="619.34" width="0.60" height="0.72" fill="#8a2bd0" /><rect x="87.00" y="620.06" width="0.60" height="0.74" fill="#2a44d0" /><rect x="87.60" y="618.19" width="0.60" height="0.97" fill="#e2261e" /><rect x="87.60" y="619.16" width="0.60" height="0.57" fill="#2a9a2a" /><rect x="87.60" y="619.73" width="0.60" height="1.07" fill="#2a9a2a" /><rect x="88.20" y="617.83" width="0.60" height="1.18" fill="#ee7a18" /><rect x="88.20" y="619.01" width="0.60" height="0.75" fill="#2a9a2a" /><rect x="88.20" y="619.77" width="0.60" height="1.03" fill="#2a9a2a" /><rect x="88.80" y="617.94" width="0.60" height="1.48" fill="#e2261e" /><rect x="88.80" y="619.42" width="0.60" height="0.81" fill="#8a2bd0" /><rect x="88.80" y="620.23" width="0.60" height="0.57" fill="#2a9a2a" /><rect x="89.40" y="618.22" width="0.60" height="1.01" fill="#ee7a18" /><rect x="89.40" y="619.23" width="0.60" height="0.62" fill="#2a44d0" /><rect x="89.40" y="619.85" width="0.60" height="0.95" fill="#2a44d0" /><rect x="90.00" y="618.70" width="0.60" height="1.03" fill="#e2261e" /><rect x="90.00" y="619.74" width="0.60" height="0.43" fill="#2a9a2a" /><rect x="90.00" y="620.16" width="0.60" height="0.64" fill="#2a9a2a" /><rect x="90.60" y="614.40" width="0.60" height="2.19" fill="#e2261e" /><rect x="90.60" y="616.58" width="0.60" height="2.51" fill="#2a9a2a" /><rect x="90.60" y="619.10" width="0.60" height="1.70" fill="#e2261e" /><rect x="91.20" y="612.92" width="0.60" height="3.06" fill="#e2261e" /><rect x="91.20" y="615.98" width="0.60" height="2.91" fill="#2a44d0" /><rect x="91.20" y="618.89" width="0.60" height="1.91" fill="#2a9a2a" /><rect x="91.80" y="610.37" width="0.60" height="4.38" fill="#e2261e" /><rect x="91.80" y="614.75" width="0.60" height="2.77" fill="#2a44d0" /><rect x="91.80" y="617.52" width="0.60" height="3.28" fill="#2a9a2a" /><rect x="92.40" y="608.78" width="0.60" height="4.35" fill="#e2261e" /><rect x="92.40" y="613.12" width="0.60" height="4.80" fill="#ee7a18" /><rect x="92.40" y="617.92" width="0.60" height="2.88" fill="#e2261e" /><rect x="93.00" y="610.58" width="0.60" height="5.06" fill="#e2261e" /><rect x="93.00" y="615.65" width="0.60" height="3.52" fill="#ee7a18" /><rect x="93.00" y="619.17" width="0.60" height="1.63" fill="#2a44d0" /><rect x="93.60" y="612.04" width="0.60" height="3.09" fill="#e2261e" /><rect x="93.60" y="615.13" width="0.60" height="3.48" fill="#e2261e" /><rect x="93.60" y="618.61" width="0.60" height="2.19" fill="#2a9a2a" /><rect x="94.20" y="613.76" width="0.60" height="3.56" fill="#ee7a18" /><rect x="94.20" y="617.32" width="0.60" height="2.79" fill="#ee7a18" /><rect x="94.20" y="620.11" width="0.60" height="0.69" fill="#2a9a2a" /><rect x="94.80" y="615.34" width="0.60" height="2.53" fill="#e2261e" /><rect x="94.80" y="617.87" width="0.60" height="1.56" fill="#2a9a2a" /><rect x="94.80" y="619.43" width="0.60" height="1.37" fill="#e2261e" /><rect x="95.40" y="616.77" width="0.60" height="1.93" fill="#e2261e" /><rect x="95.40" y="618.70" width="0.60" height="1.42" fill="#8a2bd0" /><rect x="95.40" y="620.11" width="0.60" height="0.69" fill="#2a9a2a" /><rect x="96.00" y="615.18" width="0.60" height="1.75" fill="#e2261e" /><rect x="96.00" y="616.93" width="0.60" height="1.84" fill="#2a9a2a" /><rect x="96.00" y="618.77" width="0.60" height="2.03" fill="#2a44d0" /><rect x="96.60" y="614.84" width="0.60" height="3.09" fill="#ee7a18" /><rect x="96.60" y="617.93" width="0.60" height="1.54" fill="#ee7a18" /><rect x="96.60" y="619.47" width="0.60" height="1.33" fill="#2a9a2a" /><rect x="97.20" y="616.05" width="0.60" height="1.43" fill="#e2261e" /><rect x="97.20" y="617.48" width="0.60" height="1.34" fill="#8a2bd0" /><rect x="97.20" y="618.82" width="0.60" height="1.98" fill="#2a44d0" /><rect x="97.80" y="616.05" width="0.60" height="1.74" fill="#e2261e" /><rect x="97.80" y="617.79" width="0.60" height="1.28" fill="#2a44d0" /><rect x="97.80" y="619.07" width="0.60" height="1.73" fill="#2a9a2a" /><rect x="98.40" y="617.05" width="0.60" height="1.89" fill="#e2261e" /><rect x="98.40" y="618.94" width="0.60" height="0.96" fill="#e2261e" /><rect x="98.40" y="619.90" width="0.60" height="0.90" fill="#2a44d0" /><rect x="99.00" y="618.22" width="0.60" height="1.28" fill="#e2261e" /><rect x="99.00" y="619.50" width="0.60" height="0.87" fill="#e2261e" /><rect x="99.00" y="620.38" width="0.60" height="0.42" fill="#2a9a2a" /><rect x="99.60" y="618.81" width="0.60" height="0.88" fill="#e2261e" /><rect x="99.60" y="619.69" width="0.60" height="0.62" fill="#2a44d0" /><rect x="99.60" y="620.31" width="0.60" height="0.49" fill="#2a9a2a" /><rect x="100.20" y="618.79" width="0.60" height="0.70" fill="#e2261e" /><rect x="100.20" y="619.49" width="0.60" height="0.47" fill="#8a2bd0" /><rect x="100.20" y="619.97" width="0.60" height="0.83" fill="#2a44d0" /><rect x="100.80" y="618.82" width="0.60" height="0.95" fill="#e2261e" /><rect x="100.80" y="619.77" width="0.60" height="0.55" fill="#e2261e" /><rect x="100.80" y="620.32" width="0.60" height="0.48" fill="#2a9a2a" /><rect x="101.40" y="618.47" width="0.60" height="0.83" fill="#e2261e" /><rect x="101.40" y="619.30" width="0.60" height="0.85" fill="#e2261e" /><rect x="101.40" y="620.15" width="0.60" height="0.65" fill="#e2261e" /><rect x="102.00" y="617.94" width="0.60" height="1.35" fill="#e2261e" /><rect x="102.00" y="619.29" width="0.60" height="1.02" fill="#ee7a18" /><rect x="102.00" y="620.31" width="0.60" height="0.49" fill="#e2261e" /><rect x="102.60" y="617.30" width="0.60" height="1.82" fill="#e2261e" /><rect x="102.60" y="619.12" width="0.60" height="1.34" fill="#ee7a18" /><rect x="102.60" y="620.46" width="0.60" height="0.34" fill="#e2261e" /><rect x="103.20" y="617.49" width="0.60" height="1.77" fill="#e2261e" /><rect x="103.20" y="619.25" width="0.60" height="1.20" fill="#ee7a18" /><rect x="103.20" y="620.46" width="0.60" height="0.34" fill="#2a9a2a" /><rect x="103.80" y="618.03" width="0.60" height="0.85" fill="#e2261e" /><rect x="103.80" y="618.88" width="0.60" height="0.73" fill="#e2261e" /><rect x="103.80" y="619.61" width="0.60" height="1.19" fill="#2a9a2a" /><rect x="104.40" y="618.40" width="0.60" height="1.31" fill="#e2261e" /><rect x="104.40" y="619.71" width="0.60" height="0.94" fill="#ee7a18" /><rect x="104.40" y="620.65" width="0.60" height="0.15" fill="#e2261e" /><rect x="105.00" y="618.91" width="0.60" height="0.85" fill="#ee7a18" /><rect x="105.00" y="619.76" width="0.60" height="0.53" fill="#8a2bd0" /><rect x="105.00" y="620.29" width="0.60" height="0.51" fill="#2a44d0" /><rect x="105.60" y="618.91" width="0.60" height="0.71" fill="#e2261e" /><rect x="105.60" y="619.62" width="0.60" height="0.67" fill="#2a44d0" /><rect x="105.60" y="620.28" width="0.60" height="0.52" fill="#2a9a2a" /><rect x="106.20" y="618.10" width="0.60" height="0.91" fill="#e2261e" /><rect x="106.20" y="619.00" width="0.60" height="1.04" fill="#ee7a18" /><rect x="106.20" y="620.04" width="0.60" height="0.76" fill="#2a44d0" /><rect x="106.80" y="617.73" width="0.60" height="1.22" fill="#e2261e" /><rect x="106.80" y="618.95" width="0.60" height="1.07" fill="#ee7a18" /><rect x="106.80" y="620.02" width="0.60" height="0.78" fill="#2a9a2a" /><rect x="107.40" y="617.36" width="0.60" height="1.58" fill="#ee7a18" /><rect x="107.40" y="618.94" width="0.60" height="1.30" fill="#2a44d0" /><rect x="107.40" y="620.24" width="0.60" height="0.56" fill="#e2261e" /><rect x="108.00" y="617.94" width="0.60" height="1.45" fill="#ee7a18" /><rect x="108.00" y="619.40" width="0.60" height="0.95" fill="#2a44d0" /><rect x="108.00" y="620.35" width="0.60" height="0.45" fill="#2a9a2a" /><rect x="108.60" y="618.03" width="0.60" height="1.05" fill="#ee7a18" /><rect x="108.60" y="619.08" width="0.60" height="0.90" fill="#ee7a18" /><rect x="108.60" y="619.97" width="0.60" height="0.83" fill="#e2261e" /><rect x="109.20" y="618.45" width="0.60" height="1.08" fill="#e2261e" /><rect x="109.20" y="619.52" width="0.60" height="0.91" fill="#2a9a2a" /><rect x="109.20" y="620.43" width="0.60" height="0.37" fill="#2a9a2a" /><rect x="109.80" y="618.60" width="0.60" height="0.95" fill="#e2261e" /><rect x="109.80" y="619.55" width="0.60" height="0.84" fill="#2a9a2a" /><rect x="109.80" y="620.39" width="0.60" height="0.41" fill="#2a44d0" /><rect x="110.40" y="618.58" width="0.60" height="0.93" fill="#e2261e" /><rect x="110.40" y="619.51" width="0.60" height="0.71" fill="#2a9a2a" /><rect x="110.40" y="620.22" width="0.60" height="0.58" fill="#2a44d0" /><rect x="111.00" y="618.64" width="0.60" height="0.97" fill="#e2261e" /><rect x="111.00" y="619.62" width="0.60" height="0.78" fill="#2a44d0" /><rect x="111.00" y="620.40" width="0.60" height="0.40" fill="#2a9a2a" /><rect x="111.60" y="618.17" width="0.60" height="1.14" fill="#e2261e" /><rect x="111.60" y="619.31" width="0.60" height="0.89" fill="#8a2bd0" /><rect x="111.60" y="620.20" width="0.60" height="0.60" fill="#e2261e" /><rect x="112.20" y="617.30" width="0.60" height="1.79" fill="#e2261e" /><rect x="112.20" y="619.09" width="0.60" height="0.98" fill="#8a2bd0" /><rect x="112.20" y="620.07" width="0.60" height="0.73" fill="#2a9a2a" /><rect x="112.80" y="618.14" width="0.60" height="0.99" fill="#e2261e" /><rect x="112.80" y="619.14" width="0.60" height="0.73" fill="#2a44d0" /><rect x="112.80" y="619.87" width="0.60" height="0.93" fill="#e2261e" /><rect x="113.40" y="618.13" width="0.60" height="1.19" fill="#e2261e" /><rect x="113.40" y="619.33" width="0.60" height="1.01" fill="#2a44d0" /><rect x="113.40" y="620.33" width="0.60" height="0.47" fill="#2a44d0" /><rect x="114.00" y="618.64" width="0.60" height="0.83" fill="#e2261e" /><rect x="114.00" y="619.47" width="0.60" height="0.62" fill="#2a44d0" /><rect x="114.00" y="620.09" width="0.60" height="0.71" fill="#2a9a2a" /><rect x="114.60" y="618.60" width="0.60" height="0.79" fill="#e2261e" /><rect x="114.60" y="619.39" width="0.60" height="0.52" fill="#2a9a2a" /><rect x="114.60" y="619.91" width="0.60" height="0.89" fill="#2a9a2a" /><rect x="115.20" y="618.63" width="0.60" height="0.75" fill="#e2261e" /><rect x="115.20" y="619.37" width="0.60" height="0.69" fill="#e2261e" /><rect x="115.20" y="620.07" width="0.60" height="0.73" fill="#2a9a2a" /><rect x="115.80" y="618.20" width="0.60" height="1.09" fill="#e2261e" /><rect x="115.80" y="619.29" width="0.60" height="0.97" fill="#2a9a2a" /><rect x="115.80" y="620.26" width="0.60" height="0.54" fill="#e2261e" /><rect x="116.40" y="618.06" width="0.60" height="1.03" fill="#e2261e" /><rect x="116.40" y="619.09" width="0.60" height="0.98" fill="#2a9a2a" /><rect x="116.40" y="620.07" width="0.60" height="0.73" fill="#2a9a2a" /><rect x="117.00" y="617.35" width="0.60" height="1.36" fill="#e2261e" /><rect x="117.00" y="618.72" width="0.60" height="1.12" fill="#8a2bd0" /><rect x="117.00" y="619.84" width="0.60" height="0.96" fill="#e2261e" /><rect x="117.60" y="617.88" width="0.60" height="1.37" fill="#e2261e" /><rect x="117.60" y="619.25" width="0.60" height="0.70" fill="#e2261e" /><rect x="117.60" y="619.95" width="0.60" height="0.85" fill="#2a9a2a" /><rect x="118.20" y="617.77" width="0.60" height="0.94" fill="#e2261e" /><rect x="118.20" y="618.71" width="0.60" height="1.19" fill="#ee7a18" /><rect x="118.20" y="619.90" width="0.60" height="0.90" fill="#e2261e" /><rect x="118.80" y="618.38" width="0.60" height="1.02" fill="#ee7a18" /><rect x="118.80" y="619.39" width="0.60" height="0.53" fill="#e2261e" /><rect x="118.80" y="619.92" width="0.60" height="0.88" fill="#2a44d0" /><rect x="119.40" y="619.00" width="0.60" height="0.77" fill="#e2261e" /><rect x="119.40" y="619.77" width="0.60" height="0.39" fill="#8a2bd0" /><rect x="119.40" y="620.17" width="0.60" height="0.63" fill="#e2261e" /><rect x="120.00" y="618.83" width="0.60" height="0.81" fill="#e2261e" /><rect x="120.00" y="619.64" width="0.60" height="0.58" fill="#ee7a18" /><rect x="120.00" y="620.23" width="0.60" height="0.57" fill="#2a9a2a" /><rect x="120.60" y="618.49" width="0.60" height="1.06" fill="#e2261e" /><rect x="120.60" y="619.56" width="0.60" height="0.49" fill="#2a9a2a" /><rect x="120.60" y="620.04" width="0.60" height="0.76" fill="#e2261e" /><rect x="121.20" y="618.16" width="0.60" height="1.17" fill="#e2261e" /><rect x="121.20" y="619.33" width="0.60" height="0.82" fill="#8a2bd0" /><rect x="121.20" y="620.16" width="0.60" height="0.64" fill="#e2261e" /><rect x="121.80" y="617.40" width="0.60" height="1.78" fill="#e2261e" /><rect x="121.80" y="619.18" width="0.60" height="1.28" fill="#2a44d0" /><rect x="121.80" y="620.45" width="0.60" height="0.35" fill="#2a44d0" /><rect x="122.40" y="617.48" width="0.60" height="1.23" fill="#ee7a18" /><rect x="122.40" y="618.71" width="0.60" height="1.21" fill="#e2261e" /><rect x="122.40" y="619.92" width="0.60" height="0.88" fill="#2a9a2a" /><rect x="123.00" y="617.74" width="0.60" height="0.97" fill="#ee7a18" /><rect x="123.00" y="618.71" width="0.60" height="0.68" fill="#8a2bd0" /><rect x="123.00" y="619.40" width="0.60" height="1.40" fill="#2a44d0" /><rect x="123.60" y="618.35" width="0.60" height="1.33" fill="#e2261e" /><rect x="123.60" y="619.68" width="0.60" height="0.65" fill="#ee7a18" /><rect x="123.60" y="620.33" width="0.60" height="0.47" fill="#2a44d0" /><rect x="124.20" y="619.03" width="0.60" height="0.90" fill="#e2261e" /><rect x="124.20" y="619.94" width="0.60" height="0.42" fill="#2a9a2a" /><rect x="124.20" y="620.35" width="0.60" height="0.45" fill="#2a44d0" /><rect x="124.80" y="618.73" width="0.60" height="0.90" fill="#ee7a18" /><rect x="124.80" y="619.62" width="0.60" height="0.82" fill="#8a2bd0" /><rect x="124.80" y="620.44" width="0.60" height="0.36" fill="#2a9a2a" /><rect x="125.40" y="618.22" width="0.60" height="1.26" fill="#ee7a18" /><rect x="125.40" y="619.48" width="0.60" height="0.59" fill="#8a2bd0" /><rect x="125.40" y="620.07" width="0.60" height="0.73" fill="#2a9a2a" /><rect x="126.00" y="618.08" width="0.60" height="0.97" fill="#e2261e" /><rect x="126.00" y="619.05" width="0.60" height="0.69" fill="#e2261e" /><rect x="126.00" y="619.74" width="0.60" height="1.06" fill="#2a9a2a" /><rect x="126.60" y="617.60" width="0.60" height="1.12" fill="#ee7a18" /><rect x="126.60" y="618.72" width="0.60" height="0.85" fill="#ee7a18" /><rect x="126.60" y="619.58" width="0.60" height="1.22" fill="#2a9a2a" /><rect x="127.20" y="617.68" width="0.60" height="1.66" fill="#e2261e" /><rect x="127.20" y="619.34" width="0.60" height="0.80" fill="#ee7a18" /><rect x="127.20" y="620.14" width="0.60" height="0.66" fill="#2a44d0" /><rect x="127.80" y="617.79" width="0.60" height="1.48" fill="#e2261e" /><rect x="127.80" y="619.27" width="0.60" height="0.62" fill="#8a2bd0" /><rect x="127.80" y="619.89" width="0.60" height="0.91" fill="#e2261e" /><rect x="128.40" y="618.55" width="0.60" height="0.71" fill="#e2261e" /><rect x="128.40" y="619.26" width="0.60" height="0.89" fill="#e2261e" /><rect x="128.40" y="620.15" width="0.60" height="0.65" fill="#2a9a2a" /><rect x="129.00" y="618.79" width="0.60" height="0.67" fill="#ee7a18" /><rect x="129.00" y="619.46" width="0.60" height="0.79" fill="#2a44d0" /><rect x="129.00" y="620.25" width="0.60" height="0.55" fill="#e2261e" /><rect x="129.60" y="618.70" width="0.60" height="1.11" fill="#e2261e" /><rect x="129.60" y="619.81" width="0.60" height="0.67" fill="#e2261e" /><rect x="129.60" y="620.47" width="0.60" height="0.33" fill="#2a44d0" /><rect x="130.20" y="618.34" width="0.60" height="0.93" fill="#e2261e" /><rect x="130.20" y="619.27" width="0.60" height="0.85" fill="#ee7a18" /><rect x="130.20" y="620.11" width="0.60" height="0.69" fill="#2a9a2a" /><rect x="130.80" y="617.99" width="0.60" height="1.42" fill="#e2261e" /><rect x="130.80" y="619.42" width="0.60" height="0.85" fill="#8a2bd0" /><rect x="130.80" y="620.26" width="0.60" height="0.54" fill="#2a9a2a" /><rect x="131.40" y="617.50" width="0.60" height="1.80" fill="#e2261e" /><rect x="131.40" y="619.30" width="0.60" height="0.83" fill="#ee7a18" /><rect x="131.40" y="620.13" width="0.60" height="0.67" fill="#2a44d0" /><rect x="132.00" y="617.82" width="0.60" height="1.25" fill="#e2261e" /><rect x="132.00" y="619.07" width="0.60" height="1.14" fill="#8a2bd0" /><rect x="132.00" y="620.21" width="0.60" height="0.59" fill="#2a44d0" /><rect x="132.60" y="618.21" width="0.60" height="1.21" fill="#e2261e" /><rect x="132.60" y="619.42" width="0.60" height="0.63" fill="#8a2bd0" /><rect x="132.60" y="620.05" width="0.60" height="0.75" fill="#e2261e" /><rect x="133.20" y="618.21" width="0.60" height="0.88" fill="#ee7a18" /><rect x="133.20" y="619.09" width="0.60" height="0.79" fill="#2a44d0" /><rect x="133.20" y="619.89" width="0.60" height="0.91" fill="#2a9a2a" /><rect x="133.80" y="618.98" width="0.60" height="0.66" fill="#e2261e" /><rect x="133.80" y="619.65" width="0.60" height="0.38" fill="#8a2bd0" /><rect x="133.80" y="620.02" width="0.60" height="0.78" fill="#2a9a2a" /><rect x="134.40" y="618.96" width="0.60" height="0.72" fill="#e2261e" /><rect x="134.40" y="619.68" width="0.60" height="0.54" fill="#2a9a2a" /><rect x="134.40" y="620.23" width="0.60" height="0.57" fill="#2a9a2a" /><rect x="135.00" y="618.42" width="0.60" height="0.88" fill="#e2261e" /><rect x="135.00" y="619.30" width="0.60" height="0.80" fill="#2a44d0" /><rect x="135.00" y="620.10" width="0.60" height="0.70" fill="#2a44d0" /><rect x="135.60" y="618.14" width="0.60" height="0.93" fill="#e2261e" /><rect x="135.60" y="619.08" width="0.60" height="0.97" fill="#2a44d0" /><rect x="135.60" y="620.04" width="0.60" height="0.76" fill="#2a9a2a" /><rect x="136.20" y="617.44" width="0.60" height="1.23" fill="#ee7a18" /><rect x="136.20" y="618.67" width="0.60" height="1.03" fill="#2a9a2a" /><rect x="136.20" y="619.70" width="0.60" height="1.10" fill="#2a44d0" /><rect x="136.80" y="617.84" width="0.60" height="1.30" fill="#e2261e" /><rect x="136.80" y="619.14" width="0.60" height="1.03" fill="#ee7a18" /><rect x="136.80" y="620.17" width="0.60" height="0.63" fill="#2a9a2a" /><rect x="137.40" y="617.80" width="0.60" height="1.02" fill="#ee7a18" /><rect x="137.40" y="618.81" width="0.60" height="1.01" fill="#ee7a18" /><rect x="137.40" y="619.82" width="0.60" height="0.98" fill="#2a9a2a" /><rect x="138.00" y="618.25" width="0.60" height="1.09" fill="#e2261e" /><rect x="138.00" y="619.35" width="0.60" height="0.73" fill="#2a9a2a" /><rect x="138.00" y="620.08" width="0.60" height="0.72" fill="#2a9a2a" /><rect x="138.60" y="618.87" width="0.60" height="0.64" fill="#ee7a18" /><rect x="138.60" y="619.51" width="0.60" height="0.60" fill="#2a44d0" /><rect x="138.60" y="620.11" width="0.60" height="0.69" fill="#2a44d0" /><rect x="139.20" y="618.86" width="0.60" height="0.64" fill="#e2261e" /><rect x="139.20" y="619.50" width="0.60" height="0.74" fill="#2a9a2a" /><rect x="139.20" y="620.24" width="0.60" height="0.56" fill="#2a44d0" /><rect x="139.80" y="618.55" width="0.60" height="1.05" fill="#e2261e" /><rect x="139.80" y="619.60" width="0.60" height="0.48" fill="#8a2bd0" /><rect x="139.80" y="620.08" width="0.60" height="0.72" fill="#2a44d0" /><rect x="140.40" y="618.13" width="0.60" height="1.46" fill="#e2261e" /><rect x="140.40" y="619.59" width="0.60" height="0.99" fill="#8a2bd0" /><rect x="140.40" y="620.58" width="0.60" height="0.22" fill="#2a9a2a" /><rect x="141.00" y="617.50" width="0.60" height="1.41" fill="#e2261e" /><rect x="141.00" y="618.91" width="0.60" height="1.30" fill="#ee7a18" /><rect x="141.00" y="620.22" width="0.60" height="0.58" fill="#e2261e" /><rect x="141.60" y="617.42" width="0.60" height="1.08" fill="#e2261e" /><rect x="141.60" y="618.50" width="0.60" height="0.79" fill="#2a9a2a" /><rect x="141.60" y="619.29" width="0.60" height="1.51" fill="#e2261e" /><rect x="142.20" y="617.80" width="0.60" height="1.55" fill="#ee7a18" /><rect x="142.20" y="619.34" width="0.60" height="0.93" fill="#8a2bd0" /><rect x="142.20" y="620.27" width="0.60" height="0.53" fill="#2a44d0" /><rect x="142.80" y="618.68" width="0.60" height="0.83" fill="#e2261e" /><rect x="142.80" y="619.52" width="0.60" height="0.66" fill="#ee7a18" /><rect x="142.80" y="620.18" width="0.60" height="0.62" fill="#2a9a2a" /><rect x="143.40" y="618.63" width="0.60" height="0.86" fill="#e2261e" /><rect x="143.40" y="619.48" width="0.60" height="0.73" fill="#ee7a18" /><rect x="143.40" y="620.21" width="0.60" height="0.59" fill="#2a9a2a" /><rect x="144.00" y="618.99" width="0.60" height="0.88" fill="#ee7a18" /><rect x="144.00" y="619.88" width="0.60" height="0.50" fill="#e2261e" /><rect x="144.00" y="620.38" width="0.60" height="0.42" fill="#2a9a2a" /><rect x="144.60" y="618.45" width="0.60" height="1.13" fill="#e2261e" /><rect x="144.60" y="619.58" width="0.60" height="0.49" fill="#8a2bd0" /><rect x="144.60" y="620.06" width="0.60" height="0.74" fill="#2a9a2a" /><rect x="145.20" y="617.79" width="0.60" height="1.42" fill="#e2261e" /><rect x="145.20" y="619.20" width="0.60" height="0.70" fill="#e2261e" /><rect x="145.20" y="619.90" width="0.60" height="0.90" fill="#e2261e" /><rect x="145.80" y="618.14" width="0.60" height="0.85" fill="#ee7a18" /><rect x="145.80" y="618.99" width="0.60" height="1.01" fill="#8a2bd0" /><rect x="145.80" y="620.00" width="0.60" height="0.80" fill="#2a9a2a" /><rect x="146.40" y="617.99" width="0.60" height="1.32" fill="#e2261e" /><rect x="146.40" y="619.31" width="0.60" height="1.07" fill="#2a9a2a" /><rect x="146.40" y="620.38" width="0.60" height="0.42" fill="#2a9a2a" /><rect x="147.00" y="617.61" width="0.60" height="1.41" fill="#e2261e" /><rect x="147.00" y="619.02" width="0.60" height="1.05" fill="#2a9a2a" /><rect x="147.00" y="620.07" width="0.60" height="0.73" fill="#2a9a2a" /><rect x="147.60" y="618.52" width="0.60" height="1.04" fill="#e2261e" /><rect x="147.60" y="619.56" width="0.60" height="0.74" fill="#2a44d0" /><rect x="147.60" y="620.30" width="0.60" height="0.50" fill="#2a9a2a" /><rect x="148.20" y="618.81" width="0.60" height="0.95" fill="#e2261e" /><rect x="148.20" y="619.77" width="0.60" height="0.42" fill="#ee7a18" /><rect x="148.20" y="620.19" width="0.60" height="0.61" fill="#e2261e" /><rect x="148.80" y="618.87" width="0.60" height="1.03" fill="#e2261e" /><rect x="148.80" y="619.90" width="0.60" height="0.40" fill="#e2261e" /><rect x="148.80" y="620.31" width="0.60" height="0.49" fill="#2a9a2a" /><rect x="149.40" y="618.69" width="0.60" height="0.89" fill="#e2261e" /><rect x="149.40" y="619.58" width="0.60" height="0.71" fill="#2a44d0" /><rect x="149.40" y="620.29" width="0.60" height="0.51" fill="#2a44d0" /><rect x="150.00" y="618.22" width="0.60" height="1.18" fill="#e2261e" /><rect x="150.00" y="619.40" width="0.60" height="0.99" fill="#2a44d0" /><rect x="150.00" y="620.39" width="0.60" height="0.41" fill="#2a9a2a" /><rect x="150.60" y="613.67" width="0.60" height="3.49" fill="#e2261e" /><rect x="150.60" y="617.17" width="0.60" height="2.67" fill="#e2261e" /><rect x="150.60" y="619.84" width="0.60" height="0.96" fill="#2a9a2a" /><rect x="151.20" y="613.33" width="0.60" height="4.05" fill="#e2261e" /><rect x="151.20" y="617.37" width="0.60" height="1.52" fill="#2a44d0" /><rect x="151.20" y="618.89" width="0.60" height="1.91" fill="#2a44d0" /><rect x="151.80" y="613.45" width="0.60" height="2.93" fill="#e2261e" /><rect x="151.80" y="616.38" width="0.60" height="1.68" fill="#2a9a2a" /><rect x="151.80" y="618.06" width="0.60" height="2.74" fill="#2a9a2a" /><rect x="152.40" y="612.37" width="0.60" height="2.80" fill="#ee7a18" /><rect x="152.40" y="615.17" width="0.60" height="3.23" fill="#ee7a18" /><rect x="152.40" y="618.40" width="0.60" height="2.40" fill="#2a9a2a" /><rect x="153.00" y="613.82" width="0.60" height="3.08" fill="#e2261e" /><rect x="153.00" y="616.90" width="0.60" height="1.62" fill="#2a44d0" /><rect x="153.00" y="618.52" width="0.60" height="2.28" fill="#2a9a2a" /><rect x="153.60" y="613.92" width="0.60" height="2.55" fill="#e2261e" /><rect x="153.60" y="616.47" width="0.60" height="1.89" fill="#e2261e" /><rect x="153.60" y="618.36" width="0.60" height="2.44" fill="#2a9a2a" /><rect x="154.20" y="614.03" width="0.60" height="3.04" fill="#e2261e" /><rect x="154.20" y="617.07" width="0.60" height="2.00" fill="#2a9a2a" /><rect x="154.20" y="619.08" width="0.60" height="1.72" fill="#e2261e" /><rect x="154.80" y="613.71" width="0.60" height="3.62" fill="#e2261e" /><rect x="154.80" y="617.34" width="0.60" height="1.67" fill="#8a2bd0" /><rect x="154.80" y="619.01" width="0.60" height="1.79" fill="#e2261e" /><rect x="155.40" y="613.66" width="0.60" height="3.69" fill="#e2261e" /><rect x="155.40" y="617.35" width="0.60" height="2.56" fill="#2a9a2a" /><rect x="155.40" y="619.91" width="0.60" height="0.89" fill="#e2261e" /><rect x="156.00" y="612.08" width="0.60" height="3.79" fill="#e2261e" /><rect x="156.00" y="615.87" width="0.60" height="2.88" fill="#e2261e" /><rect x="156.00" y="618.76" width="0.60" height="2.04" fill="#e2261e" /><rect x="156.60" y="612.62" width="0.60" height="3.93" fill="#e2261e" /><rect x="156.60" y="616.55" width="0.60" height="1.84" fill="#ee7a18" /><rect x="156.60" y="618.39" width="0.60" height="2.41" fill="#2a9a2a" /><rect x="157.20" y="613.50" width="0.60" height="2.54" fill="#e2261e" /><rect x="157.20" y="616.05" width="0.60" height="2.40" fill="#e2261e" /><rect x="157.20" y="618.44" width="0.60" height="2.36" fill="#2a9a2a" /><rect x="157.80" y="614.41" width="0.60" height="3.51" fill="#e2261e" /><rect x="157.80" y="617.92" width="0.60" height="1.71" fill="#8a2bd0" /><rect x="157.80" y="619.63" width="0.60" height="1.17" fill="#2a9a2a" /><rect x="158.40" y="613.36" width="0.60" height="2.85" fill="#e2261e" /><rect x="158.40" y="616.20" width="0.60" height="2.25" fill="#2a9a2a" /><rect x="158.40" y="618.45" width="0.60" height="2.35" fill="#2a44d0" /><rect x="159.00" y="612.38" width="0.60" height="3.80" fill="#e2261e" /><rect x="159.00" y="616.18" width="0.60" height="2.42" fill="#ee7a18" /><rect x="159.00" y="618.61" width="0.60" height="2.19" fill="#e2261e" /><rect x="159.60" y="611.42" width="0.60" height="5.11" fill="#e2261e" /><rect x="159.60" y="616.53" width="0.60" height="2.12" fill="#2a9a2a" /><rect x="159.60" y="618.65" width="0.60" height="2.15" fill="#e2261e" /><rect x="160.20" y="611.31" width="0.60" height="3.31" fill="#e2261e" /><rect x="160.20" y="614.62" width="0.60" height="3.41" fill="#2a9a2a" /><rect x="160.20" y="618.04" width="0.60" height="2.76" fill="#2a9a2a" /><rect x="160.80" y="611.50" width="0.60" height="3.11" fill="#e2261e" /><rect x="160.80" y="614.62" width="0.60" height="3.65" fill="#2a9a2a" /><rect x="160.80" y="618.27" width="0.60" height="2.53" fill="#e2261e" /><rect x="161.40" y="611.98" width="0.60" height="3.72" fill="#e2261e" /><rect x="161.40" y="615.71" width="0.60" height="1.82" fill="#2a9a2a" /><rect x="161.40" y="617.52" width="0.60" height="3.28" fill="#e2261e" /><rect x="162.00" y="613.02" width="0.60" height="2.50" fill="#e2261e" /><rect x="162.00" y="615.51" width="0.60" height="1.72" fill="#2a44d0" /><rect x="162.00" y="617.24" width="0.60" height="3.56" fill="#e2261e" /><rect x="162.60" y="613.65" width="0.60" height="3.04" fill="#ee7a18" /><rect x="162.60" y="616.69" width="0.60" height="2.80" fill="#2a9a2a" /><rect x="162.60" y="619.49" width="0.60" height="1.31" fill="#2a9a2a" /><rect x="163.20" y="612.89" width="0.60" height="3.52" fill="#e2261e" /><rect x="163.20" y="616.41" width="0.60" height="2.19" fill="#ee7a18" /><rect x="163.20" y="618.60" width="0.60" height="2.20" fill="#2a9a2a" /><rect x="163.80" y="613.10" width="0.60" height="3.84" fill="#e2261e" /><rect x="163.80" y="616.94" width="0.60" height="1.83" fill="#2a44d0" /><rect x="163.80" y="618.76" width="0.60" height="2.04" fill="#2a44d0" /><rect x="164.40" y="611.44" width="0.60" height="4.54" fill="#e2261e" /><rect x="164.40" y="615.98" width="0.60" height="3.61" fill="#ee7a18" /><rect x="164.40" y="619.58" width="0.60" height="1.22" fill="#2a44d0" /><rect x="165.00" y="612.29" width="0.60" height="3.38" fill="#e2261e" /><rect x="165.00" y="615.68" width="0.60" height="2.59" fill="#e2261e" /><rect x="165.00" y="618.27" width="0.60" height="2.53" fill="#e2261e" /><rect x="165.60" y="612.48" width="0.60" height="2.71" fill="#e2261e" /><rect x="165.60" y="615.18" width="0.60" height="2.54" fill="#2a44d0" /><rect x="165.60" y="617.73" width="0.60" height="3.07" fill="#2a44d0" /><rect x="166.20" y="613.78" width="0.60" height="3.01" fill="#e2261e" /><rect x="166.20" y="616.79" width="0.60" height="2.06" fill="#8a2bd0" /><rect x="166.20" y="618.85" width="0.60" height="1.95" fill="#2a9a2a" /><rect x="166.80" y="613.65" width="0.60" height="2.57" fill="#e2261e" /><rect x="166.80" y="616.22" width="0.60" height="1.45" fill="#e2261e" /><rect x="166.80" y="617.66" width="0.60" height="3.14" fill="#e2261e" /><rect x="167.40" y="611.80" width="0.60" height="3.73" fill="#e2261e" /><rect x="167.40" y="615.53" width="0.60" height="2.86" fill="#8a2bd0" /><rect x="167.40" y="618.38" width="0.60" height="2.42" fill="#e2261e" /><rect x="168.00" y="611.87" width="0.60" height="3.64" fill="#e2261e" /><rect x="168.00" y="615.51" width="0.60" height="3.43" fill="#2a9a2a" /><rect x="168.00" y="618.94" width="0.60" height="1.86" fill="#2a9a2a" /><rect x="168.60" y="611.18" width="0.60" height="4.17" fill="#e2261e" /><rect x="168.60" y="615.35" width="0.60" height="3.06" fill="#ee7a18" /><rect x="168.60" y="618.41" width="0.60" height="2.39" fill="#2a9a2a" /><rect x="169.20" y="611.56" width="0.60" height="3.34" fill="#e2261e" /><rect x="169.20" y="614.90" width="0.60" height="3.17" fill="#e2261e" /><rect x="169.20" y="618.06" width="0.60" height="2.74" fill="#e2261e" /><rect x="169.80" y="612.71" width="0.60" height="3.19" fill="#e2261e" /><rect x="169.80" y="615.89" width="0.60" height="1.65" fill="#2a44d0" /><rect x="169.80" y="617.54" width="0.60" height="3.26" fill="#e2261e" /><rect x="170.40" y="611.87" width="0.60" height="4.45" fill="#e2261e" /><rect x="170.40" y="616.32" width="0.60" height="2.06" fill="#8a2bd0" /><rect x="170.40" y="618.38" width="0.60" height="2.42" fill="#e2261e" /><rect x="171.00" y="612.18" width="0.60" height="3.09" fill="#e2261e" /><rect x="171.00" y="615.27" width="0.60" height="2.66" fill="#e2261e" /><rect x="171.00" y="617.93" width="0.60" height="2.87" fill="#e2261e" /><rect x="171.60" y="610.87" width="0.60" height="4.09" fill="#ee7a18" /><rect x="171.60" y="614.96" width="0.60" height="2.15" fill="#e2261e" /><rect x="171.60" y="617.11" width="0.60" height="3.69" fill="#e2261e" /><rect x="172.20" y="612.52" width="0.60" height="4.04" fill="#e2261e" /><rect x="172.20" y="616.56" width="0.60" height="2.95" fill="#2a9a2a" /><rect x="172.20" y="619.51" width="0.60" height="1.29" fill="#2a9a2a" /><rect x="172.80" y="609.97" width="0.60" height="5.24" fill="#e2261e" /><rect x="172.80" y="615.21" width="0.60" height="4.01" fill="#ee7a18" /><rect x="172.80" y="619.22" width="0.60" height="1.58" fill="#e2261e" /><rect x="173.40" y="611.90" width="0.60" height="4.72" fill="#ee7a18" /><rect x="173.40" y="616.62" width="0.60" height="1.79" fill="#2a44d0" /><rect x="173.40" y="618.41" width="0.60" height="2.39" fill="#e2261e" /><rect x="174.00" y="610.84" width="0.60" height="4.50" fill="#e2261e" /><rect x="174.00" y="615.34" width="0.60" height="2.90" fill="#ee7a18" /><rect x="174.00" y="618.25" width="0.60" height="2.55" fill="#2a44d0" /><rect x="174.60" y="611.24" width="0.60" height="5.01" fill="#e2261e" /><rect x="174.60" y="616.24" width="0.60" height="3.19" fill="#2a44d0" /><rect x="174.60" y="619.43" width="0.60" height="1.37" fill="#e2261e" /><rect x="175.20" y="612.46" width="0.60" height="4.20" fill="#e2261e" /><rect x="175.20" y="616.66" width="0.60" height="2.59" fill="#2a9a2a" /><rect x="175.20" y="619.25" width="0.60" height="1.55" fill="#2a9a2a" /><rect x="175.80" y="611.37" width="0.60" height="4.10" fill="#e2261e" /><rect x="175.80" y="615.47" width="0.60" height="3.45" fill="#2a9a2a" /><rect x="175.80" y="618.91" width="0.60" height="1.89" fill="#e2261e" /><rect x="176.40" y="611.47" width="0.60" height="4.65" fill="#ee7a18" /><rect x="176.40" y="616.12" width="0.60" height="2.09" fill="#2a9a2a" /><rect x="176.40" y="618.21" width="0.60" height="2.59" fill="#2a44d0" /><rect x="177.00" y="610.70" width="0.60" height="3.98" fill="#e2261e" /><rect x="177.00" y="614.67" width="0.60" height="3.65" fill="#2a9a2a" /><rect x="177.00" y="618.32" width="0.60" height="2.48" fill="#2a9a2a" /><rect x="177.60" y="611.71" width="0.60" height="3.59" fill="#ee7a18" /><rect x="177.60" y="615.30" width="0.60" height="3.16" fill="#2a9a2a" /><rect x="177.60" y="618.46" width="0.60" height="2.34" fill="#2a9a2a" /><rect x="178.20" y="610.31" width="0.60" height="4.38" fill="#ee7a18" /><rect x="178.20" y="614.69" width="0.60" height="3.37" fill="#2a9a2a" /><rect x="178.20" y="618.06" width="0.60" height="2.74" fill="#e2261e" /><rect x="178.80" y="612.86" width="0.60" height="2.63" fill="#e2261e" /><rect x="178.80" y="615.49" width="0.60" height="2.43" fill="#8a2bd0" /><rect x="178.80" y="617.92" width="0.60" height="2.88" fill="#2a9a2a" /><rect x="179.40" y="612.14" width="0.60" height="3.34" fill="#e2261e" /><rect x="179.40" y="615.48" width="0.60" height="1.91" fill="#2a9a2a" /><rect x="179.40" y="617.39" width="0.60" height="3.41" fill="#2a9a2a" /><rect x="180.00" y="612.41" width="0.60" height="3.47" fill="#e2261e" /><rect x="180.00" y="615.89" width="0.60" height="3.35" fill="#e2261e" /><rect x="180.00" y="619.24" width="0.60" height="1.56" fill="#2a44d0" /><rect x="180.60" y="609.62" width="0.60" height="5.31" fill="#e2261e" /><rect x="180.60" y="614.93" width="0.60" height="4.16" fill="#2a9a2a" /><rect x="180.60" y="619.08" width="0.60" height="1.72" fill="#e2261e" /><rect x="181.20" y="610.82" width="0.60" height="5.24" fill="#e2261e" /><rect x="181.20" y="616.06" width="0.60" height="2.33" fill="#2a44d0" /><rect x="181.20" y="618.38" width="0.60" height="2.42" fill="#e2261e" /><rect x="181.80" y="612.71" width="0.60" height="3.19" fill="#ee7a18" /><rect x="181.80" y="615.89" width="0.60" height="2.82" fill="#e2261e" /><rect x="181.80" y="618.72" width="0.60" height="2.08" fill="#e2261e" /><rect x="182.40" y="611.82" width="0.60" height="3.00" fill="#e2261e" /><rect x="182.40" y="614.82" width="0.60" height="3.57" fill="#e2261e" /><rect x="182.40" y="618.39" width="0.60" height="2.41" fill="#2a9a2a" /><rect x="183.00" y="613.39" width="0.60" height="2.64" fill="#e2261e" /><rect x="183.00" y="616.03" width="0.60" height="2.52" fill="#2a9a2a" /><rect x="183.00" y="618.55" width="0.60" height="2.25" fill="#e2261e" /><rect x="183.60" y="613.88" width="0.60" height="3.22" fill="#e2261e" /><rect x="183.60" y="617.11" width="0.60" height="2.43" fill="#ee7a18" /><rect x="183.60" y="619.53" width="0.60" height="1.27" fill="#e2261e" /><rect x="184.20" y="614.30" width="0.60" height="3.51" fill="#e2261e" /><rect x="184.20" y="617.82" width="0.60" height="1.33" fill="#e2261e" /><rect x="184.20" y="619.15" width="0.60" height="1.65" fill="#2a9a2a" /><rect x="184.80" y="616.11" width="0.60" height="1.92" fill="#e2261e" /><rect x="184.80" y="618.03" width="0.60" height="1.37" fill="#8a2bd0" /><rect x="184.80" y="619.40" width="0.60" height="1.40" fill="#2a9a2a" /><rect x="185.40" y="616.77" width="0.60" height="1.39" fill="#e2261e" /><rect x="185.40" y="618.16" width="0.60" height="1.23" fill="#2a44d0" /><rect x="185.40" y="619.39" width="0.60" height="1.41" fill="#e2261e" /><rect x="186.00" y="617.09" width="0.60" height="1.88" fill="#ee7a18" /><rect x="186.00" y="618.97" width="0.60" height="0.84" fill="#ee7a18" /><rect x="186.00" y="619.80" width="0.60" height="1.00" fill="#e2261e" /><rect x="186.60" y="617.46" width="0.60" height="1.10" fill="#e2261e" /><rect x="186.60" y="618.55" width="0.60" height="0.70" fill="#2a9a2a" /><rect x="186.60" y="619.25" width="0.60" height="1.55" fill="#2a44d0" /><rect x="187.20" y="618.57" width="0.60" height="1.01" fill="#e2261e" /><rect x="187.20" y="619.58" width="0.60" height="0.51" fill="#ee7a18" /><rect x="187.20" y="620.09" width="0.60" height="0.71" fill="#2a44d0" /><rect x="187.80" y="618.88" width="0.60" height="0.76" fill="#e2261e" /><rect x="187.80" y="619.64" width="0.60" height="0.42" fill="#2a9a2a" /><rect x="187.80" y="620.06" width="0.60" height="0.74" fill="#2a9a2a" /><rect x="188.40" y="619.61" width="0.60" height="0.46" fill="#e2261e" /><rect x="188.40" y="620.07" width="0.60" height="0.43" fill="#2a44d0" /><rect x="188.40" y="620.49" width="0.60" height="0.31" fill="#2a9a2a" /><rect x="189.00" y="620.40" width="0.60" height="0.21" fill="#e2261e" /><rect x="189.00" y="620.61" width="0.60" height="0.13" fill="#e2261e" /><rect x="189.00" y="620.74" width="0.60" height="0.06" fill="#2a9a2a" /></g>
<rect x="23.60" y="622.40" width="166.70" height="3.20" fill="#8b36e2" />
<text x="25.3" y="630.4" font-size="3.6" fill="#444" style="font-family:'Liberation Serif',serif">Leaf</text>
<rect x="76.00" y="626.60" width="74.40" height="29.60" fill="url(#gr)" />
<polygon points="50,627 75.8,627 75.8,655.5 68,655.5 65,649 62.5,641 60,634 57,630 50,628.4" fill="url(#rd2)"/>
<rect x="45.50" y="627.20" width="12.00" height="0.90" fill="#a070e8" />
<rect x="150.40" y="627.00" width="16.92" height="2.40" fill="#8a3fe0" />
<rect x="167.32" y="627.40" width="5.58" height="1.40" fill="#b88ef0" />
<rect x="150.40" y="630.60" width="12.46" height="2.40" fill="#8a3fe0" />
<rect x="162.86" y="631.00" width="7.66" height="1.40" fill="#b88ef0" />
<rect x="150.40" y="634.20" width="13.51" height="2.40" fill="#8a3fe0" />
<rect x="150.40" y="637.80" width="17.69" height="2.40" fill="#8a3fe0" />
<rect x="168.09" y="638.20" width="3.18" height="1.40" fill="#b88ef0" />
<rect x="150.40" y="641.40" width="15.43" height="2.40" fill="#8a3fe0" />
<rect x="150.40" y="645.00" width="17.83" height="2.40" fill="#8a3fe0" />
<rect x="150.40" y="648.60" width="18.79" height="2.40" fill="#8a3fe0" />
<rect x="169.19" y="649.00" width="2.99" height="1.40" fill="#b88ef0" />
<rect x="150.40" y="652.20" width="12.27" height="2.40" fill="#8a3fe0" />
<rect x="90.00" y="644.00" width="1.50" height="1.40" fill="#9a5ae6" />
<rect x="90.00" y="651.00" width="1.50" height="1.40" fill="#9a5ae6" />
<rect x="97.00" y="642.00" width="18.00" height="1.40" fill="#9a5ae6" />
<rect x="113.00" y="642.00" width="8.00" height="1.40" fill="#9a5ae6" />
<rect x="85.00" y="634.00" width="1.50" height="1.40" fill="#9a5ae6" />
<rect x="90.00" y="655.00" width="3.00" height="1.40" fill="#9a5ae6" />
<rect x="76.50" y="627.30" width="10.00" height="0.90" fill="#b08ae8" />
<rect x="98.00" y="627.30" width="12.00" height="0.90" fill="#b08ae8" />
<rect x="120.00" y="627.30" width="9.00" height="0.90" fill="#b08ae8" />
<rect x="71.80" y="627.50" width="1.40" height="27.00" fill="#3a1a55" />
<rect x="26.40" y="658.30" width="163.60" height="4.00" fill="url(#rd)" />
<rect x="190.00" y="658.80" width="11.24" height="1.50" fill="#b790f0" />
<rect x="27.20" y="662.30" width="161.80" height="4.00" fill="url(#rd)" />
<rect x="189.00" y="662.80" width="4.43" height="1.50" fill="#b790f0" />
<rect x="28.20" y="666.30" width="160.30" height="4.00" fill="url(#rd)" />
<rect x="188.50" y="666.80" width="4.63" height="1.50" fill="#b790f0" />
<rect x="29.20" y="670.30" width="157.80" height="4.00" fill="url(#rd)" />
<rect x="187.00" y="670.80" width="7.63" height="1.50" fill="#b790f0" />
<rect x="30.30" y="674.30" width="66.70" height="4.00" fill="url(#rd)" />
<rect x="97.00" y="674.80" width="3.35" height="1.50" fill="#b790f0" />
<rect x="102.00" y="674.30" width="84.00" height="4.00" fill="url(#rd)" />
<rect x="186.00" y="674.80" width="2.95" height="1.50" fill="#b790f0" />
<rect x="31.50" y="678.30" width="44.50" height="4.00" fill="url(#rd)" />
<rect x="76.00" y="678.80" width="11.32" height="1.50" fill="#b790f0" />
<rect x="79.00" y="678.30" width="17.60" height="4.00" fill="url(#rd)" />
<rect x="104.00" y="678.30" width="18.00" height="4.00" fill="url(#rd)" />
<rect x="130.00" y="678.30" width="7.00" height="4.00" fill="url(#rd)" />
<rect x="137.00" y="678.80" width="7.96" height="1.50" fill="#b790f0" />
<rect x="150.00" y="678.30" width="32.00" height="4.00" fill="url(#rd)" />
<rect x="182.00" y="678.80" width="4.21" height="1.50" fill="#b790f0" />
<rect x="32.50" y="682.30" width="42.50" height="4.00" fill="url(#rd)" />
<rect x="75.00" y="682.80" width="7.97" height="1.50" fill="#b790f0" />
<rect x="90.30" y="682.30" width="6.30" height="4.00" fill="url(#rd)" />
<rect x="96.60" y="682.80" width="4.37" height="1.50" fill="#b790f0" />
<rect x="127.00" y="682.30" width="10.50" height="4.00" fill="url(#rd)" />
<rect x="137.50" y="682.80" width="10.89" height="1.50" fill="#b790f0" />
<rect x="152.00" y="682.30" width="27.00" height="4.00" fill="url(#rd)" />
<rect x="179.00" y="682.80" width="4.22" height="1.50" fill="#b790f0" />
<rect x="33.60" y="686.30" width="37.40" height="4.00" fill="url(#rd)" />
<rect x="71.00" y="686.80" width="10.90" height="1.50" fill="#b790f0" />
<rect x="90.30" y="686.30" width="6.30" height="4.00" fill="url(#rd)" />
<rect x="96.60" y="686.80" width="9.43" height="1.50" fill="#b790f0" />
<rect x="130.00" y="686.30" width="5.00" height="4.00" fill="url(#rd)" />
<rect x="135.00" y="686.80" width="7.92" height="1.50" fill="#b790f0" />
<rect x="155.00" y="686.30" width="23.00" height="4.00" fill="url(#rd)" />
<rect x="178.00" y="686.80" width="2.71" height="1.50" fill="#b790f0" />
<rect x="34.50" y="690.30" width="34.50" height="4.00" fill="url(#rd)" />
<rect x="90.30" y="690.30" width="6.30" height="4.00" fill="url(#rd)" />
<rect x="157.00" y="690.30" width="20.00" height="4.00" fill="url(#rd)" />
<rect x="177.00" y="690.80" width="3.54" height="1.50" fill="#b790f0" />
<rect x="35.30" y="694.30" width="31.70" height="4.00" fill="url(#rd)" />
<rect x="67.00" y="694.80" width="10.42" height="1.50" fill="#b790f0" />
<rect x="90.30" y="694.30" width="6.30" height="4.00" fill="url(#rd)" />
<rect x="96.60" y="694.80" width="5.44" height="1.50" fill="#b790f0" />
<rect x="158.00" y="694.30" width="18.00" height="4.00" fill="url(#rd)" />
<rect x="176.00" y="694.80" width="11.44" height="1.50" fill="#b790f0" />
<rect x="36.00" y="698.30" width="28.00" height="4.00" fill="url(#rd)" />
<rect x="64.00" y="698.80" width="8.27" height="1.50" fill="#b790f0" />
<rect x="90.30" y="698.30" width="6.30" height="4.00" fill="url(#rd)" />
<rect x="96.60" y="698.80" width="8.60" height="1.50" fill="#b790f0" />
<rect x="160.00" y="698.30" width="15.00" height="4.00" fill="url(#rd)" />
<rect x="175.00" y="698.80" width="4.75" height="1.50" fill="#b790f0" />
<rect x="36.60" y="702.30" width="24.40" height="4.00" fill="url(#rd)" />
<rect x="61.00" y="702.80" width="4.90" height="1.50" fill="#b790f0" />
<rect x="90.30" y="702.30" width="6.30" height="4.00" fill="url(#rd)" />
<rect x="162.00" y="702.30" width="12.00" height="4.00" fill="url(#rd)" />
<rect x="174.00" y="702.80" width="3.49" height="1.50" fill="#b790f0" />
<rect x="38.00" y="706.30" width="23.00" height="4.00" fill="url(#rd)" />
<rect x="61.00" y="706.80" width="11.09" height="1.50" fill="#b790f0" />
<rect x="90.30" y="706.30" width="6.30" height="4.00" fill="url(#rd)" />
<rect x="96.60" y="706.80" width="11.58" height="1.50" fill="#b790f0" />
<rect x="164.00" y="706.30" width="9.00" height="4.00" fill="url(#rd)" />
<rect x="42.00" y="710.30" width="19.00" height="4.00" fill="url(#rd)" />
<rect x="90.30" y="710.30" width="6.30" height="4.00" fill="url(#rd)" />
<rect x="96.60" y="710.80" width="9.61" height="1.50" fill="#b790f0" />
<rect x="165.50" y="710.30" width="7.50" height="4.00" fill="url(#rd)" />
<rect x="173.00" y="710.80" width="2.72" height="1.50" fill="#b790f0" />
<rect x="46.00" y="714.30" width="15.00" height="4.00" fill="url(#rd)" />
<rect x="90.30" y="714.30" width="5.70" height="4.00" fill="url(#rd)" />
<rect x="96.00" y="714.80" width="7.67" height="1.50" fill="#b790f0" />
<rect x="167.00" y="714.30" width="5.00" height="4.00" fill="url(#rd)" />
<rect x="172.00" y="714.80" width="4.51" height="1.50" fill="#b790f0" />
<rect x="58.30" y="718.30" width="2.70" height="4.00" fill="url(#rd)" />
<rect x="61.00" y="718.80" width="6.81" height="1.50" fill="#b790f0" />
<rect x="90.30" y="718.30" width="5.70" height="4.00" fill="url(#rd)" />
<rect x="168.00" y="718.30" width="4.00" height="4.00" fill="url(#rd)" />
<rect x="58.30" y="722.30" width="5.70" height="4.00" fill="url(#rd)" />
<rect x="64.00" y="722.80" width="11.15" height="1.50" fill="#b790f0" />
<rect x="90.30" y="722.30" width="7.70" height="4.00" fill="url(#rd)" />
<rect x="98.00" y="722.80" width="5.32" height="1.50" fill="#b790f0" />
<rect x="58.30" y="726.30" width="4.70" height="4.00" fill="url(#rd)" />
<rect x="63.00" y="726.80" width="7.27" height="1.50" fill="#b790f0" />
<rect x="90.30" y="726.30" width="5.70" height="4.00" fill="url(#rd)" />
<rect x="96.00" y="726.80" width="9.04" height="1.50" fill="#b790f0" />
<rect x="59.30" y="658.50" width="1.30" height="72.00" fill="#2e1446" />
</g>
<rect x="75.9" y="607.7" width="74.7" height="125.9" rx="2.2" fill="none" stroke="#58a7ef" stroke-width="0.9"/>
<rect x="253.40" y="593.15" width="163.49" height="6.50" fill="#80d5b5" />
<line x1="251.20" y1="596.40" x2="253.40" y2="596.40" stroke="#333" stroke-width="0.7" />
<text x="250.40" y="599.40" font-size="8.6" text-anchor="end" fill="#111" >CNL</text>
<rect x="253.40" y="602.00" width="126.02" height="6.50" fill="#80d5b5" />
<line x1="251.20" y1="605.25" x2="253.40" y2="605.25" stroke="#333" stroke-width="0.7" />
<text x="250.40" y="608.25" font-size="8.6" text-anchor="end" fill="#111" >NL</text>
<rect x="253.40" y="610.85" width="94.69" height="6.50" fill="#80d5b5" />
<line x1="251.20" y1="614.10" x2="253.40" y2="614.10" stroke="#333" stroke-width="0.7" />
<text x="250.40" y="617.10" font-size="8.6" text-anchor="end" fill="#111" >TNL</text>
<line x1="251.20" y1="622.95" x2="253.40" y2="622.95" stroke="#333" stroke-width="0.7" />
<text x="250.40" y="625.95" font-size="8.6" text-anchor="end" fill="#111" >RNL</text>
<rect x="253.40" y="629.45" width="124.66" height="6.50" fill="#e48bc7" />
<line x1="251.20" y1="632.70" x2="253.40" y2="632.70" stroke="#333" stroke-width="0.7" />
<text x="250.40" y="635.70" font-size="8.6" text-anchor="end" fill="#111" >CNL</text>
<rect x="253.40" y="638.30" width="96.73" height="6.50" fill="#e48bc7" />
<line x1="251.20" y1="641.55" x2="253.40" y2="641.55" stroke="#333" stroke-width="0.7" />
<text x="250.40" y="644.55" font-size="8.6" text-anchor="end" fill="#111" >NL</text>
<rect x="253.40" y="647.15" width="65.40" height="6.50" fill="#e48bc7" />
<line x1="251.20" y1="650.40" x2="253.40" y2="650.40" stroke="#333" stroke-width="0.7" />
<text x="250.40" y="653.40" font-size="8.6" text-anchor="end" fill="#111" >TNL</text>
<rect x="253.40" y="656.00" width="4.09" height="6.50" fill="#e48bc7" />
<line x1="251.20" y1="659.25" x2="253.40" y2="659.25" stroke="#333" stroke-width="0.7" />
<text x="250.40" y="662.25" font-size="8.6" text-anchor="end" fill="#111" >RNL</text>
<rect x="253.40" y="665.25" width="97.41" height="6.50" fill="#8ea0cf" />
<line x1="251.20" y1="668.50" x2="253.40" y2="668.50" stroke="#333" stroke-width="0.7" />
<text x="250.40" y="671.50" font-size="8.6" text-anchor="end" fill="#111" >CNL</text>
<rect x="253.40" y="674.10" width="68.80" height="6.50" fill="#8ea0cf" />
<line x1="251.20" y1="677.35" x2="253.40" y2="677.35" stroke="#333" stroke-width="0.7" />
<text x="250.40" y="680.35" font-size="8.6" text-anchor="end" fill="#111" >NL</text>
<rect x="253.40" y="682.95" width="68.12" height="6.50" fill="#8ea0cf" />
<line x1="251.20" y1="686.20" x2="253.40" y2="686.20" stroke="#333" stroke-width="0.7" />
<text x="250.40" y="689.20" font-size="8.6" text-anchor="end" fill="#111" >TNL</text>
<line x1="251.20" y1="695.05" x2="253.40" y2="695.05" stroke="#333" stroke-width="0.7" />
<text x="250.40" y="698.05" font-size="8.6" text-anchor="end" fill="#111" >RNL</text>
<rect x="253.40" y="701.05" width="19.75" height="6.50" fill="#f88d6a" />
<line x1="251.20" y1="704.30" x2="253.40" y2="704.30" stroke="#333" stroke-width="0.7" />
<text x="250.40" y="707.30" font-size="8.6" text-anchor="end" fill="#111" >CNL</text>
<rect x="253.40" y="709.90" width="18.39" height="6.50" fill="#f88d6a" />
<line x1="251.20" y1="713.15" x2="253.40" y2="713.15" stroke="#333" stroke-width="0.7" />
<text x="250.40" y="716.15" font-size="8.6" text-anchor="end" fill="#111" >NL</text>
<rect x="253.40" y="718.75" width="4.09" height="6.50" fill="#f88d6a" />
<line x1="251.20" y1="722.00" x2="253.40" y2="722.00" stroke="#333" stroke-width="0.7" />
<text x="250.40" y="725.00" font-size="8.6" text-anchor="end" fill="#111" >TNL</text>
<rect x="253.40" y="727.60" width="4.09" height="6.50" fill="#f88d6a" />
<line x1="251.20" y1="730.85" x2="253.40" y2="730.85" stroke="#333" stroke-width="0.7" />
<text x="250.40" y="733.85" font-size="8.6" text-anchor="end" fill="#111" >RNL</text>
<line x1="253.40" y1="590.90" x2="253.40" y2="736.10" stroke="#333" stroke-width="0.9" />
<line x1="253.40" y1="736.10" x2="432.80" y2="736.10" stroke="#333" stroke-width="0.9" />
<line x1="253.40" y1="736.10" x2="253.40" y2="738.30" stroke="#333" stroke-width="0.7" />
<text x="253.40" y="747.00" font-size="9.4" text-anchor="middle" fill="#111" >0</text>
<line x1="280.65" y1="736.10" x2="280.65" y2="738.30" stroke="#333" stroke-width="0.7" />
<text x="280.65" y="747.00" font-size="9.4" text-anchor="middle" fill="#111" >40</text>
<line x1="307.90" y1="736.10" x2="307.90" y2="738.30" stroke="#333" stroke-width="0.7" />
<text x="307.90" y="747.00" font-size="9.4" text-anchor="middle" fill="#111" >80</text>
<line x1="335.14" y1="736.10" x2="335.14" y2="738.30" stroke="#333" stroke-width="0.7" />
<text x="335.14" y="747.00" font-size="9.4" text-anchor="middle" fill="#111" >120</text>
<line x1="362.39" y1="736.10" x2="362.39" y2="738.30" stroke="#333" stroke-width="0.7" />
<text x="362.39" y="747.00" font-size="9.4" text-anchor="middle" fill="#111" >160</text>
<line x1="389.64" y1="736.10" x2="389.64" y2="738.30" stroke="#333" stroke-width="0.7" />
<text x="389.64" y="747.00" font-size="9.4" text-anchor="middle" fill="#111" >200</text>
<line x1="416.89" y1="736.10" x2="416.89" y2="738.30" stroke="#333" stroke-width="0.7" />
<text x="416.89" y="747.00" font-size="9.4" text-anchor="middle" fill="#111" >240</text>
<text x="342.70" y="761.00" font-size="11.2" text-anchor="middle" fill="#222" >Number</text>
<rect x="392.40" y="664.10" width="11.60" height="11.60" fill="#80d5b5" rx="1.3"/>
<text x="406.70" y="673.00" font-size="9.4" text-anchor="start" fill="#111" font-style="italic">Zju</text>
<rect x="392.40" y="681.05" width="11.60" height="11.60" fill="#e48bc7" rx="1.3"/>
<text x="406.70" y="689.95" font-size="9.4" text-anchor="start" fill="#111" font-style="italic">Phe</text>
<rect x="392.40" y="698.00" width="11.60" height="11.60" fill="#8ea0cf" rx="1.3"/>
<text x="406.70" y="706.90" font-size="9.4" text-anchor="start" fill="#111" font-style="italic">Rru</text>
<rect x="392.40" y="714.95" width="11.60" height="11.60" fill="#f88d6a" rx="1.3"/>
<text x="406.70" y="723.85" font-size="9.4" text-anchor="start" fill="#111" font-style="italic">Sth</text>
<line x1="561.50" y1="663.00" x2="553.90" y2="659.70" stroke="#333" stroke-width="0.9" /><line x1="553.90" y1="659.70" x2="546.60" y2="653.90" stroke="#333" stroke-width="0.9" /><line x1="546.60" y1="653.90" x2="541.40" y2="646.30" stroke="#333" stroke-width="0.9" /><line x1="541.40" y1="646.30" x2="537.50" y2="638.10" stroke="#333" stroke-width="0.9" /><line x1="561.50" y1="663.00" x2="569.00" y2="659.70" stroke="#333" stroke-width="0.9" /><line x1="569.00" y1="659.70" x2="576.60" y2="654.20" stroke="#333" stroke-width="0.9" /><line x1="576.60" y1="654.20" x2="581.30" y2="646.90" stroke="#333" stroke-width="0.9" /><line x1="581.30" y1="646.90" x2="590.10" y2="641.00" stroke="#333" stroke-width="0.9" /><line x1="561.50" y1="663.00" x2="561.50" y2="672.00" stroke="#333" stroke-width="0.9" /><line x1="561.50" y1="672.00" x2="559.70" y2="680.70" stroke="#333" stroke-width="0.9" /><line x1="559.70" y1="680.70" x2="555.00" y2="690.10" stroke="#333" stroke-width="0.9" /><line x1="553.90" y1="659.70" x2="546.30" y2="663.20" stroke="#333" stroke-width="0.9" /><line x1="546.30" y1="663.20" x2="524.00" y2="672.00" stroke="#d3792d" stroke-width="0.8" stroke-dasharray="1 0.9"/><text x="0" y="0" font-size="8.7" font-style="italic" text-anchor="end" dominant-baseline="central" fill="#d3792d" transform="translate(522.4,673.3) rotate(-27.5)">Sth_RNL3</text><line x1="546.60" y1="653.90" x2="538.70" y2="654.20" stroke="#333" stroke-width="0.9" /><line x1="538.70" y1="654.20" x2="517.00" y2="654.20" stroke="#d3792d" stroke-width="0.8" stroke-dasharray="1 0.9"/><text x="0" y="0" font-size="8.7" font-style="italic" text-anchor="end" dominant-baseline="central" fill="#d3792d" transform="translate(515.8,654.3) rotate(-0.0)">Sth_RNL5</text><line x1="541.40" y1="646.30" x2="534.00" y2="643.40" stroke="#333" stroke-width="0.9" /><line x1="534.00" y1="643.40" x2="517.00" y2="636.00" stroke="#d3792d" stroke-width="0.8" stroke-dasharray="1 0.9"/><text x="0" y="0" font-size="8.7" font-style="italic" text-anchor="end" dominant-baseline="central" fill="#d3792d" transform="translate(515.8,633.9) rotate(23.5)">Sth_RNL2</text><line x1="537.50" y1="638.10" x2="534.00" y2="632.80" stroke="#333" stroke-width="0.9" /><line x1="534.00" y1="632.80" x2="527.00" y2="620.00" stroke="#d3792d" stroke-width="0.8" stroke-dasharray="1 0.9"/><text x="0" y="0" font-size="8.7" font-style="italic" text-anchor="end" dominant-baseline="central" fill="#d3792d" transform="translate(525.7,617.5) rotate(34.3)">Sth_RNA4</text><line x1="537.50" y1="638.10" x2="536.40" y2="631.10" stroke="#333" stroke-width="0.9" /><line x1="536.40" y1="631.10" x2="540.00" y2="615.50" stroke="#d3792d" stroke-width="0.8" stroke-dasharray="1 0.9"/><text x="0" y="0" font-size="8.7" font-style="italic" text-anchor="end" dominant-baseline="central" fill="#d3792d" transform="translate(540.5,614.2) rotate(37.3)">Sth_RNL6</text><line x1="569.00" y1="659.70" x2="577.20" y2="663.20" stroke="#333" stroke-width="0.9" /><line x1="577.20" y1="663.20" x2="598.00" y2="673.00" stroke="#3e56b2" stroke-width="0.8" stroke-dasharray="1 0.9"/><text x="0" y="0" font-size="8.7" font-style="italic" text-anchor="start" dominant-baseline="central" fill="#3e56b2" transform="translate(599.6,675.0) rotate(26.6)">Phe_RNL1</text><line x1="576.60" y1="654.20" x2="584.80" y2="654.20" stroke="#333" stroke-width="0.9" /><line x1="584.80" y1="654.20" x2="610.00" y2="654.20" stroke="#3e56b2" stroke-width="0.8" stroke-dasharray="1 0.9"/><text x="0" y="0" font-size="8.7" font-style="italic" text-anchor="start" dominant-baseline="central" fill="#3e56b2" transform="translate(611.1,654.0) rotate(0.0)">Phe_RNL6</text><line x1="581.30" y1="646.90" x2="583.40" y2="638.70" stroke="#333" stroke-width="0.9" /><line x1="583.40" y1="638.70" x2="584.60" y2="611.00" stroke="#d42f8b" stroke-width="0.8" stroke-dasharray="1 0.9"/><text x="0" y="0" font-size="8.7" font-style="italic" text-anchor="start" dominant-baseline="central" fill="#d42f8b" transform="translate(584.8,609.3) rotate(-73.1)">Zju_RNL1</text><line x1="590.10" y1="641.00" x2="593.60" y2="635.20" stroke="#333" stroke-width="0.9" /><line x1="593.60" y1="635.20" x2="606.00" y2="620.00" stroke="#3b8d4d" stroke-width="0.8" stroke-dasharray="1 0.9"/><text x="0" y="0" font-size="8.7" font-style="italic" text-anchor="start" dominant-baseline="central" fill="#3b8d4d" transform="translate(607.2,618.5) rotate(-46.8)">Rru_RNL1</text><line x1="590.10" y1="641.00" x2="596.50" y2="638.10" stroke="#333" stroke-width="0.9" /><line x1="596.50" y1="638.10" x2="615.50" y2="630.20" stroke="#d3792d" stroke-width="0.8" stroke-dasharray="1 0.9"/><text x="0" y="0" font-size="8.7" font-style="italic" text-anchor="start" dominant-baseline="central" fill="#d3792d" transform="translate(617.0,629.6) rotate(-30.0)">Sth_RNL1</text><line x1="561.50" y1="672.00" x2="567.90" y2="678.40" stroke="#333" stroke-width="0.9" /><line x1="567.90" y1="678.40" x2="583.00" y2="699.00" stroke="#3e56b2" stroke-width="0.8" stroke-dasharray="1 0.9"/><text x="0" y="0" font-size="8.7" font-style="italic" text-anchor="start" dominant-baseline="central" fill="#3e56b2" transform="translate(584.2,700.6) rotate(49.5)">Phe_RNL2</text><line x1="559.70" y1="680.70" x2="561.50" y2="688.90" stroke="#333" stroke-width="0.9" /><line x1="561.50" y1="688.90" x2="566.00" y2="711.00" stroke="#3e56b2" stroke-width="0.8" stroke-dasharray="1 0.9"/><text x="0" y="0" font-size="8.7" font-style="italic" text-anchor="start" dominant-baseline="central" fill="#3e56b2" transform="translate(566.8,712.8) rotate(72.9)">Phe_RNL3</text><line x1="555.00" y1="690.10" x2="553.50" y2="697.00" stroke="#333" stroke-width="0.9" /><line x1="553.50" y1="697.00" x2="552.30" y2="710.00" stroke="#3e56b2" stroke-width="0.8" stroke-dasharray="1 0.9"/><text x="0" y="0" font-size="8.7" font-style="italic" text-anchor="end" dominant-baseline="central" fill="#3e56b2" transform="translate(552.6,711.1) rotate(-74.2)">Phe_RNL4</text><line x1="555.00" y1="690.10" x2="549.50" y2="696.50" stroke="#333" stroke-width="0.9" /><line x1="549.50" y1="696.50" x2="541.00" y2="706.00" stroke="#3e56b2" stroke-width="0.8" stroke-dasharray="1 0.9"/><text x="0" y="0" font-size="8.7" font-style="italic" text-anchor="end" dominant-baseline="central" fill="#3e56b2" transform="translate(540.5,706.2) rotate(-49.4)">Phe_RNL5</text>
</svg></body></html>
